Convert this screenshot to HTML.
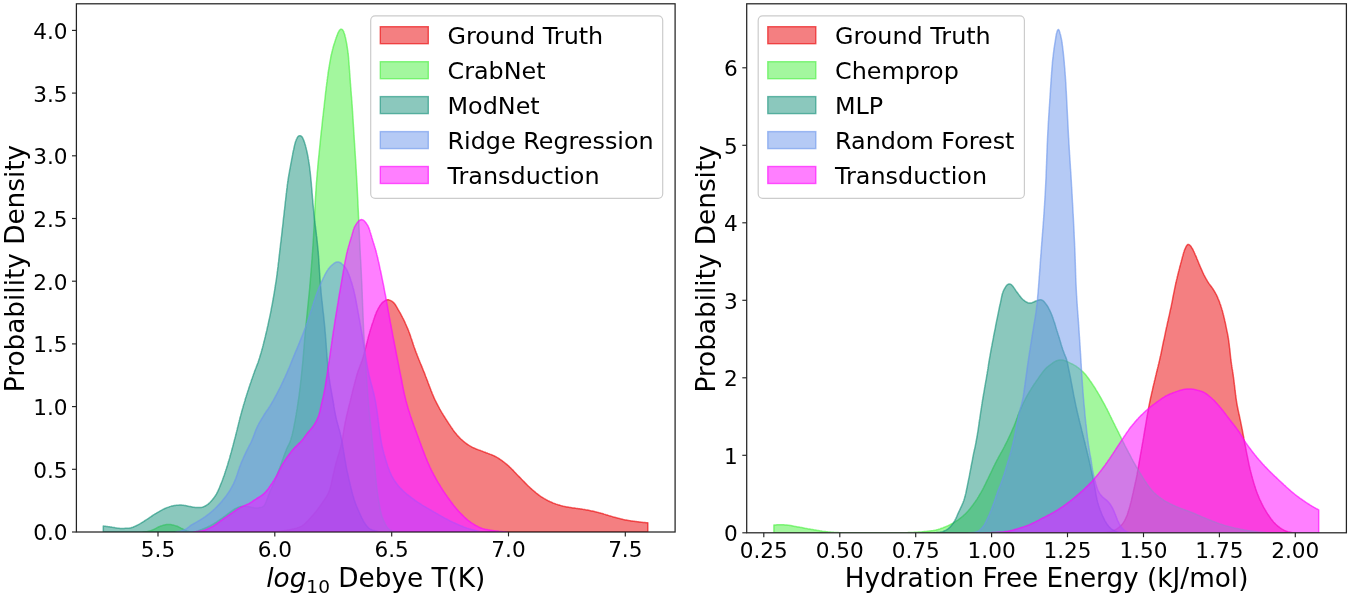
<!DOCTYPE html>
<html><head><meta charset="utf-8"><title>KDE</title>
<style>
html,body{margin:0;padding:0;background:#fff}
svg{display:block;filter:blur(0.45px)}
text{font-family:"DejaVu Sans","Liberation Sans",sans-serif;fill:#000}
.tk{font-size:21.6px}
.lb{font-size:26.3px}
.lg{font-size:23.85px}
</style></head><body>
<svg width="1350" height="596" viewBox="0 0 1350 596">
<rect width="1350" height="596" fill="#fff"/>
<clipPath id="cl"><rect x="76.4" y="3.8" width="598.7" height="528.2"/></clipPath>
<g clip-path="url(#cl)">
<rect x="76.4" y="3.8" width="598.7" height="528.2" fill="#fff"/>
<path d="M272.0 532.0 L272.0 532.0 L273.2 531.9 L274.0 531.8 L275.0 531.8 L276.0 531.7 L277.0 531.6 L278.0 531.5 L279.0 531.3 L280.0 531.2 L281.0 531.1 L281.9 530.9 L282.9 530.8 L283.9 530.7 L284.9 530.5 L285.9 530.4 L286.9 530.2 L287.9 530.0 L288.9 529.9 L289.8 529.7 L290.8 529.5 L291.8 529.3 L292.8 529.1 L293.8 528.9 L294.7 528.6 L295.7 528.4 L296.7 528.1 L297.6 527.8 L298.6 527.5 L299.5 527.1 L300.4 526.8 L301.3 526.3 L302.2 525.8 L303.0 525.2 L303.8 524.6 L304.5 524.0 L305.3 523.3 L306.0 522.6 L306.7 521.9 L307.4 521.2 L308.1 520.5 L308.8 519.7 L309.4 519.0 L310.1 518.3 L310.8 517.5 L311.4 516.8 L312.1 516.0 L312.8 515.3 L313.4 514.5 L314.1 513.8 L314.7 513.0 L315.4 512.2 L316.0 511.5 L316.6 510.7 L317.2 509.9 L317.8 509.1 L318.4 508.3 L319.0 507.5 L319.6 506.7 L320.2 505.8 L320.8 505.0 L321.3 504.2 L321.9 503.4 L322.5 502.6 L323.0 501.7 L323.6 500.9 L324.1 500.1 L324.7 499.3 L325.3 498.4 L325.8 497.6 L326.4 496.8 L326.9 495.9 L327.4 495.0 L327.9 494.2 L328.3 493.3 L328.7 492.4 L329.1 491.4 L329.4 490.5 L329.8 489.5 L330.0 488.6 L330.3 487.6 L330.6 486.7 L330.8 485.7 L331.1 484.7 L331.3 483.7 L331.5 482.8 L331.7 481.8 L332.0 480.8 L332.2 479.8 L332.4 478.9 L332.6 477.9 L332.8 476.9 L333.0 475.9 L333.2 475.0 L333.4 474.0 L333.7 473.0 L333.9 472.0 L334.1 471.0 L334.3 470.1 L334.5 469.1 L334.7 468.1 L335.0 467.1 L335.2 466.2 L335.5 465.2 L335.7 464.2 L336.0 463.3 L336.2 462.3 L336.5 461.3 L336.8 460.4 L337.1 459.4 L337.3 458.5 L337.6 457.5 L337.9 456.6 L338.2 455.6 L338.5 454.6 L338.8 453.7 L339.1 452.7 L339.4 451.8 L339.6 450.8 L339.9 449.8 L340.2 448.9 L340.4 447.9 L340.7 446.9 L340.9 446.0 L341.2 445.0 L341.4 444.0 L341.6 443.1 L341.9 442.1 L342.1 441.1 L342.3 440.1 L342.5 439.1 L342.6 438.2 L342.8 437.2 L342.9 436.2 L343.1 435.2 L343.2 434.2 L343.4 433.2 L343.5 432.2 L343.7 431.2 L343.8 430.3 L344.0 429.3 L344.1 428.3 L344.3 427.3 L344.5 426.3 L344.7 425.3 L344.9 424.3 L345.0 423.4 L345.2 422.4 L345.4 421.4 L345.7 420.4 L345.9 419.4 L346.1 418.5 L346.3 417.5 L346.5 416.5 L346.7 415.5 L346.9 414.6 L347.2 413.6 L347.4 412.6 L347.6 411.6 L347.9 410.7 L348.1 409.7 L348.3 408.7 L348.6 407.8 L348.8 406.8 L349.1 405.8 L349.3 404.8 L349.5 403.9 L349.8 402.9 L350.0 401.9 L350.3 401.0 L350.5 400.0 L350.7 399.0 L351.0 398.0 L351.2 397.1 L351.4 396.1 L351.7 395.1 L351.9 394.2 L352.2 393.2 L352.4 392.2 L352.6 391.2 L352.9 390.3 L353.1 389.3 L353.3 388.3 L353.6 387.4 L353.8 386.4 L354.1 385.4 L354.3 384.5 L354.6 383.5 L354.8 382.5 L355.1 381.5 L355.3 380.6 L355.6 379.6 L355.9 378.7 L356.1 377.7 L356.4 376.7 L356.7 375.8 L356.9 374.8 L357.2 373.8 L357.5 372.9 L357.8 371.9 L358.1 371.0 L358.5 370.0 L358.8 369.1 L359.2 368.2 L359.5 367.2 L359.9 366.3 L360.2 365.4 L360.6 364.4 L361.0 363.5 L361.3 362.6 L361.6 361.6 L362.0 360.7 L362.3 359.7 L362.6 358.8 L362.9 357.8 L363.2 356.9 L363.4 355.9 L363.7 354.9 L364.0 354.0 L364.2 353.0 L364.5 352.0 L364.8 351.1 L365.0 350.1 L365.3 349.1 L365.5 348.2 L365.8 347.2 L366.0 346.2 L366.3 345.3 L366.5 344.3 L366.7 343.3 L367.0 342.4 L367.2 341.4 L367.5 340.4 L367.7 339.5 L368.0 338.5 L368.2 337.5 L368.5 336.5 L368.8 335.6 L369.0 334.6 L369.3 333.7 L369.6 332.7 L369.8 331.7 L370.1 330.8 L370.4 329.8 L370.7 328.9 L371.0 327.9 L371.3 327.0 L371.6 326.0 L371.9 325.1 L372.2 324.1 L372.5 323.2 L372.9 322.2 L373.2 321.3 L373.5 320.3 L373.8 319.4 L374.1 318.4 L374.5 317.5 L374.8 316.5 L375.1 315.6 L375.5 314.6 L375.9 313.7 L376.2 312.8 L376.6 311.9 L377.0 311.0 L377.5 310.1 L377.9 309.2 L378.4 308.3 L378.9 307.4 L379.4 306.6 L379.9 305.7 L380.5 304.9 L381.1 304.1 L381.7 303.3 L382.4 302.6 L383.2 301.9 L384.0 301.3 L384.8 300.8 L385.7 300.3 L386.6 300.0 L387.5 299.8 L388.5 299.8 L389.4 300.1 L390.3 300.4 L391.2 300.9 L392.1 301.4 L392.9 302.0 L393.6 302.6 L394.3 303.4 L394.9 304.1 L395.5 305.0 L396.0 305.8 L396.5 306.7 L397.0 307.5 L397.5 308.4 L398.0 309.3 L398.5 310.1 L399.0 311.0 L399.5 311.9 L400.0 312.7 L400.5 313.6 L401.0 314.5 L401.4 315.4 L401.9 316.3 L402.4 317.2 L402.8 318.0 L403.3 318.9 L403.7 319.8 L404.1 320.7 L404.6 321.6 L405.0 322.5 L405.4 323.5 L405.8 324.4 L406.2 325.3 L406.6 326.2 L407.0 327.1 L407.4 328.0 L407.8 328.9 L408.2 329.9 L408.6 330.8 L408.9 331.7 L409.3 332.7 L409.6 333.6 L409.9 334.6 L410.3 335.5 L410.6 336.4 L410.9 337.4 L411.2 338.3 L411.6 339.3 L411.9 340.2 L412.2 341.2 L412.5 342.1 L412.8 343.1 L413.1 344.0 L413.4 345.0 L413.8 345.9 L414.1 346.9 L414.4 347.8 L414.8 348.8 L415.1 349.7 L415.4 350.6 L415.8 351.6 L416.1 352.5 L416.5 353.4 L416.9 354.4 L417.2 355.3 L417.6 356.2 L418.0 357.2 L418.3 358.1 L418.7 359.0 L419.1 360.0 L419.5 360.9 L419.8 361.8 L420.2 362.7 L420.6 363.7 L421.0 364.6 L421.4 365.5 L421.7 366.4 L422.1 367.4 L422.5 368.3 L422.9 369.2 L423.2 370.1 L423.6 371.1 L424.0 372.0 L424.4 372.9 L424.7 373.9 L425.1 374.8 L425.4 375.7 L425.8 376.7 L426.2 377.6 L426.5 378.5 L426.9 379.5 L427.2 380.4 L427.6 381.3 L427.9 382.3 L428.3 383.2 L428.6 384.1 L429.0 385.1 L429.3 386.0 L429.7 386.9 L430.0 387.9 L430.4 388.8 L430.8 389.7 L431.1 390.7 L431.5 391.6 L431.9 392.5 L432.2 393.5 L432.6 394.4 L433.0 395.3 L433.4 396.2 L433.8 397.1 L434.2 398.1 L434.6 399.0 L435.0 399.9 L435.5 400.8 L435.9 401.7 L436.4 402.6 L436.8 403.5 L437.3 404.3 L437.7 405.2 L438.2 406.1 L438.7 407.0 L439.2 407.9 L439.6 408.8 L440.1 409.6 L440.6 410.5 L441.1 411.4 L441.6 412.2 L442.1 413.1 L442.7 413.9 L443.2 414.8 L443.7 415.6 L444.2 416.5 L444.8 417.3 L445.3 418.2 L445.8 419.0 L446.4 419.9 L446.9 420.7 L447.5 421.5 L448.0 422.4 L448.6 423.2 L449.1 424.1 L449.7 424.9 L450.2 425.7 L450.8 426.6 L451.3 427.4 L451.9 428.2 L452.5 429.0 L453.0 429.8 L453.6 430.7 L454.2 431.5 L454.8 432.3 L455.4 433.0 L456.1 433.8 L456.7 434.6 L457.3 435.4 L458.0 436.1 L458.7 436.8 L459.4 437.6 L460.1 438.3 L460.8 439.0 L461.6 439.6 L462.3 440.3 L463.1 441.0 L463.8 441.6 L464.6 442.2 L465.4 442.9 L466.2 443.5 L467.0 444.0 L467.8 444.6 L468.6 445.2 L469.5 445.7 L470.3 446.2 L471.2 446.7 L472.1 447.2 L473.0 447.6 L473.9 448.0 L474.8 448.4 L475.7 448.8 L476.7 449.2 L477.6 449.5 L478.5 449.9 L479.5 450.2 L480.4 450.5 L481.4 450.9 L482.3 451.2 L483.2 451.6 L484.2 452.0 L485.1 452.3 L486.0 452.7 L487.0 453.0 L487.9 453.4 L488.8 453.7 L489.8 454.1 L490.7 454.4 L491.6 454.8 L492.6 455.2 L493.5 455.6 L494.4 456.0 L495.3 456.5 L496.2 456.9 L497.0 457.4 L497.9 457.9 L498.7 458.5 L499.6 459.0 L500.4 459.6 L501.2 460.1 L502.0 460.7 L502.8 461.3 L503.6 461.9 L504.4 462.5 L505.2 463.2 L506.0 463.8 L506.8 464.4 L507.5 465.1 L508.3 465.7 L509.0 466.4 L509.7 467.1 L510.5 467.8 L511.2 468.5 L511.9 469.2 L512.6 469.9 L513.3 470.6 L514.0 471.4 L514.6 472.1 L515.3 472.8 L516.0 473.5 L516.7 474.3 L517.4 475.0 L518.1 475.7 L518.8 476.4 L519.5 477.1 L520.2 477.8 L520.9 478.5 L521.6 479.3 L522.3 480.0 L523.0 480.7 L523.7 481.4 L524.4 482.1 L525.1 482.9 L525.8 483.6 L526.5 484.3 L527.2 485.0 L527.9 485.7 L528.6 486.4 L529.4 487.0 L530.1 487.7 L530.8 488.4 L531.6 489.1 L532.3 489.7 L533.1 490.4 L533.9 491.0 L534.6 491.7 L535.4 492.3 L536.1 493.0 L536.9 493.6 L537.7 494.2 L538.5 494.8 L539.3 495.4 L540.1 496.0 L540.9 496.6 L541.8 497.1 L542.6 497.6 L543.5 498.2 L544.3 498.7 L545.2 499.2 L546.1 499.7 L547.0 500.1 L547.8 500.6 L548.7 501.0 L549.6 501.5 L550.6 501.9 L551.5 502.3 L552.4 502.7 L553.3 503.1 L554.2 503.4 L555.2 503.8 L556.1 504.1 L557.1 504.4 L558.0 504.7 L559.0 505.0 L559.9 505.3 L560.9 505.6 L561.9 505.9 L562.8 506.1 L563.8 506.4 L564.8 506.6 L565.7 506.8 L566.7 507.0 L567.7 507.1 L568.7 507.3 L569.7 507.5 L570.7 507.6 L571.7 507.7 L572.7 507.9 L573.7 508.0 L574.6 508.1 L575.6 508.3 L576.6 508.4 L577.6 508.5 L578.6 508.7 L579.6 508.8 L580.6 509.0 L581.6 509.1 L582.6 509.3 L583.5 509.4 L584.5 509.6 L585.5 509.8 L586.5 509.9 L587.5 510.1 L588.5 510.3 L589.5 510.5 L590.4 510.7 L591.4 510.9 L592.4 511.1 L593.4 511.3 L594.3 511.5 L595.3 511.8 L596.3 512.0 L597.3 512.3 L598.2 512.5 L599.2 512.8 L600.2 513.0 L601.1 513.3 L602.1 513.5 L603.1 513.8 L604.0 514.1 L605.0 514.4 L605.9 514.7 L606.9 515.0 L607.8 515.3 L608.8 515.6 L609.7 515.9 L610.7 516.1 L611.7 516.4 L612.6 516.7 L613.6 517.0 L614.5 517.2 L615.5 517.5 L616.5 517.8 L617.4 518.0 L618.4 518.3 L619.4 518.5 L620.3 518.8 L621.3 519.0 L622.3 519.2 L623.3 519.5 L624.2 519.7 L625.2 519.9 L626.2 520.0 L627.2 520.2 L628.2 520.4 L629.2 520.6 L630.2 520.7 L631.1 520.9 L632.1 521.0 L633.1 521.2 L634.1 521.3 L635.1 521.5 L636.1 521.6 L637.1 521.7 L638.1 521.8 L639.1 522.0 L640.1 522.1 L641.1 522.2 L642.0 522.3 L643.0 522.4 L644.0 522.5 L645.0 522.6 L646.0 522.7 L646.8 522.7 L647.8 522.8 L647.8 532.0 Z" fill="rgb(234,0,4)" fill-opacity="0.5" stroke="rgb(234,0,4)" stroke-opacity="0.62" stroke-width="1.5" stroke-linejoin="round"/>
<path d="M143.0 532.0 L143.0 532.0 L144.2 531.9 L145.0 531.8 L146.0 531.7 L147.0 531.6 L148.0 531.4 L148.9 531.1 L149.9 530.9 L150.8 530.6 L151.8 530.3 L152.7 529.9 L153.6 529.5 L154.5 529.1 L155.4 528.6 L156.3 528.2 L157.2 527.7 L158.1 527.2 L159.0 526.8 L159.9 526.4 L160.8 526.0 L161.8 525.7 L162.7 525.4 L163.7 525.1 L164.6 524.9 L165.6 524.7 L166.6 524.5 L167.6 524.4 L168.6 524.4 L169.6 524.4 L170.6 524.5 L171.6 524.7 L172.5 524.9 L173.5 525.1 L174.5 525.4 L175.4 525.7 L176.4 526.0 L177.3 526.3 L178.2 526.7 L179.1 527.2 L180.0 527.6 L180.9 528.1 L181.8 528.5 L182.7 529.0 L183.6 529.5 L184.4 529.9 L185.3 530.4 L186.3 530.7 L187.2 531.0 L188.2 531.2 L189.2 531.5 L190.2 531.7 L191.1 531.8 L192.1 531.9 L193.1 531.9 L194.1 531.8 L195.1 531.7 L196.1 531.5 L197.0 531.2 L198.0 530.9 L198.9 530.5 L199.8 530.1 L200.7 529.7 L201.7 529.4 L202.6 529.0 L203.5 528.7 L204.5 528.3 L205.4 527.9 L206.3 527.5 L207.2 527.2 L208.1 526.7 L209.0 526.3 L209.9 525.9 L210.8 525.4 L211.7 524.9 L212.6 524.4 L213.4 523.9 L214.3 523.4 L215.1 522.8 L216.0 522.3 L216.8 521.8 L217.6 521.2 L218.5 520.7 L219.3 520.1 L220.1 519.5 L220.9 519.0 L221.7 518.4 L222.6 517.8 L223.4 517.2 L224.2 516.6 L225.0 516.0 L225.8 515.4 L226.6 514.8 L227.4 514.2 L228.2 513.6 L229.0 513.0 L229.8 512.4 L230.6 511.8 L231.4 511.2 L232.2 510.7 L233.0 510.1 L233.9 509.5 L234.7 509.0 L235.6 508.5 L236.5 508.1 L237.4 507.6 L238.3 507.2 L239.2 506.9 L240.2 506.6 L241.2 506.5 L242.1 506.4 L243.1 506.3 L244.1 506.3 L245.1 506.3 L246.1 506.4 L247.1 506.5 L248.1 506.6 L249.1 506.8 L250.1 507.1 L251.0 507.3 L252.0 507.5 L253.0 507.6 L254.0 507.8 L255.0 507.9 L256.0 507.9 L257.0 507.9 L258.0 507.9 L259.0 507.8 L259.9 507.6 L260.9 507.4 L261.9 507.1 L262.8 506.7 L263.6 506.2 L264.3 505.5 L264.8 504.7 L265.2 503.8 L265.6 502.9 L266.0 502.0 L266.3 501.0 L266.7 500.1 L267.0 499.2 L267.4 498.2 L267.8 497.3 L268.1 496.4 L268.5 495.4 L268.8 494.5 L269.2 493.6 L269.6 492.6 L269.9 491.7 L270.3 490.8 L270.7 489.9 L271.1 489.0 L271.5 488.0 L272.0 487.1 L272.4 486.2 L272.8 485.3 L273.2 484.4 L273.7 483.5 L274.1 482.6 L274.4 481.7 L274.8 480.8 L275.2 479.8 L275.6 478.9 L275.9 478.0 L276.3 477.0 L276.6 476.1 L277.0 475.2 L277.3 474.2 L277.7 473.3 L278.0 472.3 L278.4 471.4 L278.7 470.5 L279.1 469.5 L279.4 468.6 L279.8 467.7 L280.1 466.7 L280.5 465.8 L280.8 464.8 L281.1 463.9 L281.5 463.0 L281.8 462.0 L282.2 461.1 L282.5 460.1 L282.8 459.2 L283.2 458.3 L283.5 457.3 L283.8 456.4 L284.2 455.4 L284.5 454.5 L284.9 453.6 L285.2 452.6 L285.6 451.7 L286.0 450.8 L286.3 449.8 L286.7 448.9 L287.1 448.0 L287.5 447.1 L288.0 446.2 L288.4 445.3 L288.9 444.4 L289.3 443.5 L289.7 442.6 L290.1 441.6 L290.4 440.7 L290.8 439.8 L291.1 438.8 L291.3 437.9 L291.6 436.9 L291.9 435.9 L292.1 435.0 L292.4 434.0 L292.6 433.0 L292.8 432.0 L293.0 431.1 L293.3 430.1 L293.5 429.1 L293.7 428.1 L293.9 427.2 L294.1 426.2 L294.2 425.2 L294.4 424.2 L294.6 423.2 L294.8 422.2 L295.0 421.3 L295.2 420.3 L295.3 419.3 L295.5 418.3 L295.7 417.3 L295.8 416.3 L296.0 415.4 L296.2 414.4 L296.3 413.4 L296.5 412.4 L296.7 411.4 L296.8 410.4 L297.0 409.4 L297.2 408.4 L297.3 407.5 L297.5 406.5 L297.6 405.5 L297.8 404.5 L297.9 403.5 L298.1 402.5 L298.2 401.5 L298.4 400.5 L298.5 399.5 L298.7 398.6 L298.8 397.6 L298.9 396.6 L299.1 395.6 L299.2 394.6 L299.3 393.6 L299.4 392.6 L299.6 391.6 L299.7 390.6 L299.8 389.6 L299.9 388.6 L300.1 387.6 L300.2 386.7 L300.3 385.7 L300.4 384.7 L300.5 383.7 L300.6 382.7 L300.7 381.7 L300.9 380.7 L301.0 379.7 L301.1 378.7 L301.2 377.7 L301.3 376.7 L301.4 375.7 L301.5 374.7 L301.6 373.7 L301.7 372.7 L301.8 371.7 L301.9 370.8 L302.0 369.8 L302.1 368.8 L302.2 367.8 L302.3 366.8 L302.4 365.8 L302.5 364.8 L302.6 363.8 L302.7 362.8 L302.8 361.8 L302.9 360.8 L303.0 359.8 L303.0 358.8 L303.1 357.8 L303.2 356.8 L303.3 355.8 L303.4 354.8 L303.5 353.8 L303.6 352.8 L303.6 351.8 L303.7 350.8 L303.8 349.8 L303.9 348.8 L304.0 347.8 L304.0 346.8 L304.1 345.8 L304.2 344.9 L304.3 343.9 L304.4 342.9 L304.5 341.9 L304.5 340.9 L304.6 339.9 L304.7 338.9 L304.8 337.9 L304.9 336.9 L305.0 335.9 L305.1 334.9 L305.1 333.9 L305.2 332.9 L305.3 331.9 L305.4 330.9 L305.5 329.9 L305.6 328.9 L305.7 327.9 L305.8 326.9 L305.9 325.9 L306.0 324.9 L306.1 323.9 L306.2 322.9 L306.3 321.9 L306.4 321.0 L306.5 320.0 L306.6 319.0 L306.7 318.0 L306.8 317.0 L306.9 316.0 L307.0 315.0 L307.1 314.0 L307.2 313.0 L307.3 312.0 L307.4 311.0 L307.5 310.0 L307.6 309.0 L307.7 308.0 L307.8 307.0 L307.9 306.0 L308.0 305.0 L308.1 304.0 L308.2 303.0 L308.3 302.1 L308.4 301.1 L308.5 300.1 L308.6 299.1 L308.7 298.1 L308.8 297.1 L308.9 296.1 L309.0 295.1 L309.1 294.1 L309.2 293.1 L309.3 292.1 L309.4 291.1 L309.5 290.1 L309.6 289.1 L309.7 288.1 L309.8 287.1 L309.8 286.1 L309.9 285.1 L310.0 284.1 L310.1 283.1 L310.2 282.1 L310.3 281.1 L310.4 280.1 L310.4 279.1 L310.5 278.2 L310.6 277.2 L310.7 276.2 L310.8 275.2 L310.8 274.2 L310.9 273.2 L311.0 272.2 L311.1 271.2 L311.2 270.2 L311.2 269.2 L311.3 268.2 L311.4 267.2 L311.5 266.2 L311.5 265.2 L311.6 264.2 L311.7 263.2 L311.8 262.2 L311.8 261.2 L311.9 260.2 L312.0 259.2 L312.1 258.2 L312.1 257.2 L312.2 256.2 L312.3 255.2 L312.3 254.2 L312.4 253.2 L312.5 252.2 L312.6 251.2 L312.6 250.2 L312.7 249.2 L312.8 248.2 L312.8 247.2 L312.9 246.2 L313.0 245.2 L313.0 244.2 L313.1 243.2 L313.2 242.2 L313.2 241.3 L313.3 240.3 L313.3 239.3 L313.4 238.3 L313.5 237.3 L313.5 236.3 L313.6 235.3 L313.6 234.3 L313.7 233.3 L313.8 232.3 L313.8 231.3 L313.9 230.3 L313.9 229.3 L314.0 228.3 L314.0 227.3 L314.1 226.3 L314.1 225.3 L314.2 224.3 L314.2 223.3 L314.3 222.3 L314.3 221.3 L314.4 220.3 L314.4 219.3 L314.5 218.3 L314.5 217.3 L314.6 216.3 L314.6 215.3 L314.7 214.3 L314.7 213.3 L314.8 212.3 L314.8 211.3 L314.9 210.3 L314.9 209.3 L315.0 208.3 L315.0 207.3 L315.1 206.3 L315.1 205.3 L315.2 204.3 L315.2 203.3 L315.3 202.3 L315.3 201.3 L315.4 200.3 L315.4 199.3 L315.5 198.3 L315.5 197.3 L315.6 196.3 L315.7 195.3 L315.7 194.3 L315.8 193.3 L315.8 192.3 L315.9 191.3 L316.0 190.3 L316.0 189.3 L316.1 188.3 L316.2 187.3 L316.2 186.3 L316.3 185.3 L316.4 184.3 L316.4 183.3 L316.5 182.3 L316.6 181.3 L316.7 180.4 L316.8 179.4 L316.8 178.4 L316.9 177.4 L317.0 176.4 L317.1 175.4 L317.2 174.4 L317.2 173.4 L317.3 172.4 L317.4 171.4 L317.5 170.4 L317.6 169.4 L317.7 168.4 L317.8 167.4 L317.8 166.4 L317.9 165.4 L318.0 164.4 L318.1 163.4 L318.2 162.4 L318.3 161.4 L318.4 160.4 L318.5 159.4 L318.6 158.4 L318.7 157.4 L318.8 156.4 L318.9 155.4 L319.0 154.5 L319.1 153.5 L319.2 152.5 L319.3 151.5 L319.4 150.5 L319.5 149.5 L319.6 148.5 L319.7 147.5 L319.8 146.5 L319.9 145.5 L320.0 144.5 L320.1 143.5 L320.2 142.5 L320.3 141.5 L320.4 140.5 L320.5 139.5 L320.6 138.5 L320.7 137.5 L320.8 136.5 L320.9 135.6 L321.0 134.6 L321.1 133.6 L321.2 132.6 L321.3 131.6 L321.4 130.6 L321.6 129.6 L321.7 128.6 L321.8 127.6 L321.9 126.6 L322.0 125.6 L322.1 124.6 L322.2 123.6 L322.3 122.6 L322.4 121.6 L322.5 120.6 L322.6 119.6 L322.7 118.7 L322.8 117.7 L323.0 116.7 L323.1 115.7 L323.2 114.7 L323.3 113.7 L323.4 112.7 L323.5 111.7 L323.6 110.7 L323.7 109.7 L323.9 108.7 L324.0 107.7 L324.1 106.7 L324.2 105.7 L324.3 104.7 L324.4 103.7 L324.5 102.8 L324.6 101.8 L324.7 100.8 L324.9 99.8 L325.0 98.8 L325.1 97.8 L325.2 96.8 L325.3 95.8 L325.4 94.8 L325.5 93.8 L325.6 92.8 L325.7 91.8 L325.9 90.8 L326.0 89.8 L326.1 88.8 L326.2 87.8 L326.3 86.9 L326.5 85.9 L326.6 84.9 L326.7 83.9 L326.8 82.9 L327.0 81.9 L327.1 80.9 L327.2 79.9 L327.4 78.9 L327.5 77.9 L327.6 76.9 L327.8 75.9 L327.9 75.0 L328.0 74.0 L328.2 73.0 L328.3 72.0 L328.5 71.0 L328.6 70.0 L328.8 69.0 L329.0 68.0 L329.1 67.1 L329.3 66.1 L329.4 65.1 L329.6 64.1 L329.8 63.1 L329.9 62.1 L330.1 61.1 L330.3 60.1 L330.5 59.2 L330.7 58.2 L330.8 57.2 L331.0 56.2 L331.2 55.2 L331.5 54.3 L331.7 53.3 L331.9 52.3 L332.1 51.3 L332.4 50.4 L332.6 49.4 L332.9 48.4 L333.1 47.5 L333.4 46.5 L333.7 45.5 L334.0 44.6 L334.3 43.6 L334.6 42.7 L334.9 41.7 L335.2 40.8 L335.5 39.8 L335.8 38.9 L336.1 37.9 L336.5 37.0 L336.8 36.1 L337.2 35.1 L337.5 34.2 L337.9 33.3 L338.3 32.4 L338.8 31.5 L339.3 30.6 L339.9 29.9 L340.6 29.3 L341.3 29.2 L342.1 29.4 L342.7 30.1 L343.2 30.9 L343.7 31.7 L344.0 32.7 L344.3 33.6 L344.6 34.6 L344.9 35.5 L345.1 36.5 L345.4 37.5 L345.6 38.4 L345.8 39.4 L346.0 40.4 L346.2 41.4 L346.4 42.4 L346.6 43.3 L346.8 44.3 L346.9 45.3 L347.1 46.3 L347.2 47.3 L347.4 48.3 L347.5 49.3 L347.7 50.3 L347.8 51.3 L347.9 52.2 L348.0 53.2 L348.2 54.2 L348.3 55.2 L348.4 56.2 L348.5 57.2 L348.6 58.2 L348.6 59.2 L348.7 60.2 L348.8 61.2 L348.9 62.2 L349.0 63.2 L349.0 64.2 L349.1 65.2 L349.2 66.2 L349.3 67.2 L349.3 68.2 L349.4 69.2 L349.5 70.2 L349.6 71.2 L349.6 72.2 L349.7 73.2 L349.8 74.2 L349.9 75.2 L349.9 76.2 L350.0 77.2 L350.1 78.2 L350.1 79.2 L350.2 80.1 L350.3 81.1 L350.3 82.1 L350.4 83.1 L350.5 84.1 L350.6 85.1 L350.6 86.1 L350.7 87.1 L350.8 88.1 L350.9 89.1 L350.9 90.1 L351.0 91.1 L351.1 92.1 L351.2 93.1 L351.2 94.1 L351.3 95.1 L351.4 96.1 L351.5 97.1 L351.6 98.1 L351.6 99.1 L351.7 100.1 L351.8 101.1 L351.9 102.1 L351.9 103.1 L352.0 104.1 L352.1 105.1 L352.2 106.1 L352.2 107.1 L352.3 108.1 L352.4 109.1 L352.4 110.1 L352.5 111.1 L352.6 112.1 L352.6 113.1 L352.7 114.1 L352.7 115.1 L352.8 116.1 L352.9 117.1 L352.9 118.0 L353.0 119.0 L353.1 120.0 L353.1 121.0 L353.2 122.0 L353.2 123.0 L353.3 124.0 L353.4 125.0 L353.4 126.0 L353.5 127.0 L353.6 128.0 L353.6 129.0 L353.7 130.0 L353.7 131.0 L353.8 132.0 L353.9 133.0 L353.9 134.0 L354.0 135.0 L354.1 136.0 L354.1 137.0 L354.2 138.0 L354.2 139.0 L354.3 140.0 L354.4 141.0 L354.4 142.0 L354.5 143.0 L354.6 144.0 L354.6 145.0 L354.7 146.0 L354.7 147.0 L354.8 148.0 L354.9 149.0 L354.9 150.0 L355.0 151.0 L355.1 152.0 L355.1 153.0 L355.2 154.0 L355.2 155.0 L355.3 156.0 L355.4 157.0 L355.4 158.0 L355.5 159.0 L355.6 160.0 L355.6 161.0 L355.7 162.0 L355.7 163.0 L355.8 164.0 L355.9 165.0 L355.9 166.0 L356.0 167.0 L356.0 168.0 L356.1 169.0 L356.2 169.9 L356.2 170.9 L356.3 171.9 L356.3 172.9 L356.4 173.9 L356.4 174.9 L356.5 175.9 L356.6 176.9 L356.6 177.9 L356.7 178.9 L356.7 179.9 L356.8 180.9 L356.8 181.9 L356.9 182.9 L357.0 183.9 L357.0 184.9 L357.1 185.9 L357.1 186.9 L357.2 187.9 L357.2 188.9 L357.3 189.9 L357.3 190.9 L357.4 191.9 L357.4 192.9 L357.5 193.9 L357.5 194.9 L357.6 195.9 L357.6 196.9 L357.7 197.9 L357.7 198.9 L357.8 199.9 L357.8 200.9 L357.9 201.9 L357.9 202.9 L357.9 203.9 L358.0 204.9 L358.0 205.9 L358.1 206.9 L358.1 207.9 L358.2 208.9 L358.2 209.9 L358.3 210.9 L358.3 211.9 L358.4 212.9 L358.4 213.9 L358.4 214.9 L358.5 215.9 L358.5 216.9 L358.6 217.9 L358.6 218.9 L358.7 219.9 L358.7 220.9 L358.8 221.9 L358.8 222.9 L358.9 223.9 L358.9 224.9 L358.9 225.9 L359.0 226.9 L359.0 227.9 L359.1 228.9 L359.1 229.9 L359.2 230.9 L359.2 231.9 L359.3 232.9 L359.3 233.9 L359.4 234.9 L359.4 235.9 L359.5 236.9 L359.5 237.9 L359.5 238.9 L359.6 239.9 L359.6 240.9 L359.7 241.9 L359.7 242.9 L359.8 243.9 L359.8 244.9 L359.9 245.9 L359.9 246.9 L360.0 247.9 L360.0 248.9 L360.1 249.9 L360.1 250.9 L360.2 251.8 L360.2 252.8 L360.3 253.8 L360.3 254.8 L360.4 255.8 L360.4 256.8 L360.5 257.8 L360.5 258.8 L360.6 259.8 L360.7 260.8 L360.7 261.8 L360.8 262.8 L360.8 263.8 L360.9 264.8 L360.9 265.8 L361.0 266.8 L361.0 267.8 L361.1 268.8 L361.1 269.8 L361.2 270.8 L361.2 271.8 L361.3 272.8 L361.3 273.8 L361.4 274.8 L361.4 275.8 L361.4 276.8 L361.5 277.8 L361.5 278.8 L361.6 279.8 L361.6 280.8 L361.7 281.8 L361.7 282.8 L361.8 283.8 L361.8 284.8 L361.9 285.8 L361.9 286.8 L361.9 287.8 L362.0 288.8 L362.0 289.8 L362.1 290.8 L362.1 291.8 L362.2 292.8 L362.2 293.8 L362.2 294.8 L362.3 295.8 L362.3 296.8 L362.3 297.8 L362.4 298.8 L362.4 299.8 L362.5 300.8 L362.5 301.8 L362.5 302.8 L362.6 303.8 L362.6 304.8 L362.6 305.8 L362.7 306.8 L362.7 307.8 L362.8 308.8 L362.8 309.8 L362.8 310.8 L362.9 311.8 L362.9 312.8 L363.0 313.8 L363.0 314.8 L363.0 315.8 L363.1 316.8 L363.1 317.8 L363.2 318.8 L363.2 319.8 L363.2 320.8 L363.3 321.8 L363.3 322.8 L363.4 323.8 L363.4 324.8 L363.5 325.8 L363.5 326.8 L363.5 327.8 L363.6 328.8 L363.6 329.8 L363.7 330.8 L363.7 331.8 L363.8 332.8 L363.8 333.8 L363.9 334.8 L364.0 335.8 L364.0 336.8 L364.1 337.8 L364.1 338.8 L364.2 339.8 L364.2 340.8 L364.3 341.8 L364.3 342.8 L364.4 343.8 L364.5 344.7 L364.5 345.7 L364.6 346.7 L364.6 347.7 L364.7 348.7 L364.8 349.7 L364.8 350.7 L364.9 351.7 L364.9 352.7 L365.0 353.7 L365.1 354.7 L365.1 355.7 L365.2 356.7 L365.3 357.7 L365.3 358.7 L365.4 359.7 L365.5 360.7 L365.5 361.7 L365.6 362.7 L365.7 363.7 L365.7 364.7 L365.8 365.7 L365.8 366.7 L365.9 367.7 L366.0 368.7 L366.0 369.7 L366.1 370.7 L366.2 371.7 L366.2 372.7 L366.3 373.7 L366.4 374.7 L366.4 375.7 L366.5 376.7 L366.6 377.7 L366.6 378.7 L366.7 379.7 L366.8 380.7 L366.8 381.7 L366.9 382.7 L367.0 383.7 L367.1 384.7 L367.1 385.7 L367.2 386.7 L367.3 387.7 L367.3 388.7 L367.4 389.7 L367.5 390.7 L367.5 391.6 L367.6 392.6 L367.7 393.6 L367.8 394.6 L367.9 395.6 L367.9 396.6 L368.0 397.6 L368.1 398.6 L368.2 399.6 L368.3 400.6 L368.3 401.6 L368.4 402.6 L368.5 403.6 L368.6 404.6 L368.7 405.6 L368.8 406.6 L368.9 407.6 L369.0 408.6 L369.0 409.6 L369.1 410.6 L369.2 411.6 L369.3 412.6 L369.4 413.6 L369.5 414.6 L369.6 415.6 L369.7 416.6 L369.8 417.5 L369.9 418.5 L370.0 419.5 L370.1 420.5 L370.2 421.5 L370.3 422.5 L370.4 423.5 L370.5 424.5 L370.6 425.5 L370.7 426.5 L370.9 427.5 L371.0 428.5 L371.1 429.5 L371.2 430.5 L371.3 431.5 L371.4 432.5 L371.5 433.5 L371.6 434.5 L371.7 435.4 L371.8 436.4 L371.9 437.4 L372.0 438.4 L372.1 439.4 L372.2 440.4 L372.3 441.4 L372.4 442.4 L372.5 443.4 L372.6 444.4 L372.7 445.4 L372.8 446.4 L372.9 447.4 L373.0 448.4 L373.1 449.4 L373.2 450.4 L373.3 451.4 L373.4 452.4 L373.5 453.4 L373.6 454.4 L373.7 455.3 L373.8 456.3 L373.9 457.3 L374.0 458.3 L374.1 459.3 L374.2 460.3 L374.2 461.3 L374.3 462.3 L374.4 463.3 L374.5 464.3 L374.6 465.3 L374.7 466.3 L374.8 467.3 L374.9 468.3 L375.0 469.3 L375.1 470.3 L375.1 471.3 L375.2 472.3 L375.3 473.3 L375.4 474.3 L375.5 475.3 L375.6 476.3 L375.7 477.3 L375.8 478.3 L375.9 479.2 L376.0 480.2 L376.1 481.2 L376.2 482.2 L376.3 483.2 L376.4 484.2 L376.5 485.2 L376.6 486.2 L376.7 487.2 L376.8 488.2 L377.0 489.2 L377.1 490.2 L377.2 491.2 L377.3 492.2 L377.5 493.2 L377.6 494.1 L377.8 495.1 L377.9 496.1 L378.1 497.1 L378.2 498.1 L378.4 499.1 L378.5 500.1 L378.7 501.1 L378.9 502.0 L379.0 503.0 L379.2 504.0 L379.4 505.0 L379.5 506.0 L379.7 507.0 L379.9 508.0 L380.1 508.9 L380.3 509.9 L380.5 510.9 L380.7 511.9 L380.9 512.8 L381.2 513.8 L381.4 514.8 L381.7 515.7 L382.0 516.7 L382.4 517.6 L382.7 518.6 L383.1 519.5 L383.5 520.4 L383.9 521.3 L384.3 522.2 L384.8 523.1 L385.2 524.0 L385.7 524.9 L386.2 525.8 L386.7 526.6 L387.3 527.4 L387.9 528.2 L388.6 528.9 L389.3 529.6 L390.2 530.1 L391.1 530.5 L392.0 530.9 L392.9 531.2 L393.9 531.4 L394.9 531.6 L395.8 531.8 L396.7 531.9 L397.4 532.0 L398.0 532.0 L398.0 532.0 Z" fill="rgb(71,239,61)" fill-opacity="0.5" stroke="rgb(71,239,61)" stroke-opacity="0.62" stroke-width="1.5" stroke-linejoin="round"/>
<path d="M103.3 532.0 L103.3 526.1 L104.5 526.2 L105.3 526.3 L106.3 526.5 L107.3 526.6 L108.3 526.7 L109.3 526.8 L110.2 527.0 L111.2 527.1 L112.2 527.3 L113.2 527.4 L114.2 527.6 L115.2 527.8 L116.2 527.9 L117.2 528.1 L118.1 528.2 L119.1 528.3 L120.1 528.4 L121.1 528.4 L122.1 528.4 L123.1 528.4 L124.1 528.4 L125.1 528.3 L126.1 528.3 L127.1 528.3 L128.1 528.2 L129.1 528.2 L130.1 528.0 L131.1 527.8 L132.0 527.5 L133.0 527.2 L133.9 526.8 L134.8 526.4 L135.7 526.0 L136.6 525.5 L137.5 525.1 L138.4 524.6 L139.3 524.2 L140.2 523.7 L141.0 523.2 L141.9 522.6 L142.7 522.1 L143.6 521.6 L144.4 521.0 L145.2 520.5 L146.1 519.9 L146.9 519.4 L147.8 518.8 L148.6 518.3 L149.4 517.7 L150.2 517.2 L151.1 516.6 L151.9 516.0 L152.7 515.5 L153.5 514.9 L154.4 514.4 L155.2 513.8 L156.1 513.3 L156.9 512.8 L157.8 512.3 L158.7 511.8 L159.5 511.3 L160.4 510.8 L161.3 510.3 L162.2 509.9 L163.0 509.4 L163.9 509.0 L164.9 508.5 L165.8 508.1 L166.7 507.8 L167.6 507.4 L168.6 507.1 L169.5 506.7 L170.5 506.4 L171.4 506.1 L172.4 505.9 L173.4 505.7 L174.3 505.5 L175.3 505.4 L176.3 505.3 L177.3 505.2 L178.3 505.2 L179.3 505.1 L180.3 505.1 L181.3 505.1 L182.3 505.2 L183.3 505.3 L184.3 505.4 L185.3 505.6 L186.3 505.8 L187.3 506.0 L188.2 506.2 L189.2 506.4 L190.2 506.6 L191.2 506.8 L192.2 507.0 L193.1 507.2 L194.1 507.3 L195.1 507.4 L196.1 507.5 L197.1 507.6 L198.1 507.6 L199.1 507.6 L200.1 507.6 L201.1 507.5 L202.0 507.3 L203.0 507.0 L203.9 506.6 L204.8 506.2 L205.7 505.8 L206.6 505.2 L207.4 504.7 L208.2 504.1 L208.9 503.4 L209.7 502.7 L210.4 502.0 L211.1 501.3 L211.7 500.5 L212.4 499.8 L213.0 499.0 L213.6 498.2 L214.2 497.4 L214.8 496.6 L215.4 495.8 L215.9 494.9 L216.4 494.1 L216.9 493.2 L217.3 492.3 L217.8 491.4 L218.2 490.5 L218.6 489.6 L219.0 488.7 L219.4 487.8 L219.8 486.8 L220.2 485.9 L220.5 485.0 L220.9 484.0 L221.3 483.1 L221.6 482.2 L222.0 481.3 L222.4 480.3 L222.7 479.4 L223.0 478.4 L223.4 477.5 L223.7 476.6 L224.1 475.6 L224.4 474.7 L224.7 473.7 L225.0 472.8 L225.3 471.8 L225.6 470.9 L225.9 469.9 L226.3 469.0 L226.6 468.0 L226.9 467.1 L227.2 466.1 L227.5 465.2 L227.8 464.2 L228.0 463.2 L228.3 462.3 L228.6 461.3 L228.9 460.4 L229.2 459.4 L229.5 458.5 L229.8 457.5 L230.0 456.5 L230.3 455.6 L230.6 454.6 L230.8 453.6 L231.1 452.7 L231.4 451.7 L231.6 450.8 L231.9 449.8 L232.2 448.8 L232.4 447.9 L232.7 446.9 L232.9 445.9 L233.2 445.0 L233.4 444.0 L233.7 443.0 L233.9 442.1 L234.2 441.1 L234.4 440.1 L234.7 439.1 L235.0 438.2 L235.2 437.2 L235.5 436.2 L235.7 435.3 L236.0 434.3 L236.2 433.3 L236.4 432.4 L236.7 431.4 L236.9 430.4 L237.2 429.5 L237.4 428.5 L237.6 427.5 L237.9 426.5 L238.1 425.6 L238.4 424.6 L238.6 423.6 L238.8 422.7 L239.1 421.7 L239.3 420.7 L239.6 419.7 L239.8 418.8 L240.1 417.8 L240.3 416.8 L240.6 415.9 L240.8 414.9 L241.1 413.9 L241.4 413.0 L241.6 412.0 L241.9 411.1 L242.2 410.1 L242.4 409.1 L242.7 408.2 L243.0 407.2 L243.2 406.2 L243.5 405.3 L243.8 404.3 L244.1 403.4 L244.4 402.4 L244.7 401.4 L245.0 400.5 L245.2 399.5 L245.5 398.6 L245.8 397.6 L246.1 396.7 L246.4 395.7 L246.7 394.8 L247.0 393.8 L247.3 392.9 L247.6 391.9 L247.9 391.0 L248.3 390.0 L248.6 389.0 L248.9 388.1 L249.2 387.1 L249.5 386.2 L249.8 385.3 L250.1 384.3 L250.5 383.4 L250.8 382.4 L251.1 381.5 L251.4 380.5 L251.7 379.6 L252.1 378.6 L252.4 377.7 L252.7 376.7 L253.1 375.8 L253.4 374.8 L253.7 373.9 L254.1 373.0 L254.4 372.0 L254.7 371.1 L255.1 370.1 L255.4 369.2 L255.8 368.3 L256.2 367.3 L256.5 366.4 L256.9 365.5 L257.3 364.6 L257.6 363.6 L258.0 362.7 L258.3 361.7 L258.6 360.8 L258.9 359.8 L259.3 358.9 L259.6 357.9 L259.8 357.0 L260.1 356.0 L260.4 355.1 L260.7 354.1 L261.0 353.1 L261.3 352.2 L261.5 351.2 L261.8 350.3 L262.1 349.3 L262.3 348.3 L262.6 347.4 L262.8 346.4 L263.1 345.4 L263.3 344.5 L263.6 343.5 L263.8 342.5 L264.1 341.6 L264.3 340.6 L264.6 339.6 L264.8 338.6 L265.0 337.7 L265.3 336.7 L265.5 335.7 L265.7 334.8 L266.0 333.8 L266.2 332.8 L266.4 331.8 L266.7 330.9 L266.9 329.9 L267.1 328.9 L267.3 327.9 L267.5 327.0 L267.8 326.0 L268.0 325.0 L268.2 324.0 L268.4 323.1 L268.6 322.1 L268.8 321.1 L269.0 320.1 L269.2 319.1 L269.5 318.2 L269.7 317.2 L269.9 316.2 L270.1 315.2 L270.3 314.2 L270.5 313.3 L270.7 312.3 L270.9 311.3 L271.1 310.3 L271.2 309.3 L271.4 308.4 L271.6 307.4 L271.8 306.4 L272.0 305.4 L272.2 304.4 L272.4 303.5 L272.6 302.5 L272.7 301.5 L272.9 300.5 L273.1 299.5 L273.3 298.5 L273.4 297.5 L273.6 296.6 L273.8 295.6 L273.9 294.6 L274.1 293.6 L274.3 292.6 L274.4 291.6 L274.6 290.6 L274.8 289.7 L274.9 288.7 L275.1 287.7 L275.2 286.7 L275.4 285.7 L275.5 284.7 L275.7 283.7 L275.8 282.7 L276.0 281.8 L276.1 280.8 L276.3 279.8 L276.4 278.8 L276.6 277.8 L276.7 276.8 L276.8 275.8 L277.0 274.8 L277.1 273.8 L277.2 272.8 L277.3 271.8 L277.5 270.9 L277.6 269.9 L277.7 268.9 L277.8 267.9 L278.0 266.9 L278.1 265.9 L278.2 264.9 L278.3 263.9 L278.4 262.9 L278.6 261.9 L278.7 260.9 L278.8 259.9 L278.9 258.9 L279.0 257.9 L279.1 257.0 L279.2 256.0 L279.4 255.0 L279.5 254.0 L279.6 253.0 L279.7 252.0 L279.8 251.0 L279.9 250.0 L280.1 249.0 L280.2 248.0 L280.3 247.0 L280.4 246.0 L280.5 245.0 L280.6 244.0 L280.7 243.0 L280.9 242.1 L281.0 241.1 L281.1 240.1 L281.2 239.1 L281.3 238.1 L281.4 237.1 L281.6 236.1 L281.7 235.1 L281.8 234.1 L281.9 233.1 L282.0 232.1 L282.1 231.1 L282.2 230.1 L282.3 229.1 L282.4 228.1 L282.6 227.1 L282.7 226.2 L282.8 225.2 L282.9 224.2 L283.0 223.2 L283.1 222.2 L283.2 221.2 L283.3 220.2 L283.4 219.2 L283.5 218.2 L283.7 217.2 L283.8 216.2 L283.9 215.2 L284.0 214.2 L284.1 213.2 L284.2 212.2 L284.3 211.2 L284.4 210.3 L284.6 209.3 L284.7 208.3 L284.8 207.3 L284.9 206.3 L285.0 205.3 L285.1 204.3 L285.2 203.3 L285.3 202.3 L285.4 201.3 L285.6 200.3 L285.7 199.3 L285.8 198.3 L285.9 197.3 L286.0 196.3 L286.1 195.3 L286.2 194.4 L286.3 193.4 L286.5 192.4 L286.6 191.4 L286.7 190.4 L286.8 189.4 L286.9 188.4 L287.1 187.4 L287.2 186.4 L287.3 185.4 L287.4 184.4 L287.6 183.4 L287.7 182.4 L287.9 181.5 L288.0 180.5 L288.1 179.5 L288.3 178.5 L288.5 177.5 L288.6 176.5 L288.8 175.5 L288.9 174.5 L289.1 173.6 L289.3 172.6 L289.5 171.6 L289.6 170.6 L289.8 169.6 L290.0 168.6 L290.2 167.7 L290.4 166.7 L290.6 165.7 L290.7 164.7 L290.9 163.7 L291.1 162.7 L291.3 161.8 L291.5 160.8 L291.6 159.8 L291.8 158.8 L292.0 157.8 L292.2 156.8 L292.4 155.9 L292.6 154.9 L292.7 153.9 L292.9 152.9 L293.1 151.9 L293.3 151.0 L293.6 150.0 L293.8 149.0 L294.0 148.0 L294.2 147.0 L294.4 146.1 L294.6 145.1 L294.9 144.1 L295.1 143.2 L295.4 142.2 L295.7 141.2 L296.1 140.3 L296.4 139.4 L296.9 138.5 L297.3 137.6 L297.9 136.8 L298.6 136.1 L299.3 135.7 L300.2 135.7 L301.0 136.0 L301.7 136.6 L302.3 137.3 L302.8 138.2 L303.2 139.1 L303.6 140.0 L303.9 140.9 L304.3 141.9 L304.6 142.8 L304.9 143.8 L305.2 144.7 L305.5 145.7 L305.7 146.7 L306.0 147.6 L306.2 148.6 L306.4 149.6 L306.7 150.6 L306.9 151.5 L307.1 152.5 L307.3 153.5 L307.5 154.5 L307.7 155.4 L307.9 156.4 L308.1 157.4 L308.2 158.4 L308.4 159.4 L308.6 160.4 L308.7 161.4 L308.9 162.3 L309.0 163.3 L309.2 164.3 L309.3 165.3 L309.5 166.3 L309.6 167.3 L309.7 168.3 L309.8 169.3 L309.9 170.3 L310.1 171.3 L310.2 172.3 L310.3 173.3 L310.4 174.3 L310.5 175.2 L310.6 176.2 L310.7 177.2 L310.8 178.2 L310.9 179.2 L311.0 180.2 L311.1 181.2 L311.2 182.2 L311.3 183.2 L311.4 184.2 L311.4 185.2 L311.5 186.2 L311.6 187.2 L311.7 188.2 L311.8 189.2 L311.9 190.2 L312.0 191.2 L312.0 192.2 L312.1 193.2 L312.2 194.2 L312.3 195.2 L312.4 196.2 L312.4 197.2 L312.5 198.2 L312.6 199.1 L312.7 200.1 L312.8 201.1 L312.8 202.1 L312.9 203.1 L313.0 204.1 L313.1 205.1 L313.2 206.1 L313.3 207.1 L313.4 208.1 L313.5 209.1 L313.6 210.1 L313.7 211.1 L313.8 212.1 L313.9 213.1 L314.0 214.1 L314.1 215.1 L314.2 216.1 L314.3 217.1 L314.4 218.1 L314.5 219.1 L314.6 220.1 L314.7 221.0 L314.8 222.0 L315.0 223.0 L315.1 224.0 L315.2 225.0 L315.3 226.0 L315.5 227.0 L315.6 228.0 L315.7 229.0 L315.8 230.0 L315.9 231.0 L316.1 232.0 L316.2 233.0 L316.3 233.9 L316.4 234.9 L316.5 235.9 L316.7 236.9 L316.8 237.9 L316.9 238.9 L317.0 239.9 L317.1 240.9 L317.2 241.9 L317.3 242.9 L317.4 243.9 L317.5 244.9 L317.6 245.9 L317.7 246.9 L317.8 247.9 L317.9 248.9 L318.0 249.9 L318.1 250.9 L318.2 251.8 L318.3 252.8 L318.3 253.8 L318.4 254.8 L318.5 255.8 L318.6 256.8 L318.6 257.8 L318.7 258.8 L318.8 259.8 L318.8 260.8 L318.9 261.8 L319.0 262.8 L319.0 263.8 L319.1 264.8 L319.2 265.8 L319.2 266.8 L319.3 267.8 L319.3 268.8 L319.4 269.8 L319.5 270.8 L319.5 271.8 L319.6 272.8 L319.7 273.8 L319.7 274.8 L319.8 275.8 L319.9 276.8 L319.9 277.8 L320.0 278.8 L320.1 279.8 L320.1 280.8 L320.2 281.8 L320.3 282.8 L320.4 283.8 L320.4 284.8 L320.5 285.8 L320.6 286.8 L320.7 287.8 L320.8 288.8 L320.9 289.8 L321.0 290.7 L321.0 291.7 L321.1 292.7 L321.2 293.7 L321.3 294.7 L321.4 295.7 L321.5 296.7 L321.6 297.7 L321.7 298.7 L321.8 299.7 L321.9 300.7 L322.0 301.7 L322.2 302.7 L322.3 303.7 L322.4 304.7 L322.5 305.7 L322.6 306.7 L322.7 307.7 L322.8 308.7 L322.9 309.6 L323.0 310.6 L323.1 311.6 L323.2 312.6 L323.4 313.6 L323.5 314.6 L323.6 315.6 L323.7 316.6 L323.8 317.6 L323.9 318.6 L324.0 319.6 L324.1 320.6 L324.2 321.6 L324.3 322.6 L324.4 323.6 L324.5 324.6 L324.6 325.6 L324.7 326.6 L324.8 327.6 L324.9 328.5 L325.0 329.5 L325.0 330.5 L325.1 331.5 L325.2 332.5 L325.3 333.5 L325.4 334.5 L325.5 335.5 L325.5 336.5 L325.6 337.5 L325.7 338.5 L325.8 339.5 L325.8 340.5 L325.9 341.5 L326.0 342.5 L326.1 343.5 L326.1 344.5 L326.2 345.5 L326.3 346.5 L326.3 347.5 L326.4 348.5 L326.5 349.5 L326.6 350.5 L326.6 351.5 L326.7 352.5 L326.8 353.5 L326.9 354.5 L326.9 355.5 L327.0 356.5 L327.1 357.5 L327.2 358.5 L327.2 359.5 L327.3 360.5 L327.4 361.4 L327.5 362.4 L327.6 363.4 L327.7 364.4 L327.7 365.4 L327.8 366.4 L327.9 367.4 L328.0 368.4 L328.1 369.4 L328.2 370.4 L328.3 371.4 L328.5 372.4 L328.6 373.4 L328.7 374.4 L328.8 375.4 L329.0 376.4 L329.1 377.4 L329.2 378.3 L329.4 379.3 L329.5 380.3 L329.7 381.3 L329.8 382.3 L330.0 383.3 L330.1 384.3 L330.3 385.3 L330.5 386.3 L330.6 387.2 L330.8 388.2 L331.0 389.2 L331.2 390.2 L331.3 391.2 L331.5 392.2 L331.7 393.1 L331.9 394.1 L332.0 395.1 L332.2 396.1 L332.4 397.1 L332.6 398.1 L332.7 399.1 L332.9 400.0 L333.1 401.0 L333.2 402.0 L333.4 403.0 L333.6 404.0 L333.7 405.0 L333.9 406.0 L334.0 406.9 L334.2 407.9 L334.4 408.9 L334.5 409.9 L334.7 410.9 L334.9 411.9 L335.1 412.9 L335.3 413.8 L335.4 414.8 L335.6 415.8 L335.9 416.8 L336.1 417.8 L336.3 418.7 L336.5 419.7 L336.8 420.7 L337.0 421.6 L337.3 422.6 L337.6 423.6 L337.8 424.5 L338.1 425.5 L338.4 426.5 L338.6 427.4 L338.9 428.4 L339.2 429.3 L339.4 430.3 L339.7 431.3 L340.0 432.2 L340.2 433.2 L340.4 434.2 L340.7 435.2 L340.9 436.1 L341.1 437.1 L341.3 438.1 L341.5 439.1 L341.7 440.0 L341.9 441.0 L342.1 442.0 L342.3 443.0 L342.4 444.0 L342.6 445.0 L342.8 445.9 L342.9 446.9 L343.1 447.9 L343.3 448.9 L343.4 449.9 L343.6 450.9 L343.7 451.9 L343.9 452.9 L344.1 453.8 L344.2 454.8 L344.4 455.8 L344.5 456.8 L344.7 457.8 L344.9 458.8 L345.0 459.8 L345.2 460.8 L345.4 461.7 L345.5 462.7 L345.7 463.7 L345.9 464.7 L346.1 465.7 L346.2 466.7 L346.4 467.6 L346.6 468.6 L346.8 469.6 L347.0 470.6 L347.2 471.6 L347.4 472.5 L347.7 473.5 L347.9 474.5 L348.1 475.5 L348.3 476.4 L348.5 477.4 L348.7 478.4 L349.0 479.4 L349.2 480.3 L349.4 481.3 L349.6 482.3 L349.9 483.3 L350.1 484.2 L350.3 485.2 L350.6 486.2 L350.8 487.2 L351.0 488.1 L351.3 489.1 L351.5 490.1 L351.8 491.0 L352.0 492.0 L352.3 493.0 L352.5 493.9 L352.8 494.9 L353.1 495.9 L353.4 496.8 L353.6 497.8 L353.9 498.7 L354.2 499.7 L354.5 500.6 L354.8 501.6 L355.2 502.5 L355.5 503.5 L355.9 504.4 L356.2 505.3 L356.6 506.3 L357.0 507.2 L357.4 508.1 L357.8 509.0 L358.2 510.0 L358.6 510.9 L359.0 511.8 L359.4 512.7 L359.8 513.6 L360.2 514.5 L360.6 515.4 L361.1 516.3 L361.5 517.2 L361.9 518.1 L362.4 519.0 L362.9 519.9 L363.3 520.8 L363.8 521.7 L364.3 522.5 L364.9 523.4 L365.4 524.2 L366.0 525.0 L366.6 525.8 L367.2 526.6 L367.9 527.3 L368.6 528.0 L369.4 528.6 L370.3 529.1 L371.2 529.5 L372.1 529.9 L373.0 530.2 L374.0 530.5 L374.9 530.8 L375.9 531.1 L376.9 531.3 L377.8 531.5 L378.8 531.7 L379.8 531.8 L380.7 531.9 L381.4 532.0 L382.0 532.0 L382.0 532.0 Z" fill="rgb(23,145,123)" fill-opacity="0.5" stroke="rgb(23,145,123)" stroke-opacity="0.62" stroke-width="1.5" stroke-linejoin="round"/>
<path d="M176.0 532.0 L176.0 532.0 L177.1 531.8 L178.0 531.6 L178.9 531.4 L179.9 531.2 L180.9 530.9 L181.8 530.6 L182.8 530.3 L183.7 530.0 L184.7 529.7 L185.6 529.3 L186.5 528.8 L187.3 528.2 L188.0 527.6 L188.8 527.0 L189.6 526.3 L190.4 525.7 L191.2 525.1 L192.0 524.6 L192.9 524.1 L193.8 523.6 L194.6 523.1 L195.5 522.7 L196.4 522.2 L197.3 521.7 L198.1 521.2 L199.0 520.7 L199.9 520.2 L200.7 519.6 L201.5 519.1 L202.4 518.6 L203.2 518.0 L204.0 517.4 L204.9 516.9 L205.7 516.3 L206.5 515.7 L207.3 515.1 L208.1 514.5 L208.9 513.9 L209.7 513.3 L210.4 512.6 L211.2 512.0 L212.0 511.3 L212.7 510.7 L213.4 510.0 L214.2 509.3 L214.9 508.7 L215.6 508.0 L216.3 507.3 L217.1 506.6 L217.7 505.8 L218.4 505.1 L219.1 504.4 L219.8 503.6 L220.5 502.9 L221.1 502.1 L221.8 501.4 L222.4 500.6 L223.0 499.8 L223.7 499.1 L224.3 498.3 L224.9 497.5 L225.5 496.7 L226.1 495.9 L226.7 495.1 L227.3 494.3 L227.8 493.4 L228.4 492.6 L229.0 491.8 L229.5 490.9 L230.0 490.1 L230.5 489.2 L231.0 488.4 L231.5 487.5 L232.0 486.6 L232.5 485.7 L232.9 484.9 L233.4 484.0 L233.8 483.1 L234.2 482.2 L234.7 481.2 L235.0 480.3 L235.4 479.4 L235.8 478.5 L236.1 477.5 L236.5 476.6 L236.8 475.6 L237.1 474.7 L237.4 473.7 L237.7 472.8 L238.0 471.8 L238.3 470.9 L238.6 469.9 L239.0 469.0 L239.3 468.0 L239.6 467.1 L240.0 466.1 L240.3 465.2 L240.7 464.3 L241.0 463.4 L241.4 462.4 L241.8 461.5 L242.2 460.6 L242.6 459.7 L243.0 458.8 L243.4 457.8 L243.8 456.9 L244.2 456.0 L244.6 455.1 L245.1 454.2 L245.5 453.3 L245.9 452.4 L246.3 451.5 L246.8 450.6 L247.2 449.7 L247.7 448.8 L248.1 447.9 L248.6 447.0 L249.0 446.1 L249.5 445.2 L250.0 444.4 L250.4 443.5 L250.9 442.6 L251.3 441.7 L251.7 440.8 L252.1 439.9 L252.5 438.9 L252.9 438.0 L253.3 437.1 L253.6 436.1 L253.9 435.2 L254.3 434.3 L254.6 433.3 L255.0 432.4 L255.3 431.4 L255.7 430.5 L256.0 429.6 L256.4 428.7 L256.8 427.7 L257.3 426.8 L257.7 425.9 L258.2 425.0 L258.6 424.2 L259.1 423.3 L259.6 422.4 L260.1 421.5 L260.6 420.7 L261.1 419.8 L261.6 418.9 L262.1 418.1 L262.6 417.2 L263.2 416.4 L263.7 415.5 L264.2 414.7 L264.7 413.8 L265.3 413.0 L265.8 412.2 L266.4 411.3 L267.0 410.5 L267.5 409.7 L268.1 408.9 L268.7 408.0 L269.2 407.2 L269.8 406.4 L270.3 405.5 L270.8 404.7 L271.3 403.8 L271.8 403.0 L272.3 402.1 L272.8 401.2 L273.3 400.4 L273.8 399.5 L274.3 398.6 L274.8 397.7 L275.2 396.8 L275.7 396.0 L276.2 395.1 L276.7 394.2 L277.1 393.3 L277.6 392.4 L278.0 391.5 L278.5 390.6 L278.9 389.7 L279.4 388.8 L279.8 388.0 L280.3 387.1 L280.7 386.2 L281.1 385.3 L281.6 384.4 L282.0 383.5 L282.4 382.6 L282.9 381.7 L283.3 380.7 L283.7 379.8 L284.1 378.9 L284.6 378.0 L285.0 377.1 L285.4 376.2 L285.8 375.3 L286.2 374.4 L286.6 373.5 L287.0 372.6 L287.4 371.6 L287.8 370.7 L288.2 369.8 L288.6 368.9 L289.0 368.0 L289.4 367.0 L289.8 366.1 L290.1 365.2 L290.5 364.3 L290.9 363.3 L291.2 362.4 L291.6 361.5 L292.0 360.5 L292.4 359.6 L292.7 358.7 L293.1 357.8 L293.5 356.8 L293.9 355.9 L294.3 355.0 L294.7 354.1 L295.0 353.1 L295.4 352.2 L295.8 351.3 L296.2 350.4 L296.6 349.5 L297.0 348.5 L297.4 347.6 L297.7 346.7 L298.1 345.8 L298.5 344.8 L298.9 343.9 L299.3 343.0 L299.7 342.1 L300.0 341.1 L300.4 340.2 L300.8 339.3 L301.2 338.4 L301.5 337.4 L301.9 336.5 L302.3 335.6 L302.7 334.7 L303.0 333.7 L303.4 332.8 L303.8 331.9 L304.1 330.9 L304.5 330.0 L304.8 329.1 L305.2 328.1 L305.5 327.2 L305.9 326.3 L306.2 325.3 L306.5 324.4 L306.9 323.4 L307.2 322.5 L307.5 321.5 L307.8 320.6 L308.2 319.6 L308.5 318.7 L308.8 317.7 L309.1 316.8 L309.4 315.8 L309.7 314.9 L310.0 313.9 L310.3 313.0 L310.6 312.0 L310.9 311.1 L311.3 310.1 L311.6 309.2 L311.9 308.2 L312.2 307.3 L312.5 306.3 L312.8 305.4 L313.1 304.4 L313.4 303.5 L313.7 302.5 L314.0 301.6 L314.3 300.6 L314.7 299.7 L315.0 298.7 L315.3 297.8 L315.6 296.8 L315.9 295.9 L316.3 294.9 L316.6 294.0 L316.9 293.0 L317.3 292.1 L317.6 291.2 L318.0 290.2 L318.3 289.3 L318.7 288.4 L319.1 287.4 L319.5 286.5 L319.9 285.6 L320.3 284.7 L320.7 283.8 L321.1 282.9 L321.5 282.0 L321.9 281.1 L322.4 280.1 L322.8 279.2 L323.2 278.3 L323.6 277.4 L324.1 276.5 L324.5 275.6 L325.0 274.7 L325.4 273.8 L325.9 273.0 L326.4 272.1 L326.9 271.2 L327.4 270.4 L328.0 269.6 L328.5 268.7 L329.2 268.0 L329.8 267.2 L330.5 266.5 L331.2 265.8 L332.0 265.1 L332.7 264.5 L333.5 263.8 L334.3 263.2 L335.1 262.7 L336.0 262.3 L337.0 262.1 L337.9 262.0 L338.9 262.1 L339.8 262.5 L340.7 263.0 L341.5 263.5 L342.2 264.2 L343.0 264.9 L343.7 265.6 L344.3 266.3 L345.0 267.1 L345.6 267.8 L346.1 268.7 L346.6 269.5 L347.1 270.4 L347.5 271.3 L347.9 272.2 L348.3 273.2 L348.7 274.1 L349.1 275.0 L349.4 276.0 L349.7 276.9 L350.1 277.8 L350.4 278.8 L350.7 279.7 L351.0 280.7 L351.3 281.6 L351.6 282.6 L351.9 283.5 L352.2 284.5 L352.5 285.5 L352.8 286.4 L353.0 287.4 L353.3 288.4 L353.5 289.3 L353.8 290.3 L354.0 291.3 L354.2 292.2 L354.4 293.2 L354.7 294.2 L354.9 295.2 L355.1 296.2 L355.3 297.1 L355.5 298.1 L355.7 299.1 L355.9 300.1 L356.1 301.1 L356.2 302.0 L356.4 303.0 L356.6 304.0 L356.8 305.0 L357.0 306.0 L357.2 307.0 L357.3 307.9 L357.5 308.9 L357.7 309.9 L357.9 310.9 L358.1 311.9 L358.2 312.9 L358.4 313.8 L358.6 314.8 L358.8 315.8 L358.9 316.8 L359.1 317.8 L359.3 318.8 L359.5 319.7 L359.6 320.7 L359.8 321.7 L360.0 322.7 L360.2 323.7 L360.3 324.7 L360.5 325.7 L360.7 326.6 L360.9 327.6 L361.0 328.6 L361.2 329.6 L361.4 330.6 L361.6 331.6 L361.7 332.5 L361.9 333.5 L362.1 334.5 L362.3 335.5 L362.4 336.5 L362.6 337.5 L362.7 338.5 L362.9 339.4 L363.1 340.4 L363.2 341.4 L363.4 342.4 L363.5 343.4 L363.7 344.4 L363.9 345.4 L364.0 346.4 L364.2 347.3 L364.3 348.3 L364.5 349.3 L364.6 350.3 L364.8 351.3 L365.0 352.3 L365.1 353.3 L365.3 354.3 L365.4 355.2 L365.6 356.2 L365.8 357.2 L365.9 358.2 L366.1 359.2 L366.2 360.2 L366.4 361.2 L366.6 362.2 L366.7 363.1 L366.9 364.1 L367.1 365.1 L367.3 366.1 L367.4 367.1 L367.6 368.1 L367.8 369.0 L368.0 370.0 L368.2 371.0 L368.4 372.0 L368.6 373.0 L368.8 373.9 L369.0 374.9 L369.3 375.9 L369.5 376.9 L369.7 377.8 L370.0 378.8 L370.2 379.8 L370.5 380.7 L370.7 381.7 L371.0 382.7 L371.2 383.6 L371.5 384.6 L371.7 385.6 L372.0 386.5 L372.3 387.5 L372.5 388.5 L372.8 389.4 L373.0 390.4 L373.3 391.4 L373.5 392.4 L373.7 393.3 L374.0 394.3 L374.2 395.3 L374.4 396.2 L374.6 397.2 L374.8 398.2 L375.0 399.2 L375.2 400.2 L375.4 401.1 L375.6 402.1 L375.8 403.1 L375.9 404.1 L376.1 405.1 L376.2 406.1 L376.4 407.1 L376.5 408.1 L376.7 409.0 L376.8 410.0 L377.0 411.0 L377.1 412.0 L377.2 413.0 L377.4 414.0 L377.5 415.0 L377.6 416.0 L377.8 417.0 L377.9 418.0 L378.0 419.0 L378.2 419.9 L378.3 420.9 L378.4 421.9 L378.6 422.9 L378.7 423.9 L378.8 424.9 L378.9 425.9 L379.1 426.9 L379.2 427.9 L379.3 428.9 L379.5 429.9 L379.6 430.8 L379.7 431.8 L379.9 432.8 L380.0 433.8 L380.2 434.8 L380.3 435.8 L380.5 436.8 L380.6 437.8 L380.8 438.8 L380.9 439.8 L381.1 440.7 L381.2 441.7 L381.4 442.7 L381.6 443.7 L381.8 444.7 L382.0 445.7 L382.2 446.6 L382.5 447.6 L382.7 448.6 L382.9 449.5 L383.2 450.5 L383.4 451.5 L383.7 452.4 L383.9 453.4 L384.2 454.4 L384.5 455.3 L384.7 456.3 L385.0 457.3 L385.3 458.2 L385.6 459.2 L385.9 460.1 L386.2 461.1 L386.4 462.1 L386.8 463.0 L387.1 464.0 L387.4 464.9 L387.7 465.9 L388.0 466.8 L388.4 467.7 L388.7 468.7 L389.1 469.6 L389.4 470.5 L389.8 471.5 L390.2 472.4 L390.6 473.3 L391.0 474.2 L391.4 475.1 L391.8 476.0 L392.3 476.9 L392.8 477.8 L393.3 478.7 L393.8 479.5 L394.3 480.4 L394.9 481.2 L395.5 482.0 L396.0 482.8 L396.6 483.6 L397.3 484.4 L397.9 485.2 L398.5 486.0 L399.2 486.7 L399.8 487.5 L400.5 488.2 L401.2 488.9 L401.9 489.6 L402.6 490.3 L403.3 491.0 L404.1 491.7 L404.8 492.4 L405.6 493.0 L406.4 493.7 L407.1 494.3 L407.9 494.9 L408.7 495.5 L409.5 496.2 L410.3 496.8 L411.1 497.4 L411.9 498.0 L412.7 498.6 L413.5 499.2 L414.3 499.8 L415.1 500.4 L415.9 501.0 L416.7 501.5 L417.5 502.1 L418.4 502.6 L419.2 503.2 L420.1 503.7 L420.9 504.2 L421.8 504.8 L422.6 505.3 L423.5 505.8 L424.3 506.3 L425.2 506.8 L426.1 507.3 L426.9 507.8 L427.8 508.3 L428.7 508.8 L429.5 509.3 L430.4 509.8 L431.3 510.3 L432.1 510.8 L433.0 511.3 L433.8 511.8 L434.7 512.3 L435.6 512.8 L436.4 513.3 L437.3 513.8 L438.2 514.4 L439.0 514.9 L439.9 515.4 L440.8 515.9 L441.6 516.4 L442.5 516.8 L443.4 517.3 L444.2 517.8 L445.1 518.3 L446.0 518.8 L446.9 519.2 L447.8 519.7 L448.7 520.2 L449.5 520.6 L450.4 521.1 L451.3 521.5 L452.2 521.9 L453.1 522.4 L454.1 522.8 L455.0 523.2 L455.9 523.6 L456.8 524.0 L457.7 524.4 L458.6 524.8 L459.5 525.2 L460.5 525.6 L461.4 526.0 L462.3 526.3 L463.2 526.7 L464.2 527.1 L465.1 527.4 L466.1 527.8 L467.0 528.1 L468.0 528.4 L468.9 528.7 L469.9 529.0 L470.8 529.3 L471.8 529.6 L472.7 529.8 L473.7 530.1 L474.7 530.3 L475.6 530.6 L476.6 530.8 L477.6 531.1 L478.6 531.3 L479.5 531.5 L480.4 531.7 L481.2 531.8 L482.0 532.0 L482.0 532.0 Z" fill="rgb(108,150,236)" fill-opacity="0.5" stroke="rgb(108,150,236)" stroke-opacity="0.62" stroke-width="1.5" stroke-linejoin="round"/>
<path d="M194.0 532.0 L194.0 532.0 L195.2 531.9 L196.0 531.7 L197.0 531.6 L198.0 531.5 L199.0 531.3 L199.9 531.1 L200.9 531.0 L201.9 530.8 L202.9 530.5 L203.8 530.3 L204.8 530.0 L205.7 529.7 L206.7 529.3 L207.6 528.9 L208.5 528.5 L209.4 528.1 L210.3 527.7 L211.2 527.2 L212.1 526.7 L213.0 526.3 L213.8 525.8 L214.7 525.2 L215.5 524.7 L216.3 524.1 L217.1 523.5 L217.9 522.9 L218.7 522.3 L219.5 521.7 L220.3 521.1 L221.2 520.5 L222.0 520.0 L222.8 519.4 L223.6 518.8 L224.4 518.2 L225.2 517.6 L226.0 517.1 L226.9 516.5 L227.7 515.9 L228.5 515.3 L229.3 514.8 L230.1 514.2 L231.0 513.6 L231.8 513.1 L232.6 512.5 L233.4 511.9 L234.3 511.4 L235.1 510.8 L235.9 510.2 L236.7 509.7 L237.6 509.1 L238.4 508.6 L239.3 508.1 L240.1 507.6 L241.0 507.1 L241.9 506.7 L242.8 506.3 L243.8 505.9 L244.7 505.5 L245.6 505.1 L246.5 504.7 L247.4 504.3 L248.4 503.9 L249.2 503.5 L250.1 503.0 L251.0 502.4 L251.8 501.9 L252.6 501.3 L253.4 500.7 L254.2 500.1 L255.1 499.6 L255.9 499.1 L256.8 498.5 L257.6 498.0 L258.5 497.5 L259.3 497.0 L260.2 496.4 L261.0 495.9 L261.8 495.3 L262.6 494.7 L263.4 494.0 L264.1 493.4 L264.8 492.7 L265.5 492.0 L266.2 491.2 L266.8 490.4 L267.4 489.7 L268.1 488.9 L268.7 488.1 L269.2 487.3 L269.8 486.4 L270.4 485.6 L270.9 484.8 L271.5 484.0 L272.1 483.1 L272.6 482.3 L273.1 481.5 L273.7 480.6 L274.2 479.8 L274.7 478.9 L275.2 478.1 L275.7 477.2 L276.2 476.3 L276.7 475.4 L277.2 474.5 L277.6 473.7 L278.1 472.8 L278.5 471.9 L279.0 471.0 L279.4 470.1 L279.9 469.2 L280.4 468.3 L280.8 467.4 L281.3 466.5 L281.8 465.7 L282.2 464.8 L282.7 463.9 L283.2 463.1 L283.8 462.2 L284.3 461.4 L284.8 460.5 L285.4 459.7 L286.0 458.9 L286.5 458.0 L287.1 457.2 L287.7 456.4 L288.3 455.6 L288.9 454.8 L289.5 454.0 L290.1 453.2 L290.7 452.4 L291.3 451.6 L291.9 450.8 L292.6 450.1 L293.2 449.3 L293.9 448.6 L294.5 447.8 L295.2 447.1 L295.9 446.4 L296.7 445.7 L297.4 445.0 L298.1 444.3 L298.8 443.6 L299.6 442.9 L300.3 442.3 L301.0 441.5 L301.7 440.8 L302.3 440.0 L302.9 439.3 L303.6 438.5 L304.1 437.7 L304.7 436.8 L305.3 436.0 L305.8 435.2 L306.4 434.4 L307.0 433.6 L307.7 432.8 L308.3 432.0 L309.0 431.3 L309.6 430.5 L310.3 429.8 L310.9 429.0 L311.6 428.3 L312.2 427.5 L312.8 426.7 L313.4 425.9 L313.9 425.0 L314.5 424.2 L315.0 423.3 L315.5 422.5 L316.0 421.6 L316.4 420.7 L316.9 419.8 L317.3 418.9 L317.7 418.0 L318.1 417.1 L318.5 416.2 L318.8 415.2 L319.1 414.3 L319.4 413.3 L319.6 412.3 L319.9 411.4 L320.1 410.4 L320.3 409.4 L320.5 408.4 L320.7 407.5 L321.0 406.5 L321.2 405.5 L321.4 404.5 L321.6 403.6 L321.8 402.6 L322.1 401.6 L322.3 400.6 L322.5 399.7 L322.7 398.7 L323.0 397.7 L323.2 396.7 L323.4 395.8 L323.6 394.8 L323.8 393.8 L324.0 392.8 L324.2 391.8 L324.4 390.9 L324.6 389.9 L324.8 388.9 L325.0 387.9 L325.1 386.9 L325.3 385.9 L325.5 385.0 L325.6 384.0 L325.8 383.0 L325.9 382.0 L326.1 381.0 L326.3 380.0 L326.4 379.0 L326.6 378.0 L326.7 377.1 L326.9 376.1 L327.0 375.1 L327.2 374.1 L327.3 373.1 L327.5 372.1 L327.6 371.1 L327.8 370.1 L327.9 369.2 L328.1 368.2 L328.2 367.2 L328.4 366.2 L328.5 365.2 L328.7 364.2 L328.8 363.2 L329.0 362.2 L329.1 361.2 L329.3 360.2 L329.4 359.3 L329.5 358.3 L329.7 357.3 L329.8 356.3 L330.0 355.3 L330.1 354.3 L330.2 353.3 L330.4 352.3 L330.5 351.3 L330.7 350.3 L330.8 349.4 L330.9 348.4 L331.1 347.4 L331.2 346.4 L331.4 345.4 L331.5 344.4 L331.7 343.4 L331.8 342.4 L331.9 341.4 L332.1 340.4 L332.2 339.5 L332.4 338.5 L332.5 337.5 L332.7 336.5 L332.8 335.5 L333.0 334.5 L333.1 333.5 L333.2 332.5 L333.4 331.5 L333.5 330.6 L333.7 329.6 L333.9 328.6 L334.0 327.6 L334.2 326.6 L334.3 325.6 L334.5 324.6 L334.6 323.6 L334.8 322.7 L334.9 321.7 L335.1 320.7 L335.2 319.7 L335.4 318.7 L335.6 317.7 L335.7 316.7 L335.9 315.7 L336.0 314.7 L336.2 313.8 L336.3 312.8 L336.5 311.8 L336.7 310.8 L336.8 309.8 L337.0 308.8 L337.1 307.8 L337.3 306.9 L337.5 305.9 L337.6 304.9 L337.8 303.9 L338.0 302.9 L338.1 301.9 L338.3 300.9 L338.4 299.9 L338.6 299.0 L338.8 298.0 L338.9 297.0 L339.1 296.0 L339.3 295.0 L339.4 294.0 L339.6 293.0 L339.8 292.1 L339.9 291.1 L340.1 290.1 L340.3 289.1 L340.5 288.1 L340.6 287.1 L340.8 286.1 L341.0 285.2 L341.1 284.2 L341.3 283.2 L341.5 282.2 L341.7 281.2 L341.8 280.2 L342.0 279.2 L342.2 278.3 L342.3 277.3 L342.5 276.3 L342.7 275.3 L342.8 274.3 L343.0 273.3 L343.2 272.3 L343.3 271.4 L343.5 270.4 L343.7 269.4 L343.9 268.4 L344.0 267.4 L344.2 266.4 L344.4 265.5 L344.6 264.5 L344.7 263.5 L344.9 262.5 L345.1 261.5 L345.3 260.5 L345.5 259.6 L345.7 258.6 L345.9 257.6 L346.1 256.6 L346.3 255.6 L346.5 254.7 L346.7 253.7 L346.9 252.7 L347.2 251.7 L347.4 250.8 L347.7 249.8 L347.9 248.8 L348.2 247.9 L348.4 246.9 L348.7 245.9 L349.0 245.0 L349.3 244.0 L349.5 243.1 L349.8 242.1 L350.1 241.1 L350.4 240.2 L350.7 239.2 L351.0 238.3 L351.3 237.3 L351.6 236.4 L351.9 235.4 L352.1 234.4 L352.4 233.5 L352.7 232.5 L353.0 231.5 L353.2 230.6 L353.5 229.6 L353.9 228.7 L354.2 227.8 L354.6 226.9 L355.1 226.0 L355.6 225.1 L356.1 224.3 L356.7 223.4 L357.3 222.6 L357.9 221.9 L358.6 221.1 L359.3 220.5 L360.1 220.0 L361.0 219.7 L361.9 219.6 L362.8 219.9 L363.6 220.4 L364.4 221.0 L365.0 221.7 L365.7 222.5 L366.2 223.3 L366.8 224.1 L367.3 225.0 L367.9 225.8 L368.3 226.7 L368.7 227.6 L369.1 228.6 L369.4 229.5 L369.8 230.5 L370.0 231.4 L370.3 232.4 L370.6 233.3 L370.9 234.3 L371.2 235.2 L371.5 236.2 L371.7 237.2 L372.0 238.1 L372.3 239.1 L372.6 240.0 L372.9 241.0 L373.2 241.9 L373.5 242.9 L373.8 243.8 L374.1 244.8 L374.4 245.8 L374.7 246.7 L375.0 247.7 L375.3 248.6 L375.5 249.6 L375.8 250.6 L376.1 251.5 L376.3 252.5 L376.6 253.5 L376.8 254.4 L377.1 255.4 L377.3 256.4 L377.5 257.3 L377.8 258.3 L378.0 259.3 L378.2 260.3 L378.4 261.2 L378.7 262.2 L378.9 263.2 L379.1 264.2 L379.3 265.1 L379.5 266.1 L379.7 267.1 L379.9 268.1 L380.1 269.1 L380.3 270.0 L380.6 271.0 L380.8 272.0 L381.0 273.0 L381.2 274.0 L381.4 274.9 L381.6 275.9 L381.8 276.9 L382.0 277.9 L382.2 278.9 L382.4 279.8 L382.6 280.8 L382.8 281.8 L383.0 282.8 L383.2 283.7 L383.4 284.7 L383.6 285.7 L383.8 286.7 L384.0 287.7 L384.1 288.7 L384.3 289.6 L384.5 290.6 L384.7 291.6 L384.9 292.6 L385.1 293.6 L385.3 294.5 L385.5 295.5 L385.6 296.5 L385.8 297.5 L386.0 298.5 L386.2 299.5 L386.4 300.4 L386.6 301.4 L386.7 302.4 L386.9 303.4 L387.1 304.4 L387.3 305.4 L387.5 306.3 L387.6 307.3 L387.8 308.3 L388.0 309.3 L388.2 310.3 L388.3 311.3 L388.5 312.2 L388.7 313.2 L388.9 314.2 L389.1 315.2 L389.2 316.2 L389.4 317.2 L389.6 318.2 L389.8 319.1 L390.0 320.1 L390.1 321.1 L390.3 322.1 L390.5 323.1 L390.7 324.1 L390.9 325.0 L391.1 326.0 L391.2 327.0 L391.4 328.0 L391.6 329.0 L391.8 329.9 L392.0 330.9 L392.2 331.9 L392.4 332.9 L392.6 333.9 L392.7 334.9 L392.9 335.8 L393.1 336.8 L393.3 337.8 L393.5 338.8 L393.7 339.8 L393.9 340.8 L394.1 341.7 L394.2 342.7 L394.4 343.7 L394.6 344.7 L394.8 345.7 L395.0 346.6 L395.2 347.6 L395.4 348.6 L395.6 349.6 L395.8 350.6 L396.0 351.6 L396.1 352.5 L396.3 353.5 L396.5 354.5 L396.7 355.5 L396.9 356.5 L397.1 357.4 L397.3 358.4 L397.5 359.4 L397.7 360.4 L397.9 361.4 L398.1 362.3 L398.3 363.3 L398.5 364.3 L398.7 365.3 L398.9 366.3 L399.0 367.3 L399.2 368.2 L399.4 369.2 L399.6 370.2 L399.8 371.2 L400.0 372.2 L400.2 373.1 L400.4 374.1 L400.6 375.1 L400.8 376.1 L401.0 377.1 L401.2 378.0 L401.4 379.0 L401.6 380.0 L401.8 381.0 L401.9 382.0 L402.1 383.0 L402.3 383.9 L402.5 384.9 L402.7 385.9 L402.9 386.9 L403.1 387.9 L403.3 388.8 L403.5 389.8 L403.7 390.8 L403.9 391.8 L404.1 392.8 L404.3 393.7 L404.5 394.7 L404.8 395.7 L405.0 396.7 L405.2 397.6 L405.5 398.6 L405.7 399.6 L405.9 400.5 L406.2 401.5 L406.5 402.5 L406.7 403.4 L407.0 404.4 L407.3 405.4 L407.5 406.3 L407.8 407.3 L408.1 408.2 L408.4 409.2 L408.7 410.2 L409.0 411.1 L409.3 412.1 L409.6 413.0 L409.9 414.0 L410.2 414.9 L410.5 415.9 L410.8 416.8 L411.2 417.8 L411.5 418.7 L411.8 419.7 L412.1 420.6 L412.5 421.5 L412.8 422.5 L413.1 423.4 L413.5 424.4 L413.8 425.3 L414.2 426.2 L414.5 427.2 L414.9 428.1 L415.2 429.1 L415.5 430.0 L415.9 430.9 L416.2 431.9 L416.6 432.8 L416.9 433.8 L417.3 434.7 L417.6 435.6 L418.0 436.6 L418.3 437.5 L418.6 438.4 L419.0 439.4 L419.3 440.3 L419.7 441.3 L420.0 442.2 L420.4 443.1 L420.7 444.1 L421.1 445.0 L421.4 446.0 L421.8 446.9 L422.1 447.8 L422.5 448.8 L422.8 449.7 L423.2 450.6 L423.5 451.6 L423.9 452.5 L424.2 453.4 L424.6 454.4 L425.0 455.3 L425.3 456.2 L425.7 457.2 L426.1 458.1 L426.5 459.0 L426.8 459.9 L427.2 460.9 L427.6 461.8 L428.0 462.7 L428.4 463.6 L428.8 464.5 L429.2 465.4 L429.6 466.4 L430.0 467.3 L430.5 468.2 L430.9 469.1 L431.3 470.0 L431.8 470.9 L432.2 471.8 L432.7 472.6 L433.2 473.5 L433.6 474.4 L434.1 475.3 L434.6 476.2 L435.1 477.1 L435.5 477.9 L436.0 478.8 L436.5 479.7 L437.0 480.5 L437.5 481.4 L438.0 482.3 L438.5 483.1 L439.0 484.0 L439.6 484.9 L440.1 485.7 L440.6 486.6 L441.1 487.4 L441.7 488.2 L442.2 489.1 L442.7 489.9 L443.3 490.8 L443.8 491.6 L444.4 492.4 L445.0 493.3 L445.5 494.1 L446.1 494.9 L446.7 495.7 L447.2 496.6 L447.8 497.4 L448.4 498.2 L449.0 499.0 L449.5 499.8 L450.1 500.6 L450.7 501.4 L451.3 502.2 L451.9 503.0 L452.5 503.8 L453.1 504.6 L453.7 505.4 L454.4 506.2 L455.0 507.0 L455.6 507.8 L456.3 508.5 L456.9 509.3 L457.6 510.0 L458.2 510.8 L458.9 511.5 L459.6 512.3 L460.3 513.0 L461.0 513.7 L461.7 514.4 L462.4 515.1 L463.1 515.8 L463.8 516.5 L464.5 517.2 L465.3 517.9 L466.0 518.6 L466.8 519.2 L467.5 519.9 L468.3 520.5 L469.1 521.1 L469.9 521.7 L470.7 522.3 L471.5 522.9 L472.4 523.4 L473.2 523.9 L474.1 524.5 L474.9 525.0 L475.8 525.5 L476.7 525.9 L477.6 526.4 L478.4 526.9 L479.3 527.3 L480.3 527.7 L481.2 528.0 L482.1 528.4 L483.1 528.7 L484.1 528.9 L485.0 529.2 L486.0 529.4 L487.0 529.6 L488.0 529.8 L489.0 529.9 L489.9 530.1 L490.9 530.2 L491.9 530.4 L492.9 530.5 L493.9 530.7 L494.9 530.8 L495.9 530.9 L496.9 531.0 L497.9 531.1 L498.9 531.3 L499.9 531.4 L500.9 531.5 L501.8 531.6 L502.8 531.7 L503.8 531.8 L504.8 531.8 L505.7 531.9 L506.4 532.0 L507.0 532.0 L507.0 532.0 Z" fill="rgb(255,0,255)" fill-opacity="0.5" stroke="rgb(255,0,255)" stroke-opacity="0.62" stroke-width="1.5" stroke-linejoin="round"/>
<path d="M194.0 532.0 L194.0 532.0 L195.2 531.9 L196.0 531.7 L197.0 531.6 L198.0 531.5 L199.0 531.3 L199.9 531.1 L200.9 531.0 L201.9 530.8 L202.9 530.5 L203.8 530.3 L204.8 530.0 L205.7 529.7 L206.7 529.3 L207.6 528.9 L208.5 528.5 L209.4 528.1 L210.3 527.7 L211.2 527.2 L212.1 526.7 L213.0 526.3 L213.8 525.8 L214.7 525.2 L215.5 524.7 L216.3 524.1 L217.1 523.5 L217.9 522.9 L218.7 522.3 L219.5 521.7 L220.3 521.1 L221.2 520.5 L222.0 520.0 L222.8 519.4 L223.6 518.8 L224.4 518.2 L225.2 517.6 L226.0 517.1 L226.9 516.5 L227.7 515.9 L228.5 515.3 L229.3 514.8 L230.1 514.2 L231.0 513.6 L231.8 513.1 L232.6 512.5 L233.4 511.9 L234.3 511.4 L235.1 510.8 L235.9 510.2 L236.7 509.7 L237.6 509.1 L238.4 508.6 L239.3 508.1 L240.1 507.6 L241.0 507.1 L241.9 506.7 L242.8 506.3 L243.8 505.9 L244.7 505.5 L245.6 505.1 L246.5 504.7 L247.4 504.3 L248.4 503.9 L249.2 503.5 L250.1 503.0 L251.0 502.4 L251.8 501.9 L252.6 501.3 L253.4 500.7 L254.2 500.1 L255.1 499.6 L255.9 499.1 L256.8 498.5 L257.6 498.0 L258.5 497.5 L259.3 497.0 L260.2 496.4 L261.0 495.9 L261.8 495.3 L262.6 494.7 L263.4 494.0 L264.1 493.4 L264.8 492.7 L265.5 492.0 L266.2 491.2 L266.8 490.4 L267.4 489.7 L268.1 488.9 L268.7 488.1 L269.2 487.3 L269.8 486.4 L270.4 485.6 L270.9 484.8 L271.5 484.0 L272.1 483.1 L272.6 482.3 L273.1 481.5 L273.7 480.6 L274.2 479.8 L274.7 478.9 L275.2 478.1 L275.7 477.2 L276.2 476.3 L276.7 475.4 L277.2 474.5 L277.6 473.7 L278.1 472.8 L278.5 471.9 L279.0 471.0 L279.4 470.1 L279.9 469.2 L280.4 468.3 L280.8 467.4 L281.3 466.5 L281.8 465.7 L282.2 464.8 L282.7 463.9 L283.2 463.1 L283.8 462.2 L284.3 461.4 L284.8 460.5 L285.4 459.7 L286.0 458.9 L286.5 458.0 L287.1 457.2 L287.7 456.4 L288.3 455.6 L288.9 454.8 L289.5 454.0 L290.1 453.2 L290.7 452.4 L291.3 451.6 L291.9 450.8 L292.6 450.1 L293.2 449.3 L293.9 448.6 L294.5 447.8 L295.2 447.1 L295.9 446.4 L296.7 445.7 L297.4 445.0 L298.1 444.3 L298.8 443.6 L299.6 442.9 L300.3 442.3 L301.0 441.5 L301.7 440.8 L302.3 440.0 L302.9 439.3 L303.6 438.5 L304.1 437.7 L304.7 436.8 L305.3 436.0 L305.8 435.2 L306.4 434.4 L307.0 433.6 L307.7 432.8 L308.3 432.0 L309.0 431.3 L309.6 430.5 L310.3 429.8 L310.9 429.0 L311.6 428.3 L312.2 427.5 L312.8 426.7 L313.4 425.9 L313.9 425.0 L314.5 424.2 L315.0 423.3 L315.5 422.5 L316.0 421.6 L316.4 420.7 L316.9 419.8 L317.3 418.9 L317.7 418.0 L318.1 417.1 L318.5 416.2 L318.8 415.2 L319.1 414.3 L319.4 413.3 L319.6 412.3 L319.9 411.4 L320.1 410.4 L320.3 409.4 L320.5 408.4 L320.7 407.5 L321.0 406.5 L321.2 405.5 L321.4 404.5 L321.6 403.6 L321.8 402.6 L322.1 401.6 L322.3 400.6 L322.5 399.7 L322.7 398.7 L323.0 397.7 L323.2 396.7 L323.4 395.8 L323.6 394.8 L323.8 393.8 L324.0 392.8 L324.2 391.8 L324.4 390.9 L324.6 389.9 L324.8 388.9 L325.0 387.9 L325.1 386.9 L325.3 385.9 L325.5 385.0 L325.6 384.0 L325.8 383.0 L325.9 382.0 L326.1 381.0 L326.3 380.0 L326.4 379.0 L326.6 378.0 L326.7 377.1 L326.9 376.1 L327.0 375.1 L327.2 374.1 L327.3 373.1 L327.5 372.1 L327.6 371.1 L327.8 370.1 L327.9 369.2 L328.1 368.2 L328.2 367.2 L328.4 366.2 L328.5 365.2 L328.7 364.2 L328.8 363.2 L329.0 362.2 L329.1 361.2 L329.3 360.2 L329.4 359.3 L329.5 358.3 L329.7 357.3 L329.8 356.3 L330.0 355.3 L330.1 354.3 L330.2 353.3 L330.4 352.3 L330.5 351.3 L330.7 350.3 L330.8 349.4 L330.9 348.4 L331.1 347.4 L331.2 346.4 L331.4 345.4 L331.5 344.4 L331.7 343.4 L331.8 342.4 L331.9 341.4 L332.1 340.4 L332.2 339.5 L332.4 338.5 L332.5 337.5 L332.7 336.5 L332.8 335.5 L333.0 334.5 L333.1 333.5 L333.2 332.5 L333.4 331.5 L333.5 330.6 L333.7 329.6 L333.9 328.6 L334.0 327.6 L334.2 326.6 L334.3 325.6 L334.5 324.6 L334.6 323.6 L334.8 322.7 L334.9 321.7 L335.1 320.7 L335.2 319.7 L335.4 318.7 L335.6 317.7 L335.7 316.7 L335.9 315.7 L336.0 314.7 L336.2 313.8 L336.3 312.8 L336.5 311.8 L336.7 310.8 L336.8 309.8 L337.0 308.8 L337.1 307.8 L337.3 306.9 L337.5 305.9 L337.6 304.9 L337.8 303.9 L338.0 302.9 L338.1 301.9 L338.3 300.9 L338.4 299.9 L338.6 299.0 L338.8 298.0 L338.9 297.0 L339.1 296.0 L339.3 295.0 L339.4 294.0 L339.6 293.0 L339.8 292.1 L339.9 291.1 L340.1 290.1 L340.3 289.1 L340.5 288.1 L340.6 287.1 L340.8 286.1 L341.0 285.2 L341.1 284.2 L341.3 283.2 L341.5 282.2 L341.7 281.2 L341.8 280.2 L342.0 279.2 L342.2 278.3 L342.3 277.3 L342.5 276.3 L342.7 275.3 L342.8 274.3 L343.0 273.3 L343.2 272.3 L343.3 271.4 L343.5 270.4 L343.7 269.4 L343.9 268.4 L344.0 267.4 L344.2 266.4 L344.4 265.5 L344.6 264.5 L344.7 263.5 L344.9 262.5 L345.1 261.5 L345.3 260.5 L345.5 259.6 L345.7 258.6 L345.9 257.6 L346.1 256.6 L346.3 255.6 L346.5 254.7 L346.7 253.7 L346.9 252.7 L347.2 251.7 L347.4 250.8 L347.7 249.8 L347.9 248.8 L348.2 247.9 L348.4 246.9 L348.7 245.9 L349.0 245.0 L349.3 244.0 L349.5 243.1 L349.8 242.1 L350.1 241.1 L350.4 240.2 L350.7 239.2 L351.0 238.3 L351.3 237.3 L351.6 236.4 L351.9 235.4 L352.1 234.4 L352.4 233.5 L352.7 232.5 L353.0 231.5 L353.2 230.6 L353.5 229.6 L353.9 228.7 L354.2 227.8 L354.6 226.9 L355.1 226.0 L355.6 225.1 L356.1 224.3 L356.7 223.4 L357.3 222.6 L357.9 221.9 L358.6 221.1 L359.3 220.5 L360.1 220.0 L361.0 219.7 L361.9 219.6 L362.8 219.9 L363.6 220.4 L364.4 221.0 L365.0 221.7 L365.7 222.5 L366.2 223.3 L366.8 224.1 L367.3 225.0 L367.9 225.8 L368.3 226.7 L368.7 227.6 L369.1 228.6 L369.4 229.5 L369.8 230.5 L370.0 231.4 L370.3 232.4 L370.6 233.3 L370.9 234.3 L371.2 235.2 L371.5 236.2 L371.7 237.2 L372.0 238.1 L372.3 239.1 L372.6 240.0 L372.9 241.0 L373.2 241.9 L373.5 242.9 L373.8 243.8 L374.1 244.8 L374.4 245.8 L374.7 246.7 L375.0 247.7 L375.3 248.6 L375.5 249.6 L375.8 250.6 L376.1 251.5 L376.3 252.5 L376.6 253.5 L376.8 254.4 L377.1 255.4 L377.3 256.4 L377.5 257.3 L377.8 258.3 L378.0 259.3 L378.2 260.3 L378.4 261.2 L378.7 262.2 L378.9 263.2 L379.1 264.2 L379.3 265.1 L379.5 266.1 L379.7 267.1 L379.9 268.1 L380.1 269.1 L380.3 270.0 L380.6 271.0 L380.8 272.0 L381.0 273.0 L381.2 274.0 L381.4 274.9 L381.6 275.9 L381.8 276.9 L382.0 277.9 L382.2 278.9 L382.4 279.8 L382.6 280.8 L382.8 281.8 L383.0 282.8 L383.2 283.7 L383.4 284.7 L383.6 285.7 L383.8 286.7 L384.0 287.7 L384.1 288.7 L384.3 289.6 L384.5 290.6 L384.7 291.6 L384.9 292.6 L385.1 293.6 L385.3 294.5 L385.5 295.5 L385.6 296.5 L385.8 297.5 L386.0 298.5 L386.2 299.5 L386.4 300.4 L386.6 301.4 L386.7 302.4 L386.9 303.4 L387.1 304.4 L387.3 305.4 L387.5 306.3 L387.6 307.3 L387.8 308.3 L388.0 309.3 L388.2 310.3 L388.3 311.3 L388.5 312.2 L388.7 313.2 L388.9 314.2 L389.1 315.2 L389.2 316.2 L389.4 317.2 L389.6 318.2 L389.8 319.1 L390.0 320.1 L390.1 321.1 L390.3 322.1 L390.5 323.1 L390.7 324.1 L390.9 325.0 L391.1 326.0 L391.2 327.0 L391.4 328.0 L391.6 329.0 L391.8 329.9 L392.0 330.9 L392.2 331.9 L392.4 332.9 L392.6 333.9 L392.7 334.9 L392.9 335.8 L393.1 336.8 L393.3 337.8 L393.5 338.8 L393.7 339.8 L393.9 340.8 L394.1 341.7 L394.2 342.7 L394.4 343.7 L394.6 344.7 L394.8 345.7 L395.0 346.6 L395.2 347.6 L395.4 348.6 L395.6 349.6 L395.8 350.6 L396.0 351.6 L396.1 352.5 L396.3 353.5 L396.5 354.5 L396.7 355.5 L396.9 356.5 L397.1 357.4 L397.3 358.4 L397.5 359.4 L397.7 360.4 L397.9 361.4 L398.1 362.3 L398.3 363.3 L398.5 364.3 L398.7 365.3 L398.9 366.3 L399.0 367.3 L399.2 368.2 L399.4 369.2 L399.6 370.2 L399.8 371.2 L400.0 372.2 L400.2 373.1 L400.4 374.1 L400.6 375.1 L400.8 376.1 L401.0 377.1 L401.2 378.0 L401.4 379.0 L401.6 380.0 L401.8 381.0 L401.9 382.0 L402.1 383.0 L402.3 383.9 L402.5 384.9 L402.7 385.9 L402.9 386.9 L403.1 387.9 L403.3 388.8 L403.5 389.8 L403.7 390.8 L403.9 391.8 L404.1 392.8 L404.3 393.7 L404.5 394.7 L404.8 395.7 L405.0 396.7 L405.2 397.6 L405.5 398.6 L405.7 399.6 L405.9 400.5 L406.2 401.5 L406.5 402.5 L406.7 403.4 L407.0 404.4 L407.3 405.4 L407.5 406.3 L407.8 407.3 L408.1 408.2 L408.4 409.2 L408.7 410.2 L409.0 411.1 L409.3 412.1 L409.6 413.0 L409.9 414.0 L410.2 414.9 L410.5 415.9 L410.8 416.8 L411.2 417.8 L411.5 418.7 L411.8 419.7 L412.1 420.6 L412.5 421.5 L412.8 422.5 L413.1 423.4 L413.5 424.4 L413.8 425.3 L414.2 426.2 L414.5 427.2 L414.9 428.1 L415.2 429.1 L415.5 430.0 L415.9 430.9 L416.2 431.9 L416.6 432.8 L416.9 433.8 L417.3 434.7 L417.6 435.6 L418.0 436.6 L418.3 437.5 L418.6 438.4 L419.0 439.4 L419.3 440.3 L419.7 441.3 L420.0 442.2 L420.4 443.1 L420.7 444.1 L421.1 445.0 L421.4 446.0 L421.8 446.9 L422.1 447.8 L422.5 448.8 L422.8 449.7 L423.2 450.6 L423.5 451.6 L423.9 452.5 L424.2 453.4 L424.6 454.4 L425.0 455.3 L425.3 456.2 L425.7 457.2 L426.1 458.1 L426.5 459.0 L426.8 459.9 L427.2 460.9 L427.6 461.8 L428.0 462.7 L428.4 463.6 L428.8 464.5 L429.2 465.4 L429.6 466.4 L430.0 467.3 L430.5 468.2 L430.9 469.1 L431.3 470.0 L431.8 470.9 L432.2 471.8 L432.7 472.6 L433.2 473.5 L433.6 474.4 L434.1 475.3 L434.6 476.2 L435.1 477.1 L435.5 477.9 L436.0 478.8 L436.5 479.7 L437.0 480.5 L437.5 481.4 L438.0 482.3 L438.5 483.1 L439.0 484.0 L439.6 484.9 L440.1 485.7 L440.6 486.6 L441.1 487.4 L441.7 488.2 L442.2 489.1 L442.7 489.9 L443.3 490.8 L443.8 491.6 L444.4 492.4 L445.0 493.3 L445.5 494.1 L446.1 494.9 L446.7 495.7 L447.2 496.6 L447.8 497.4 L448.4 498.2 L449.0 499.0 L449.5 499.8 L450.1 500.6 L450.7 501.4 L451.3 502.2 L451.9 503.0 L452.5 503.8 L453.1 504.6 L453.7 505.4 L454.4 506.2 L455.0 507.0 L455.6 507.8 L456.3 508.5 L456.9 509.3 L457.6 510.0 L458.2 510.8 L458.9 511.5 L459.6 512.3 L460.3 513.0 L461.0 513.7 L461.7 514.4 L462.4 515.1 L463.1 515.8 L463.8 516.5 L464.5 517.2 L465.3 517.9 L466.0 518.6 L466.8 519.2 L467.5 519.9 L468.3 520.5 L469.1 521.1 L469.9 521.7 L470.7 522.3 L471.5 522.9 L472.4 523.4 L473.2 523.9 L474.1 524.5 L474.9 525.0 L475.8 525.5 L476.7 525.9 L477.6 526.4 L478.4 526.9 L479.3 527.3 L480.3 527.7 L481.2 528.0 L482.1 528.4 L483.1 528.7 L484.1 528.9 L485.0 529.2 L486.0 529.4 L487.0 529.6 L488.0 529.8 L489.0 529.9 L489.9 530.1 L490.9 530.2 L491.9 530.4 L492.9 530.5 L493.9 530.7 L494.9 530.8 L495.9 530.9 L496.9 531.0 L497.9 531.1 L498.9 531.3 L499.9 531.4 L500.9 531.5 L501.8 531.6 L502.8 531.7 L503.8 531.8 L504.8 531.8 L505.7 531.9 L506.4 532.0 L507.0 532.0 L507.0 532.0 Z" fill="rgb(0,0,255)" fill-opacity="0.5" style="mix-blend-mode:lighten"/>
</g>
<line x1="158.0" x2="158.0" y1="532.0" y2="536.4" stroke="#242424" stroke-width="1.15"/>
<text class="tk" x="158.0" y="557.0" text-anchor="middle">5.5</text>
<line x1="274.8" x2="274.8" y1="532.0" y2="536.4" stroke="#242424" stroke-width="1.15"/>
<text class="tk" x="274.8" y="557.0" text-anchor="middle">6.0</text>
<line x1="391.7" x2="391.7" y1="532.0" y2="536.4" stroke="#242424" stroke-width="1.15"/>
<text class="tk" x="391.7" y="557.0" text-anchor="middle">6.5</text>
<line x1="508.5" x2="508.5" y1="532.0" y2="536.4" stroke="#242424" stroke-width="1.15"/>
<text class="tk" x="508.5" y="557.0" text-anchor="middle">7.0</text>
<line x1="625.3" x2="625.3" y1="532.0" y2="536.4" stroke="#242424" stroke-width="1.15"/>
<text class="tk" x="625.3" y="557.0" text-anchor="middle">7.5</text>
<line x1="72.0" x2="76.4" y1="532.0" y2="532.0" stroke="#242424" stroke-width="1.15"/>
<text class="tk" x="67.5" y="540.4" text-anchor="end">0.0</text>
<line x1="72.0" x2="76.4" y1="469.3" y2="469.3" stroke="#242424" stroke-width="1.15"/>
<text class="tk" x="67.5" y="477.7" text-anchor="end">0.5</text>
<line x1="72.0" x2="76.4" y1="406.6" y2="406.6" stroke="#242424" stroke-width="1.15"/>
<text class="tk" x="67.5" y="415.0" text-anchor="end">1.0</text>
<line x1="72.0" x2="76.4" y1="343.9" y2="343.9" stroke="#242424" stroke-width="1.15"/>
<text class="tk" x="67.5" y="352.3" text-anchor="end">1.5</text>
<line x1="72.0" x2="76.4" y1="281.2" y2="281.2" stroke="#242424" stroke-width="1.15"/>
<text class="tk" x="67.5" y="289.6" text-anchor="end">2.0</text>
<line x1="72.0" x2="76.4" y1="218.5" y2="218.5" stroke="#242424" stroke-width="1.15"/>
<text class="tk" x="67.5" y="226.9" text-anchor="end">2.5</text>
<line x1="72.0" x2="76.4" y1="155.8" y2="155.8" stroke="#242424" stroke-width="1.15"/>
<text class="tk" x="67.5" y="164.2" text-anchor="end">3.0</text>
<line x1="72.0" x2="76.4" y1="93.1" y2="93.1" stroke="#242424" stroke-width="1.15"/>
<text class="tk" x="67.5" y="101.5" text-anchor="end">3.5</text>
<line x1="72.0" x2="76.4" y1="30.4" y2="30.4" stroke="#242424" stroke-width="1.15"/>
<text class="tk" x="67.5" y="38.8" text-anchor="end">4.0</text>
<rect x="76.4" y="3.8" width="598.7" height="528.2" fill="none" stroke="#242424" stroke-width="1.25"/>
<text class="lb" x="375.8" y="586.6" text-anchor="middle"><tspan font-style="italic">log</tspan><tspan font-size="18.5px" dy="6.4">10</tspan><tspan dy="-6.4"> Debye T(K)</tspan></text>
<text class="lb" transform="translate(23.5,268.5) rotate(-90)" text-anchor="middle">Probability Density</text>
<rect x="370.7" y="15.9" width="292.00000000000006" height="182.4" rx="4.5" ry="4.5" fill="#fff" fill-opacity="0.8" stroke="#cccccc" stroke-width="1.2"/>
<rect x="380.3" y="26.7" width="48" height="17.0" fill="rgb(234,0,4)" fill-opacity="0.5" stroke="rgb(234,0,4)" stroke-opacity="0.62" stroke-width="1.4"/>
<text class="lg" x="447.5" y="44.0">Ground Truth</text>
<rect x="380.3" y="61.7" width="48" height="17.0" fill="rgb(71,239,61)" fill-opacity="0.5" stroke="rgb(71,239,61)" stroke-opacity="0.62" stroke-width="1.4"/>
<text class="lg" x="447.5" y="79.0">CrabNet</text>
<rect x="380.3" y="96.6" width="48" height="17.0" fill="rgb(23,145,123)" fill-opacity="0.5" stroke="rgb(23,145,123)" stroke-opacity="0.62" stroke-width="1.4"/>
<text class="lg" x="447.5" y="113.9">ModNet</text>
<rect x="380.3" y="131.6" width="48" height="17.0" fill="rgb(108,150,236)" fill-opacity="0.5" stroke="rgb(108,150,236)" stroke-opacity="0.62" stroke-width="1.4"/>
<text class="lg" x="447.5" y="148.9">Ridge Regression</text>
<rect x="380.3" y="166.5" width="48" height="17.0" fill="rgb(255,0,255)" fill-opacity="0.5" stroke="rgb(255,0,255)" stroke-opacity="0.62" stroke-width="1.4"/>
<text class="lg" x="447.5" y="183.8">Transduction</text>
<clipPath id="cr"><rect x="746.7" y="3.8" width="599.7" height="529.0"/></clipPath>
<g clip-path="url(#cr)">
<rect x="746.7" y="3.8" width="599.7" height="529.0" fill="#fff"/>
<path d="M1100.0 532.8 L1100.0 532.8 L1101.2 532.8 L1102.0 532.7 L1103.0 532.7 L1104.0 532.6 L1105.0 532.5 L1106.0 532.4 L1107.0 532.3 L1108.0 532.1 L1108.9 531.9 L1109.9 531.7 L1110.9 531.4 L1111.8 531.1 L1112.8 530.8 L1113.7 530.5 L1114.6 530.1 L1115.5 529.6 L1116.4 529.1 L1117.2 528.6 L1118.0 528.0 L1118.8 527.4 L1119.6 526.8 L1120.3 526.1 L1121.1 525.4 L1121.7 524.7 L1122.4 523.9 L1123.0 523.1 L1123.5 522.3 L1124.1 521.4 L1124.6 520.6 L1125.1 519.7 L1125.5 518.8 L1125.9 517.9 L1126.3 517.0 L1126.7 516.1 L1127.1 515.1 L1127.4 514.2 L1127.7 513.2 L1128.0 512.3 L1128.3 511.3 L1128.6 510.4 L1128.9 509.4 L1129.2 508.5 L1129.5 507.5 L1129.8 506.5 L1130.0 505.6 L1130.3 504.6 L1130.5 503.6 L1130.8 502.7 L1131.0 501.7 L1131.3 500.7 L1131.5 499.8 L1131.7 498.8 L1132.0 497.8 L1132.2 496.8 L1132.4 495.9 L1132.6 494.9 L1132.8 493.9 L1133.1 492.9 L1133.3 492.0 L1133.5 491.0 L1133.7 490.0 L1133.9 489.0 L1134.2 488.1 L1134.4 487.1 L1134.6 486.1 L1134.8 485.1 L1135.0 484.1 L1135.2 483.2 L1135.4 482.2 L1135.7 481.2 L1135.9 480.2 L1136.1 479.3 L1136.3 478.3 L1136.5 477.3 L1136.7 476.3 L1136.9 475.3 L1137.1 474.4 L1137.2 473.4 L1137.4 472.4 L1137.6 471.4 L1137.8 470.4 L1138.0 469.4 L1138.1 468.5 L1138.3 467.5 L1138.5 466.5 L1138.7 465.5 L1138.8 464.5 L1139.0 463.5 L1139.2 462.5 L1139.3 461.6 L1139.5 460.6 L1139.7 459.6 L1139.8 458.6 L1140.0 457.6 L1140.2 456.6 L1140.3 455.6 L1140.5 454.7 L1140.7 453.7 L1140.9 452.7 L1141.0 451.7 L1141.2 450.7 L1141.4 449.7 L1141.6 448.7 L1141.7 447.8 L1141.9 446.8 L1142.1 445.8 L1142.2 444.8 L1142.4 443.8 L1142.6 442.8 L1142.8 441.9 L1142.9 440.9 L1143.1 439.9 L1143.3 438.9 L1143.5 437.9 L1143.6 436.9 L1143.8 435.9 L1144.0 435.0 L1144.1 434.0 L1144.3 433.0 L1144.5 432.0 L1144.6 431.0 L1144.8 430.0 L1145.0 429.0 L1145.1 428.1 L1145.3 427.1 L1145.5 426.1 L1145.6 425.1 L1145.8 424.1 L1146.0 423.1 L1146.1 422.1 L1146.3 421.2 L1146.5 420.2 L1146.6 419.2 L1146.8 418.2 L1147.0 417.2 L1147.1 416.2 L1147.3 415.2 L1147.5 414.3 L1147.6 413.3 L1147.8 412.3 L1148.0 411.3 L1148.2 410.3 L1148.4 409.3 L1148.5 408.3 L1148.7 407.4 L1148.9 406.4 L1149.1 405.4 L1149.3 404.4 L1149.5 403.4 L1149.7 402.5 L1149.9 401.5 L1150.1 400.5 L1150.3 399.5 L1150.5 398.5 L1150.7 397.6 L1150.9 396.6 L1151.2 395.6 L1151.4 394.6 L1151.6 393.7 L1151.8 392.7 L1152.0 391.7 L1152.3 390.7 L1152.5 389.8 L1152.7 388.8 L1152.9 387.8 L1153.2 386.8 L1153.4 385.9 L1153.6 384.9 L1153.8 383.9 L1154.1 383.0 L1154.3 382.0 L1154.5 381.0 L1154.8 380.0 L1155.0 379.1 L1155.2 378.1 L1155.5 377.1 L1155.7 376.1 L1155.9 375.2 L1156.2 374.2 L1156.4 373.2 L1156.6 372.3 L1156.9 371.3 L1157.1 370.3 L1157.3 369.3 L1157.6 368.4 L1157.8 367.4 L1158.1 366.4 L1158.3 365.5 L1158.5 364.5 L1158.8 363.5 L1159.0 362.5 L1159.2 361.6 L1159.5 360.6 L1159.7 359.6 L1159.9 358.6 L1160.1 357.7 L1160.3 356.7 L1160.6 355.7 L1160.8 354.7 L1161.0 353.8 L1161.2 352.8 L1161.4 351.8 L1161.6 350.8 L1161.8 349.8 L1162.0 348.9 L1162.2 347.9 L1162.4 346.9 L1162.6 345.9 L1162.8 344.9 L1163.0 344.0 L1163.2 343.0 L1163.4 342.0 L1163.6 341.0 L1163.9 340.1 L1164.1 339.1 L1164.3 338.1 L1164.5 337.1 L1164.7 336.1 L1164.9 335.2 L1165.1 334.2 L1165.3 333.2 L1165.5 332.2 L1165.7 331.2 L1165.9 330.3 L1166.1 329.3 L1166.3 328.3 L1166.5 327.3 L1166.8 326.4 L1167.0 325.4 L1167.2 324.4 L1167.4 323.4 L1167.6 322.5 L1167.8 321.5 L1168.1 320.5 L1168.3 319.5 L1168.5 318.5 L1168.7 317.6 L1168.9 316.6 L1169.2 315.6 L1169.4 314.6 L1169.6 313.7 L1169.8 312.7 L1170.0 311.7 L1170.2 310.7 L1170.4 309.8 L1170.7 308.8 L1170.9 307.8 L1171.1 306.8 L1171.3 305.9 L1171.5 304.9 L1171.7 303.9 L1171.9 302.9 L1172.1 301.9 L1172.3 300.9 L1172.5 300.0 L1172.7 299.0 L1172.8 298.0 L1173.0 297.0 L1173.2 296.0 L1173.4 295.1 L1173.6 294.1 L1173.8 293.1 L1174.0 292.1 L1174.2 291.1 L1174.4 290.2 L1174.6 289.2 L1174.8 288.2 L1175.0 287.2 L1175.2 286.2 L1175.4 285.3 L1175.6 284.3 L1175.8 283.3 L1176.1 282.3 L1176.3 281.4 L1176.5 280.4 L1176.7 279.4 L1177.0 278.4 L1177.2 277.5 L1177.4 276.5 L1177.7 275.5 L1177.9 274.5 L1178.1 273.6 L1178.4 272.6 L1178.6 271.6 L1178.9 270.7 L1179.1 269.7 L1179.4 268.7 L1179.6 267.8 L1179.9 266.8 L1180.1 265.8 L1180.4 264.9 L1180.6 263.9 L1180.9 262.9 L1181.2 262.0 L1181.4 261.0 L1181.7 260.0 L1181.9 259.1 L1182.2 258.1 L1182.4 257.1 L1182.7 256.2 L1183.0 255.2 L1183.2 254.2 L1183.5 253.3 L1183.8 252.3 L1184.1 251.4 L1184.4 250.4 L1184.8 249.5 L1185.2 248.6 L1185.6 247.7 L1186.0 246.8 L1186.5 245.9 L1187.1 245.1 L1187.7 244.6 L1188.5 244.4 L1189.2 244.7 L1189.9 245.3 L1190.6 246.0 L1191.2 246.8 L1191.7 247.6 L1192.3 248.5 L1192.8 249.3 L1193.2 250.2 L1193.6 251.1 L1194.1 252.0 L1194.5 253.0 L1194.9 253.9 L1195.2 254.8 L1195.7 255.7 L1196.1 256.6 L1196.5 257.5 L1196.8 258.5 L1197.2 259.4 L1197.6 260.3 L1198.0 261.2 L1198.4 262.2 L1198.8 263.1 L1199.1 264.0 L1199.5 264.9 L1199.9 265.9 L1200.3 266.8 L1200.7 267.7 L1201.1 268.6 L1201.5 269.5 L1201.9 270.4 L1202.3 271.3 L1202.7 272.3 L1203.2 273.2 L1203.6 274.1 L1204.0 275.0 L1204.5 275.9 L1204.9 276.7 L1205.4 277.6 L1205.9 278.5 L1206.4 279.4 L1206.9 280.2 L1207.4 281.1 L1207.9 281.9 L1208.5 282.8 L1209.0 283.6 L1209.6 284.4 L1210.2 285.2 L1210.8 286.0 L1211.4 286.8 L1212.0 287.6 L1212.6 288.4 L1213.1 289.3 L1213.7 290.1 L1214.2 291.0 L1214.7 291.8 L1215.2 292.7 L1215.7 293.6 L1216.2 294.4 L1216.6 295.3 L1217.0 296.2 L1217.5 297.2 L1217.9 298.1 L1218.2 299.0 L1218.6 299.9 L1219.0 300.8 L1219.4 301.8 L1219.7 302.7 L1220.0 303.7 L1220.4 304.6 L1220.7 305.5 L1221.0 306.5 L1221.3 307.4 L1221.6 308.4 L1221.9 309.4 L1222.2 310.3 L1222.5 311.3 L1222.7 312.2 L1223.0 313.2 L1223.2 314.2 L1223.5 315.2 L1223.7 316.1 L1223.9 317.1 L1224.2 318.1 L1224.4 319.0 L1224.6 320.0 L1224.8 321.0 L1225.1 322.0 L1225.3 322.9 L1225.5 323.9 L1225.7 324.9 L1225.9 325.9 L1226.1 326.9 L1226.3 327.8 L1226.5 328.8 L1226.7 329.8 L1226.9 330.8 L1227.1 331.8 L1227.3 332.7 L1227.5 333.7 L1227.7 334.7 L1227.9 335.7 L1228.0 336.7 L1228.2 337.7 L1228.4 338.6 L1228.5 339.6 L1228.7 340.6 L1228.8 341.6 L1228.9 342.6 L1229.1 343.6 L1229.2 344.6 L1229.3 345.6 L1229.4 346.6 L1229.5 347.6 L1229.7 348.6 L1229.8 349.6 L1229.9 350.5 L1230.0 351.5 L1230.1 352.5 L1230.2 353.5 L1230.3 354.5 L1230.4 355.5 L1230.5 356.5 L1230.6 357.5 L1230.7 358.5 L1230.8 359.5 L1231.0 360.5 L1231.1 361.5 L1231.2 362.5 L1231.4 363.5 L1231.5 364.4 L1231.7 365.4 L1231.8 366.4 L1232.0 367.4 L1232.1 368.4 L1232.3 369.4 L1232.5 370.4 L1232.6 371.4 L1232.8 372.3 L1232.9 373.3 L1233.1 374.3 L1233.2 375.3 L1233.3 376.3 L1233.5 377.3 L1233.6 378.3 L1233.7 379.3 L1233.9 380.3 L1234.0 381.3 L1234.1 382.3 L1234.2 383.3 L1234.3 384.2 L1234.5 385.2 L1234.6 386.2 L1234.7 387.2 L1234.8 388.2 L1234.9 389.2 L1235.0 390.2 L1235.2 391.2 L1235.3 392.2 L1235.4 393.2 L1235.5 394.2 L1235.6 395.2 L1235.8 396.2 L1235.9 397.1 L1236.0 398.1 L1236.2 399.1 L1236.3 400.1 L1236.5 401.1 L1236.6 402.1 L1236.8 403.1 L1237.0 404.1 L1237.1 405.1 L1237.3 406.0 L1237.5 407.0 L1237.7 408.0 L1237.9 409.0 L1238.1 410.0 L1238.3 410.9 L1238.5 411.9 L1238.7 412.9 L1238.9 413.9 L1239.1 414.8 L1239.4 415.8 L1239.6 416.8 L1239.8 417.8 L1240.0 418.8 L1240.2 419.7 L1240.4 420.7 L1240.6 421.7 L1240.8 422.7 L1241.0 423.6 L1241.2 424.6 L1241.4 425.6 L1241.6 426.6 L1241.8 427.6 L1242.0 428.6 L1242.2 429.5 L1242.4 430.5 L1242.5 431.5 L1242.7 432.5 L1242.9 433.5 L1243.1 434.5 L1243.3 435.4 L1243.5 436.4 L1243.7 437.4 L1243.8 438.4 L1244.0 439.4 L1244.2 440.3 L1244.4 441.3 L1244.6 442.3 L1244.8 443.3 L1245.0 444.3 L1245.2 445.3 L1245.4 446.2 L1245.6 447.2 L1245.8 448.2 L1245.9 449.2 L1246.1 450.2 L1246.3 451.1 L1246.5 452.1 L1246.7 453.1 L1246.9 454.1 L1247.1 455.1 L1247.3 456.0 L1247.5 457.0 L1247.7 458.0 L1247.9 459.0 L1248.1 460.0 L1248.3 460.9 L1248.5 461.9 L1248.7 462.9 L1248.9 463.9 L1249.1 464.9 L1249.3 465.8 L1249.5 466.8 L1249.8 467.8 L1250.0 468.8 L1250.2 469.7 L1250.5 470.7 L1250.7 471.7 L1251.0 472.6 L1251.2 473.6 L1251.5 474.6 L1251.7 475.5 L1252.0 476.5 L1252.3 477.5 L1252.5 478.4 L1252.8 479.4 L1253.1 480.4 L1253.3 481.3 L1253.6 482.3 L1253.9 483.2 L1254.2 484.2 L1254.5 485.2 L1254.8 486.1 L1255.1 487.1 L1255.4 488.0 L1255.7 489.0 L1256.0 489.9 L1256.4 490.9 L1256.7 491.8 L1257.1 492.7 L1257.4 493.7 L1257.8 494.6 L1258.2 495.5 L1258.5 496.4 L1258.9 497.4 L1259.3 498.3 L1259.7 499.2 L1260.1 500.1 L1260.6 501.0 L1261.0 501.9 L1261.4 502.8 L1261.9 503.7 L1262.3 504.6 L1262.8 505.5 L1263.2 506.4 L1263.7 507.3 L1264.2 508.1 L1264.7 509.0 L1265.2 509.9 L1265.7 510.7 L1266.2 511.6 L1266.7 512.4 L1267.3 513.3 L1267.8 514.1 L1268.4 515.0 L1268.9 515.8 L1269.5 516.6 L1270.1 517.4 L1270.6 518.3 L1271.2 519.1 L1271.8 519.9 L1272.5 520.6 L1273.1 521.4 L1273.7 522.2 L1274.4 522.9 L1275.1 523.6 L1275.8 524.3 L1276.6 525.0 L1277.3 525.7 L1278.1 526.3 L1278.9 526.9 L1279.6 527.5 L1280.5 528.1 L1281.3 528.7 L1282.1 529.2 L1283.0 529.7 L1283.9 530.2 L1284.8 530.6 L1285.7 531.0 L1286.7 531.3 L1287.6 531.6 L1288.6 531.9 L1289.5 532.1 L1290.5 532.3 L1291.5 532.5 L1292.4 532.7 L1293.2 532.7 L1294.0 532.8 L1294.0 532.8 Z" fill="rgb(234,0,4)" fill-opacity="0.5" stroke="rgb(234,0,4)" stroke-opacity="0.62" stroke-width="1.5" stroke-linejoin="round"/>
<path d="M773.9 532.8 L773.9 524.9 L775.1 524.9 L775.9 524.9 L776.9 524.8 L777.9 524.8 L778.9 524.8 L779.9 524.8 L780.9 524.8 L781.9 524.8 L782.9 524.8 L783.9 524.8 L784.9 524.9 L785.9 524.9 L786.9 525.0 L787.9 525.2 L788.9 525.3 L789.9 525.5 L790.8 525.6 L791.8 525.8 L792.8 526.0 L793.8 526.2 L794.8 526.4 L795.8 526.5 L796.7 526.7 L797.7 526.9 L798.7 527.0 L799.7 527.2 L800.7 527.4 L801.7 527.6 L802.6 527.8 L803.6 528.0 L804.6 528.2 L805.6 528.4 L806.6 528.6 L807.6 528.8 L808.5 528.9 L809.5 529.1 L810.5 529.3 L811.5 529.5 L812.5 529.6 L813.5 529.8 L814.4 530.0 L815.4 530.1 L816.4 530.3 L817.4 530.5 L818.4 530.6 L819.4 530.8 L820.4 531.0 L821.4 531.1 L822.3 531.3 L823.3 531.4 L824.3 531.5 L825.3 531.6 L826.3 531.7 L827.3 531.8 L828.3 531.9 L829.3 532.0 L830.3 532.1 L831.3 532.2 L832.3 532.3 L833.3 532.3 L834.3 532.4 L835.3 532.5 L836.3 532.5 L837.3 532.6 L838.3 532.6 L839.3 532.7 L840.3 532.7 L841.3 532.7 L842.3 532.7 L843.3 532.7 L844.3 532.7 L845.3 532.7 L846.3 532.7 L847.3 532.8 L848.3 532.8 L849.3 532.8 L850.3 532.8 L851.3 532.8 L852.3 532.8 L853.3 532.8 L854.3 532.8 L855.3 532.8 L856.3 532.8 L857.3 532.8 L858.3 532.8 L859.3 532.8 L860.3 532.8 L861.3 532.8 L862.3 532.8 L863.3 532.8 L864.3 532.8 L865.3 532.8 L866.3 532.8 L867.3 532.8 L868.3 532.8 L869.3 532.8 L870.3 532.8 L871.3 532.8 L872.3 532.8 L873.3 532.8 L874.3 532.8 L875.3 532.8 L876.3 532.8 L877.3 532.8 L878.3 532.8 L879.3 532.8 L880.3 532.8 L881.3 532.8 L882.3 532.8 L883.3 532.8 L884.3 532.8 L885.3 532.8 L886.3 532.8 L887.3 532.8 L888.3 532.8 L889.3 532.8 L890.3 532.8 L891.3 532.8 L892.3 532.8 L893.3 532.8 L894.3 532.8 L895.3 532.8 L896.3 532.8 L897.3 532.8 L898.3 532.8 L899.3 532.7 L900.3 532.7 L901.3 532.7 L902.3 532.7 L903.3 532.7 L904.3 532.7 L905.3 532.7 L906.3 532.7 L907.3 532.7 L908.3 532.6 L909.3 532.6 L910.3 532.5 L911.3 532.5 L912.3 532.5 L913.3 532.4 L914.3 532.3 L915.3 532.3 L916.3 532.2 L917.3 532.2 L918.3 532.1 L919.3 532.0 L920.3 532.0 L921.3 531.9 L922.2 531.8 L923.2 531.7 L924.2 531.6 L925.2 531.5 L926.2 531.4 L927.2 531.3 L928.2 531.2 L929.2 531.1 L930.2 531.0 L931.2 530.8 L932.2 530.7 L933.2 530.6 L934.2 530.4 L935.1 530.2 L936.1 530.0 L937.1 529.7 L938.0 529.5 L939.0 529.2 L940.0 528.9 L940.9 528.5 L941.8 528.2 L942.8 527.9 L943.7 527.5 L944.6 527.1 L945.6 526.8 L946.5 526.4 L947.4 526.0 L948.3 525.6 L949.2 525.1 L950.1 524.7 L951.0 524.2 L951.9 523.8 L952.8 523.3 L953.6 522.8 L954.5 522.3 L955.3 521.7 L956.2 521.2 L957.0 520.6 L957.8 520.1 L958.6 519.5 L959.4 518.9 L960.2 518.3 L961.0 517.7 L961.8 517.0 L962.6 516.4 L963.3 515.7 L964.0 515.0 L964.8 514.4 L965.5 513.7 L966.2 513.0 L966.9 512.3 L967.6 511.5 L968.3 510.8 L968.9 510.0 L969.6 509.3 L970.2 508.5 L970.8 507.7 L971.4 506.9 L972.1 506.1 L972.7 505.3 L973.3 504.5 L973.8 503.7 L974.4 502.9 L975.0 502.1 L975.6 501.3 L976.1 500.4 L976.7 499.6 L977.2 498.8 L977.7 497.9 L978.3 497.1 L978.8 496.2 L979.3 495.3 L979.8 494.5 L980.3 493.6 L980.8 492.8 L981.3 491.9 L981.8 491.0 L982.3 490.1 L982.8 489.3 L983.2 488.4 L983.7 487.5 L984.1 486.6 L984.6 485.7 L985.0 484.8 L985.5 483.9 L985.9 483.0 L986.3 482.1 L986.8 481.2 L987.2 480.3 L987.6 479.4 L988.1 478.5 L988.5 477.6 L989.0 476.7 L989.4 475.8 L989.8 474.9 L990.2 474.0 L990.7 473.1 L991.1 472.2 L991.5 471.3 L992.0 470.4 L992.4 469.5 L992.8 468.6 L993.3 467.7 L993.7 466.8 L994.1 465.9 L994.6 465.0 L995.0 464.1 L995.5 463.2 L995.9 462.3 L996.4 461.4 L996.8 460.5 L997.3 459.6 L997.8 458.8 L998.2 457.9 L998.7 457.0 L999.2 456.1 L999.7 455.2 L1000.2 454.4 L1000.6 453.5 L1001.1 452.6 L1001.6 451.8 L1002.1 450.9 L1002.6 450.0 L1003.1 449.1 L1003.5 448.2 L1004.0 447.4 L1004.5 446.5 L1004.9 445.6 L1005.4 444.7 L1005.8 443.8 L1006.3 442.9 L1006.7 442.0 L1007.2 441.1 L1007.6 440.2 L1008.0 439.3 L1008.5 438.4 L1008.9 437.5 L1009.3 436.6 L1009.8 435.7 L1010.2 434.8 L1010.6 433.9 L1011.0 433.0 L1011.4 432.1 L1011.8 431.1 L1012.2 430.2 L1012.6 429.3 L1013.0 428.4 L1013.4 427.5 L1013.8 426.6 L1014.2 425.6 L1014.5 424.7 L1014.9 423.8 L1015.3 422.8 L1015.6 421.9 L1016.0 421.0 L1016.3 420.0 L1016.7 419.1 L1017.0 418.1 L1017.4 417.2 L1017.7 416.3 L1018.0 415.3 L1018.4 414.4 L1018.8 413.5 L1019.1 412.5 L1019.5 411.6 L1019.9 410.7 L1020.3 409.8 L1020.7 408.8 L1021.1 407.9 L1021.5 407.0 L1021.9 406.1 L1022.3 405.2 L1022.7 404.3 L1023.2 403.4 L1023.6 402.5 L1024.1 401.6 L1024.5 400.7 L1025.0 399.8 L1025.4 398.9 L1025.9 398.0 L1026.4 397.2 L1026.8 396.3 L1027.3 395.4 L1027.8 394.5 L1028.3 393.7 L1028.8 392.8 L1029.3 391.9 L1029.8 391.1 L1030.4 390.2 L1030.9 389.4 L1031.4 388.5 L1031.9 387.7 L1032.5 386.8 L1033.0 386.0 L1033.6 385.2 L1034.1 384.3 L1034.7 383.5 L1035.3 382.7 L1035.8 381.9 L1036.4 381.0 L1037.0 380.2 L1037.5 379.4 L1038.1 378.6 L1038.7 377.7 L1039.2 376.9 L1039.8 376.1 L1040.4 375.3 L1041.0 374.5 L1041.6 373.7 L1042.1 372.9 L1042.8 372.1 L1043.4 371.3 L1044.0 370.5 L1044.7 369.7 L1045.3 369.0 L1046.0 368.3 L1046.7 367.6 L1047.5 366.9 L1048.3 366.3 L1049.1 365.7 L1049.9 365.1 L1050.7 364.5 L1051.5 363.9 L1052.3 363.3 L1053.1 362.7 L1053.9 362.2 L1054.8 361.7 L1055.7 361.2 L1056.6 360.8 L1057.5 360.4 L1058.4 360.2 L1059.4 360.0 L1060.4 359.9 L1061.4 359.9 L1062.4 360.0 L1063.4 360.2 L1064.3 360.5 L1065.3 360.8 L1066.2 361.2 L1067.1 361.6 L1068.0 362.0 L1068.9 362.4 L1069.8 362.9 L1070.7 363.3 L1071.6 363.8 L1072.5 364.2 L1073.4 364.7 L1074.2 365.2 L1075.1 365.7 L1076.0 366.2 L1076.8 366.8 L1077.6 367.4 L1078.4 367.9 L1079.2 368.6 L1080.0 369.2 L1080.7 369.8 L1081.5 370.5 L1082.2 371.2 L1083.0 371.9 L1083.6 372.6 L1084.3 373.3 L1085.0 374.1 L1085.6 374.8 L1086.3 375.6 L1086.9 376.4 L1087.5 377.2 L1088.1 378.0 L1088.7 378.8 L1089.3 379.6 L1089.8 380.4 L1090.4 381.2 L1091.0 382.0 L1091.6 382.9 L1092.1 383.7 L1092.7 384.5 L1093.2 385.4 L1093.8 386.2 L1094.3 387.0 L1094.9 387.9 L1095.4 388.7 L1095.9 389.6 L1096.4 390.4 L1097.0 391.3 L1097.5 392.1 L1098.0 393.0 L1098.5 393.9 L1099.0 394.7 L1099.5 395.6 L1100.0 396.5 L1100.5 397.3 L1101.0 398.2 L1101.5 399.1 L1101.9 400.0 L1102.4 400.8 L1102.9 401.7 L1103.4 402.6 L1103.9 403.5 L1104.4 404.3 L1104.8 405.2 L1105.3 406.1 L1105.8 407.0 L1106.2 407.9 L1106.7 408.7 L1107.2 409.6 L1107.6 410.5 L1108.1 411.4 L1108.5 412.3 L1109.0 413.2 L1109.4 414.1 L1109.8 415.0 L1110.3 415.9 L1110.7 416.8 L1111.2 417.7 L1111.6 418.6 L1112.0 419.5 L1112.5 420.4 L1112.9 421.3 L1113.4 422.2 L1113.8 423.1 L1114.3 424.0 L1114.7 424.9 L1115.1 425.8 L1115.6 426.7 L1116.0 427.6 L1116.5 428.5 L1116.9 429.4 L1117.4 430.2 L1117.8 431.1 L1118.3 432.0 L1118.7 432.9 L1119.1 433.8 L1119.6 434.7 L1120.0 435.6 L1120.5 436.5 L1120.9 437.4 L1121.3 438.3 L1121.8 439.2 L1122.2 440.1 L1122.7 441.0 L1123.1 441.9 L1123.6 442.8 L1124.0 443.7 L1124.5 444.6 L1124.9 445.5 L1125.4 446.4 L1125.8 447.3 L1126.3 448.1 L1126.8 449.0 L1127.2 449.9 L1127.7 450.8 L1128.2 451.7 L1128.6 452.6 L1129.1 453.5 L1129.6 454.3 L1130.0 455.2 L1130.5 456.1 L1131.0 457.0 L1131.4 457.9 L1131.9 458.8 L1132.4 459.6 L1132.8 460.5 L1133.3 461.4 L1133.8 462.3 L1134.3 463.1 L1134.8 464.0 L1135.3 464.9 L1135.8 465.8 L1136.2 466.6 L1136.8 467.5 L1137.3 468.4 L1137.8 469.2 L1138.3 470.1 L1138.8 470.9 L1139.3 471.8 L1139.8 472.6 L1140.4 473.5 L1140.9 474.3 L1141.4 475.2 L1141.9 476.0 L1142.5 476.9 L1143.0 477.8 L1143.5 478.6 L1144.0 479.4 L1144.6 480.3 L1145.1 481.1 L1145.7 482.0 L1146.2 482.8 L1146.8 483.6 L1147.3 484.5 L1147.9 485.3 L1148.5 486.1 L1149.1 486.9 L1149.7 487.7 L1150.3 488.5 L1150.9 489.3 L1151.5 490.1 L1152.2 490.8 L1152.9 491.5 L1153.6 492.3 L1154.3 493.0 L1155.0 493.6 L1155.8 494.3 L1156.5 495.0 L1157.3 495.6 L1158.1 496.2 L1158.8 496.9 L1159.6 497.5 L1160.5 498.0 L1161.3 498.6 L1162.1 499.2 L1162.9 499.7 L1163.8 500.3 L1164.6 500.8 L1165.5 501.3 L1166.4 501.8 L1167.2 502.3 L1168.1 502.7 L1169.0 503.2 L1169.9 503.7 L1170.8 504.1 L1171.7 504.5 L1172.6 505.0 L1173.5 505.4 L1174.4 505.8 L1175.3 506.2 L1176.2 506.6 L1177.2 507.0 L1178.1 507.4 L1179.0 507.8 L1179.9 508.1 L1180.9 508.5 L1181.8 508.8 L1182.8 509.2 L1183.7 509.5 L1184.6 509.8 L1185.6 510.2 L1186.5 510.5 L1187.5 510.8 L1188.4 511.2 L1189.4 511.5 L1190.3 511.9 L1191.2 512.2 L1192.1 512.6 L1193.1 513.0 L1194.0 513.4 L1194.9 513.8 L1195.8 514.2 L1196.7 514.6 L1197.6 515.0 L1198.6 515.4 L1199.5 515.8 L1200.4 516.2 L1201.3 516.6 L1202.2 517.0 L1203.2 517.4 L1204.1 517.7 L1205.0 518.1 L1205.9 518.5 L1206.9 518.9 L1207.8 519.2 L1208.7 519.6 L1209.7 520.0 L1210.6 520.3 L1211.5 520.7 L1212.4 521.1 L1213.4 521.5 L1214.3 521.8 L1215.2 522.2 L1216.2 522.5 L1217.1 522.9 L1218.0 523.2 L1219.0 523.6 L1219.9 523.9 L1220.9 524.2 L1221.8 524.5 L1222.8 524.8 L1223.7 525.1 L1224.7 525.4 L1225.6 525.7 L1226.6 526.0 L1227.6 526.2 L1228.5 526.5 L1229.5 526.8 L1230.5 527.0 L1231.4 527.2 L1232.4 527.5 L1233.4 527.7 L1234.4 528.0 L1235.3 528.2 L1236.3 528.4 L1237.3 528.6 L1238.3 528.8 L1239.2 529.0 L1240.2 529.2 L1241.2 529.4 L1242.2 529.6 L1243.2 529.8 L1244.1 530.0 L1245.1 530.2 L1246.1 530.3 L1247.1 530.5 L1248.1 530.7 L1249.1 530.8 L1250.1 531.0 L1251.1 531.1 L1252.1 531.2 L1253.0 531.3 L1254.0 531.5 L1255.0 531.6 L1256.0 531.7 L1257.0 531.8 L1258.0 531.9 L1259.0 532.0 L1260.0 532.2 L1261.0 532.3 L1262.0 532.3 L1263.0 532.4 L1264.0 532.5 L1265.0 532.6 L1265.9 532.7 L1266.8 532.7 L1267.5 532.8 L1268.0 532.8 L1268.0 532.8 Z" fill="rgb(71,239,61)" fill-opacity="0.5" stroke="rgb(71,239,61)" stroke-opacity="0.62" stroke-width="1.5" stroke-linejoin="round"/>
<path d="M934.0 532.8 L934.0 532.8 L935.2 532.8 L936.0 532.7 L937.0 532.6 L938.0 532.6 L939.0 532.4 L940.0 532.3 L941.0 532.1 L941.9 531.9 L942.9 531.6 L943.8 531.2 L944.7 530.8 L945.6 530.4 L946.5 529.9 L947.3 529.3 L948.1 528.8 L948.9 528.1 L949.6 527.5 L950.3 526.7 L951.0 526.0 L951.6 525.2 L952.3 524.4 L952.9 523.6 L953.4 522.8 L954.0 522.0 L954.5 521.1 L955.0 520.3 L955.4 519.4 L955.9 518.5 L956.3 517.6 L956.7 516.7 L957.1 515.7 L957.5 514.8 L957.9 513.9 L958.3 513.0 L958.7 512.1 L959.1 511.2 L959.6 510.3 L960.0 509.4 L960.4 508.5 L960.8 507.6 L961.3 506.7 L961.7 505.7 L962.1 504.8 L962.5 503.9 L962.9 503.0 L963.2 502.1 L963.6 501.1 L963.9 500.2 L964.2 499.2 L964.5 498.3 L964.8 497.3 L965.1 496.3 L965.3 495.4 L965.5 494.4 L965.8 493.4 L966.0 492.5 L966.2 491.5 L966.4 490.5 L966.6 489.5 L966.8 488.5 L967.0 487.6 L967.2 486.6 L967.4 485.6 L967.6 484.6 L967.8 483.6 L968.0 482.7 L968.2 481.7 L968.4 480.7 L968.6 479.7 L968.8 478.7 L969.0 477.8 L969.2 476.8 L969.4 475.8 L969.6 474.8 L969.7 473.8 L969.9 472.9 L970.1 471.9 L970.3 470.9 L970.5 469.9 L970.7 468.9 L970.9 467.9 L971.1 467.0 L971.2 466.0 L971.4 465.0 L971.6 464.0 L971.8 463.0 L972.0 462.0 L972.2 461.1 L972.4 460.1 L972.6 459.1 L972.7 458.1 L972.9 457.1 L973.1 456.2 L973.3 455.2 L973.5 454.2 L973.7 453.2 L973.9 452.2 L974.1 451.3 L974.3 450.3 L974.6 449.3 L974.8 448.3 L975.0 447.3 L975.2 446.4 L975.4 445.4 L975.6 444.4 L975.8 443.4 L976.0 442.4 L976.2 441.5 L976.3 440.5 L976.5 439.5 L976.7 438.5 L976.9 437.5 L977.1 436.5 L977.2 435.6 L977.4 434.6 L977.5 433.6 L977.7 432.6 L977.9 431.6 L978.0 430.6 L978.2 429.6 L978.3 428.6 L978.5 427.7 L978.6 426.7 L978.8 425.7 L978.9 424.7 L979.0 423.7 L979.2 422.7 L979.3 421.7 L979.5 420.7 L979.6 419.7 L979.8 418.7 L979.9 417.8 L980.0 416.8 L980.2 415.8 L980.3 414.8 L980.5 413.8 L980.6 412.8 L980.8 411.8 L980.9 410.8 L981.1 409.8 L981.2 408.9 L981.4 407.9 L981.5 406.9 L981.7 405.9 L981.8 404.9 L982.0 403.9 L982.1 402.9 L982.3 401.9 L982.5 401.0 L982.6 400.0 L982.8 399.0 L983.0 398.0 L983.1 397.0 L983.3 396.0 L983.5 395.0 L983.6 394.1 L983.8 393.1 L984.0 392.1 L984.1 391.1 L984.3 390.1 L984.5 389.1 L984.6 388.1 L984.8 387.2 L985.0 386.2 L985.2 385.2 L985.3 384.2 L985.5 383.2 L985.7 382.2 L985.8 381.2 L986.0 380.3 L986.2 379.3 L986.4 378.3 L986.5 377.3 L986.7 376.3 L986.8 375.3 L987.0 374.3 L987.2 373.4 L987.3 372.4 L987.5 371.4 L987.7 370.4 L987.8 369.4 L988.0 368.4 L988.1 367.4 L988.3 366.4 L988.4 365.5 L988.6 364.5 L988.7 363.5 L988.9 362.5 L989.1 361.5 L989.2 360.5 L989.4 359.5 L989.6 358.5 L989.7 357.6 L989.9 356.6 L990.1 355.6 L990.2 354.6 L990.4 353.6 L990.6 352.6 L990.8 351.6 L990.9 350.7 L991.1 349.7 L991.3 348.7 L991.5 347.7 L991.7 346.7 L991.9 345.7 L992.0 344.8 L992.2 343.8 L992.4 342.8 L992.6 341.8 L992.8 340.8 L993.0 339.9 L993.2 338.9 L993.4 337.9 L993.5 336.9 L993.7 335.9 L993.9 334.9 L994.1 334.0 L994.3 333.0 L994.5 332.0 L994.7 331.0 L994.9 330.0 L995.1 329.1 L995.3 328.1 L995.5 327.1 L995.6 326.1 L995.8 325.1 L996.0 324.1 L996.2 323.2 L996.4 322.2 L996.6 321.2 L996.8 320.2 L997.0 319.2 L997.2 318.3 L997.4 317.3 L997.6 316.3 L997.8 315.3 L998.0 314.3 L998.2 313.4 L998.4 312.4 L998.6 311.4 L998.8 310.4 L999.0 309.4 L999.2 308.5 L999.4 307.5 L999.6 306.5 L999.8 305.5 L1000.1 304.6 L1000.3 303.6 L1000.5 302.6 L1000.7 301.6 L1000.9 300.6 L1001.1 299.7 L1001.3 298.7 L1001.5 297.7 L1001.7 296.7 L1001.9 295.8 L1002.1 294.8 L1002.4 293.8 L1002.7 292.9 L1003.0 291.9 L1003.4 291.0 L1003.8 290.1 L1004.3 289.2 L1004.8 288.3 L1005.3 287.5 L1005.8 286.6 L1006.4 285.8 L1007.0 285.1 L1007.8 284.5 L1008.6 284.1 L1009.5 283.9 L1010.4 284.2 L1011.2 284.6 L1011.9 285.3 L1012.6 286.0 L1013.2 286.8 L1013.8 287.6 L1014.4 288.4 L1014.9 289.2 L1015.5 290.1 L1016.0 290.9 L1016.6 291.7 L1017.2 292.5 L1017.8 293.3 L1018.4 294.1 L1019.0 294.9 L1019.6 295.7 L1020.2 296.5 L1020.8 297.3 L1021.4 298.1 L1022.1 298.8 L1022.8 299.5 L1023.6 300.1 L1024.4 300.7 L1025.2 301.3 L1026.1 301.8 L1026.9 302.3 L1027.8 302.7 L1028.8 303.0 L1029.7 303.1 L1030.7 303.1 L1031.7 302.9 L1032.6 302.5 L1033.5 302.1 L1034.4 301.7 L1035.3 301.3 L1036.2 300.9 L1037.2 300.6 L1038.1 300.3 L1039.1 300.0 L1040.1 299.8 L1041.0 299.8 L1041.9 300.1 L1042.8 300.5 L1043.5 301.1 L1044.2 301.8 L1044.8 302.6 L1045.5 303.4 L1046.1 304.2 L1046.7 305.0 L1047.2 305.8 L1047.8 306.6 L1048.3 307.5 L1048.7 308.4 L1049.2 309.3 L1049.6 310.2 L1050.1 311.1 L1050.5 312.0 L1050.9 312.9 L1051.3 313.8 L1051.7 314.7 L1052.1 315.7 L1052.4 316.6 L1052.8 317.5 L1053.1 318.5 L1053.4 319.4 L1053.7 320.4 L1054.0 321.3 L1054.4 322.3 L1054.7 323.2 L1055.0 324.2 L1055.3 325.1 L1055.6 326.1 L1055.8 327.0 L1056.1 328.0 L1056.4 329.0 L1056.7 329.9 L1057.0 330.9 L1057.3 331.8 L1057.6 332.8 L1057.9 333.7 L1058.2 334.7 L1058.5 335.6 L1058.8 336.6 L1059.1 337.6 L1059.4 338.5 L1059.7 339.5 L1060.0 340.4 L1060.3 341.4 L1060.5 342.3 L1060.8 343.3 L1061.1 344.3 L1061.4 345.2 L1061.7 346.2 L1062.0 347.1 L1062.3 348.1 L1062.6 349.0 L1062.9 350.0 L1063.3 350.9 L1063.6 351.9 L1064.0 352.8 L1064.3 353.7 L1064.7 354.6 L1065.1 355.6 L1065.5 356.5 L1065.8 357.4 L1066.2 358.4 L1066.5 359.3 L1066.8 360.3 L1067.0 361.2 L1067.3 362.2 L1067.5 363.2 L1067.7 364.2 L1067.9 365.1 L1068.1 366.1 L1068.3 367.1 L1068.5 368.1 L1068.7 369.1 L1068.9 370.0 L1069.1 371.0 L1069.3 372.0 L1069.5 373.0 L1069.7 374.0 L1069.9 374.9 L1070.1 375.9 L1070.3 376.9 L1070.5 377.9 L1070.7 378.9 L1070.9 379.9 L1071.0 380.8 L1071.2 381.8 L1071.4 382.8 L1071.6 383.8 L1071.8 384.8 L1072.0 385.7 L1072.1 386.7 L1072.3 387.7 L1072.5 388.7 L1072.7 389.7 L1072.9 390.7 L1073.1 391.6 L1073.3 392.6 L1073.4 393.6 L1073.6 394.6 L1073.8 395.6 L1074.0 396.6 L1074.2 397.5 L1074.4 398.5 L1074.6 399.5 L1074.8 400.5 L1075.0 401.5 L1075.2 402.4 L1075.4 403.4 L1075.6 404.4 L1075.8 405.4 L1076.0 406.4 L1076.2 407.3 L1076.5 408.3 L1076.7 409.3 L1076.9 410.3 L1077.1 411.2 L1077.3 412.2 L1077.6 413.2 L1077.8 414.2 L1078.0 415.1 L1078.3 416.1 L1078.5 417.1 L1078.7 418.0 L1079.0 419.0 L1079.2 420.0 L1079.4 421.0 L1079.7 421.9 L1079.9 422.9 L1080.2 423.9 L1080.4 424.8 L1080.6 425.8 L1080.9 426.8 L1081.1 427.8 L1081.4 428.7 L1081.6 429.7 L1081.8 430.7 L1082.1 431.6 L1082.3 432.6 L1082.6 433.6 L1082.8 434.5 L1083.1 435.5 L1083.3 436.5 L1083.5 437.5 L1083.8 438.4 L1084.0 439.4 L1084.3 440.4 L1084.5 441.3 L1084.7 442.3 L1085.0 443.3 L1085.2 444.3 L1085.4 445.2 L1085.7 446.2 L1085.9 447.2 L1086.2 448.1 L1086.4 449.1 L1086.6 450.1 L1086.9 451.1 L1087.1 452.0 L1087.3 453.0 L1087.6 454.0 L1087.8 454.9 L1088.0 455.9 L1088.3 456.9 L1088.5 457.9 L1088.7 458.8 L1089.0 459.8 L1089.2 460.8 L1089.4 461.8 L1089.6 462.7 L1089.8 463.7 L1090.1 464.7 L1090.3 465.7 L1090.5 466.6 L1090.7 467.6 L1090.9 468.6 L1091.1 469.6 L1091.3 470.5 L1091.6 471.5 L1091.8 472.5 L1092.0 473.5 L1092.2 474.5 L1092.4 475.4 L1092.6 476.4 L1092.8 477.4 L1093.0 478.4 L1093.2 479.3 L1093.4 480.3 L1093.7 481.3 L1093.9 482.3 L1094.1 483.3 L1094.2 484.2 L1094.4 485.2 L1094.6 486.2 L1094.8 487.2 L1094.9 488.2 L1095.1 489.2 L1095.3 490.2 L1095.4 491.1 L1095.6 492.1 L1095.8 493.1 L1095.9 494.1 L1096.1 495.1 L1096.3 496.1 L1096.5 497.1 L1096.7 498.0 L1096.9 499.0 L1097.1 500.0 L1097.4 500.9 L1097.6 501.9 L1097.9 502.9 L1098.2 503.8 L1098.4 504.8 L1098.7 505.8 L1099.1 506.7 L1099.4 507.7 L1099.7 508.6 L1100.0 509.5 L1100.4 510.5 L1100.7 511.4 L1101.1 512.3 L1101.5 513.3 L1101.9 514.2 L1102.2 515.1 L1102.6 516.0 L1103.1 516.9 L1103.5 517.8 L1103.9 518.7 L1104.4 519.6 L1104.8 520.5 L1105.3 521.4 L1105.9 522.2 L1106.4 523.1 L1106.9 523.9 L1107.5 524.7 L1108.1 525.5 L1108.7 526.3 L1109.4 527.1 L1110.1 527.8 L1110.8 528.5 L1111.6 529.1 L1112.4 529.6 L1113.3 530.2 L1114.1 530.6 L1115.0 531.1 L1116.0 531.4 L1116.9 531.7 L1117.9 532.0 L1118.9 532.2 L1119.8 532.4 L1120.8 532.6 L1121.7 532.7 L1122.4 532.8 L1123.0 532.8 L1123.0 532.8 Z" fill="rgb(23,145,123)" fill-opacity="0.5" stroke="rgb(23,145,123)" stroke-opacity="0.62" stroke-width="1.5" stroke-linejoin="round"/>
<path d="M969.0 532.8 L969.0 532.8 L970.2 532.8 L971.0 532.7 L972.0 532.7 L973.0 532.6 L974.0 532.5 L975.0 532.3 L975.9 532.1 L976.9 531.8 L977.8 531.4 L978.6 530.9 L979.4 530.3 L980.2 529.6 L980.9 529.0 L981.7 528.3 L982.3 527.6 L983.0 526.8 L983.5 526.0 L984.1 525.1 L984.6 524.3 L985.1 523.4 L985.5 522.5 L986.0 521.6 L986.4 520.7 L986.8 519.8 L987.3 518.9 L987.7 518.0 L988.1 517.1 L988.6 516.2 L989.0 515.3 L989.4 514.4 L989.8 513.4 L990.1 512.5 L990.5 511.6 L990.9 510.7 L991.3 509.7 L991.6 508.8 L992.0 507.9 L992.4 506.9 L992.7 506.0 L993.1 505.1 L993.4 504.1 L993.7 503.2 L994.1 502.2 L994.4 501.3 L994.7 500.4 L995.0 499.4 L995.4 498.5 L995.7 497.5 L996.0 496.6 L996.3 495.6 L996.7 494.7 L997.0 493.7 L997.3 492.8 L997.6 491.8 L998.0 490.9 L998.3 490.0 L998.7 489.0 L999.0 488.1 L999.4 487.2 L999.8 486.2 L1000.2 485.3 L1000.5 484.4 L1000.9 483.5 L1001.3 482.5 L1001.6 481.6 L1002.0 480.6 L1002.3 479.7 L1002.6 478.8 L1002.9 477.8 L1003.3 476.9 L1003.6 475.9 L1003.9 475.0 L1004.2 474.0 L1004.5 473.1 L1004.8 472.1 L1005.1 471.1 L1005.4 470.2 L1005.6 469.2 L1005.9 468.3 L1006.2 467.3 L1006.5 466.4 L1006.8 465.4 L1007.1 464.5 L1007.4 463.5 L1007.7 462.5 L1008.0 461.6 L1008.3 460.6 L1008.6 459.7 L1008.9 458.7 L1009.1 457.8 L1009.4 456.8 L1009.7 455.8 L1010.0 454.9 L1010.2 453.9 L1010.5 452.9 L1010.8 452.0 L1011.0 451.0 L1011.3 450.0 L1011.5 449.1 L1011.8 448.1 L1012.0 447.1 L1012.3 446.2 L1012.5 445.2 L1012.8 444.2 L1013.0 443.3 L1013.2 442.3 L1013.5 441.3 L1013.7 440.3 L1013.9 439.4 L1014.1 438.4 L1014.3 437.4 L1014.5 436.4 L1014.7 435.4 L1014.9 434.5 L1015.1 433.5 L1015.3 432.5 L1015.5 431.5 L1015.7 430.5 L1015.9 429.6 L1016.1 428.6 L1016.2 427.6 L1016.4 426.6 L1016.6 425.6 L1016.8 424.7 L1017.0 423.7 L1017.2 422.7 L1017.4 421.7 L1017.6 420.7 L1017.8 419.7 L1018.0 418.8 L1018.2 417.8 L1018.4 416.8 L1018.6 415.8 L1018.8 414.8 L1019.0 413.9 L1019.2 412.9 L1019.5 411.9 L1019.7 411.0 L1020.0 410.0 L1020.2 409.0 L1020.5 408.1 L1020.8 407.1 L1021.1 406.1 L1021.3 405.2 L1021.6 404.2 L1021.8 403.2 L1022.1 402.3 L1022.3 401.3 L1022.5 400.3 L1022.7 399.3 L1022.9 398.4 L1023.1 397.4 L1023.3 396.4 L1023.4 395.4 L1023.6 394.4 L1023.7 393.4 L1023.9 392.4 L1024.0 391.5 L1024.2 390.5 L1024.3 389.5 L1024.5 388.5 L1024.6 387.5 L1024.7 386.5 L1024.9 385.5 L1025.0 384.5 L1025.1 383.5 L1025.3 382.5 L1025.4 381.5 L1025.5 380.6 L1025.7 379.6 L1025.8 378.6 L1025.9 377.6 L1026.1 376.6 L1026.2 375.6 L1026.3 374.6 L1026.5 373.6 L1026.6 372.6 L1026.8 371.6 L1026.9 370.6 L1027.0 369.7 L1027.2 368.7 L1027.3 367.7 L1027.4 366.7 L1027.6 365.7 L1027.7 364.7 L1027.9 363.7 L1028.0 362.7 L1028.1 361.7 L1028.3 360.7 L1028.4 359.8 L1028.6 358.8 L1028.7 357.8 L1028.9 356.8 L1029.0 355.8 L1029.2 354.8 L1029.3 353.8 L1029.5 352.8 L1029.6 351.8 L1029.8 350.9 L1030.0 349.9 L1030.1 348.9 L1030.3 347.9 L1030.4 346.9 L1030.6 345.9 L1030.7 344.9 L1030.9 343.9 L1031.1 343.0 L1031.2 342.0 L1031.4 341.0 L1031.5 340.0 L1031.7 339.0 L1031.9 338.0 L1032.0 337.0 L1032.2 336.0 L1032.3 335.1 L1032.5 334.1 L1032.6 333.1 L1032.8 332.1 L1033.0 331.1 L1033.1 330.1 L1033.3 329.1 L1033.4 328.1 L1033.6 327.2 L1033.7 326.2 L1033.9 325.2 L1034.1 324.2 L1034.2 323.2 L1034.4 322.2 L1034.6 321.2 L1034.7 320.3 L1034.9 319.3 L1035.1 318.3 L1035.2 317.3 L1035.4 316.3 L1035.5 315.3 L1035.7 314.3 L1035.8 313.3 L1036.0 312.4 L1036.1 311.4 L1036.2 310.4 L1036.4 309.4 L1036.5 308.4 L1036.6 307.4 L1036.7 306.4 L1036.8 305.4 L1037.0 304.4 L1037.1 303.4 L1037.2 302.4 L1037.3 301.4 L1037.4 300.4 L1037.5 299.4 L1037.6 298.4 L1037.6 297.4 L1037.7 296.5 L1037.8 295.5 L1037.9 294.5 L1038.0 293.5 L1038.1 292.5 L1038.2 291.5 L1038.2 290.5 L1038.3 289.5 L1038.4 288.5 L1038.5 287.5 L1038.6 286.5 L1038.6 285.5 L1038.7 284.5 L1038.8 283.5 L1038.9 282.5 L1038.9 281.5 L1039.0 280.5 L1039.1 279.5 L1039.2 278.5 L1039.2 277.5 L1039.3 276.5 L1039.4 275.5 L1039.5 274.5 L1039.5 273.5 L1039.6 272.5 L1039.7 271.5 L1039.8 270.5 L1039.8 269.5 L1039.9 268.5 L1040.0 267.5 L1040.0 266.5 L1040.1 265.5 L1040.2 264.5 L1040.3 263.5 L1040.3 262.6 L1040.4 261.6 L1040.5 260.6 L1040.5 259.6 L1040.6 258.6 L1040.7 257.6 L1040.8 256.6 L1040.8 255.6 L1040.9 254.6 L1041.0 253.6 L1041.1 252.6 L1041.1 251.6 L1041.2 250.6 L1041.3 249.6 L1041.4 248.6 L1041.4 247.6 L1041.5 246.6 L1041.6 245.6 L1041.7 244.6 L1041.7 243.6 L1041.8 242.6 L1041.9 241.6 L1042.0 240.6 L1042.0 239.6 L1042.1 238.6 L1042.2 237.6 L1042.3 236.6 L1042.4 235.6 L1042.4 234.6 L1042.5 233.6 L1042.6 232.6 L1042.7 231.6 L1042.7 230.6 L1042.8 229.6 L1042.9 228.6 L1043.0 227.7 L1043.0 226.7 L1043.1 225.7 L1043.2 224.7 L1043.3 223.7 L1043.3 222.7 L1043.4 221.7 L1043.5 220.7 L1043.6 219.7 L1043.6 218.7 L1043.7 217.7 L1043.8 216.7 L1043.8 215.7 L1043.9 214.7 L1044.0 213.7 L1044.0 212.7 L1044.1 211.7 L1044.2 210.7 L1044.2 209.7 L1044.3 208.7 L1044.4 207.7 L1044.4 206.7 L1044.5 205.7 L1044.6 204.7 L1044.6 203.7 L1044.7 202.7 L1044.7 201.7 L1044.8 200.7 L1044.9 199.7 L1044.9 198.7 L1045.0 197.7 L1045.0 196.7 L1045.1 195.7 L1045.2 194.7 L1045.2 193.7 L1045.3 192.7 L1045.3 191.7 L1045.4 190.7 L1045.4 189.7 L1045.5 188.7 L1045.5 187.7 L1045.6 186.7 L1045.6 185.7 L1045.7 184.7 L1045.7 183.7 L1045.8 182.7 L1045.8 181.7 L1045.9 180.7 L1045.9 179.7 L1046.0 178.7 L1046.0 177.7 L1046.1 176.7 L1046.1 175.7 L1046.1 174.7 L1046.2 173.7 L1046.2 172.8 L1046.2 171.8 L1046.3 170.8 L1046.3 169.8 L1046.4 168.8 L1046.4 167.8 L1046.4 166.8 L1046.5 165.8 L1046.5 164.8 L1046.6 163.8 L1046.6 162.8 L1046.6 161.8 L1046.7 160.8 L1046.7 159.8 L1046.7 158.8 L1046.8 157.8 L1046.8 156.8 L1046.8 155.8 L1046.9 154.8 L1046.9 153.8 L1047.0 152.8 L1047.0 151.8 L1047.0 150.8 L1047.1 149.8 L1047.1 148.8 L1047.2 147.8 L1047.2 146.8 L1047.2 145.8 L1047.3 144.8 L1047.3 143.8 L1047.4 142.8 L1047.4 141.8 L1047.5 140.8 L1047.5 139.8 L1047.5 138.8 L1047.6 137.8 L1047.6 136.8 L1047.7 135.8 L1047.7 134.8 L1047.8 133.8 L1047.8 132.8 L1047.9 131.8 L1047.9 130.8 L1048.0 129.8 L1048.1 128.8 L1048.1 127.8 L1048.2 126.8 L1048.2 125.8 L1048.3 124.8 L1048.3 123.8 L1048.4 122.8 L1048.4 121.8 L1048.5 120.8 L1048.6 119.8 L1048.6 118.8 L1048.7 117.8 L1048.7 116.8 L1048.8 115.8 L1048.9 114.8 L1048.9 113.8 L1049.0 112.8 L1049.1 111.8 L1049.1 110.8 L1049.2 109.8 L1049.3 108.8 L1049.3 107.8 L1049.4 106.8 L1049.5 105.8 L1049.5 104.8 L1049.6 103.8 L1049.7 102.8 L1049.7 101.8 L1049.8 100.8 L1049.8 99.8 L1049.9 98.8 L1050.0 97.8 L1050.0 96.9 L1050.1 95.9 L1050.2 94.9 L1050.2 93.9 L1050.3 92.9 L1050.4 91.9 L1050.4 90.9 L1050.5 89.9 L1050.5 88.9 L1050.6 87.9 L1050.7 86.9 L1050.7 85.9 L1050.8 84.9 L1050.9 83.9 L1050.9 82.9 L1051.0 81.9 L1051.1 80.9 L1051.1 79.9 L1051.2 78.9 L1051.3 77.9 L1051.4 76.9 L1051.4 75.9 L1051.5 74.9 L1051.6 73.9 L1051.6 72.9 L1051.7 71.9 L1051.8 70.9 L1051.9 69.9 L1051.9 68.9 L1052.0 67.9 L1052.1 66.9 L1052.2 65.9 L1052.3 64.9 L1052.4 63.9 L1052.4 62.9 L1052.5 61.9 L1052.6 60.9 L1052.7 60.0 L1052.8 59.0 L1053.0 58.0 L1053.1 57.0 L1053.2 56.0 L1053.3 55.0 L1053.4 54.0 L1053.5 53.0 L1053.7 52.0 L1053.8 51.0 L1053.9 50.0 L1054.1 49.0 L1054.2 48.0 L1054.3 47.1 L1054.5 46.1 L1054.6 45.1 L1054.8 44.1 L1054.9 43.1 L1055.1 42.1 L1055.3 41.1 L1055.4 40.1 L1055.6 39.1 L1055.7 38.2 L1055.9 37.2 L1056.1 36.2 L1056.2 35.2 L1056.4 34.2 L1056.6 33.2 L1056.9 32.3 L1057.2 31.3 L1057.5 30.4 L1057.9 29.8 L1058.3 29.5 L1058.8 29.8 L1059.2 30.6 L1059.5 31.5 L1059.8 32.4 L1060.0 33.4 L1060.3 34.3 L1060.6 35.3 L1060.8 36.3 L1061.0 37.3 L1061.2 38.2 L1061.4 39.2 L1061.6 40.2 L1061.8 41.2 L1061.9 42.2 L1062.1 43.2 L1062.2 44.2 L1062.3 45.1 L1062.5 46.1 L1062.6 47.1 L1062.7 48.1 L1062.8 49.1 L1062.9 50.1 L1063.1 51.1 L1063.2 52.1 L1063.3 53.1 L1063.4 54.1 L1063.5 55.1 L1063.6 56.1 L1063.7 57.1 L1063.8 58.1 L1063.9 59.1 L1064.0 60.1 L1064.1 61.0 L1064.2 62.0 L1064.3 63.0 L1064.3 64.0 L1064.4 65.0 L1064.5 66.0 L1064.6 67.0 L1064.7 68.0 L1064.8 69.0 L1064.8 70.0 L1064.9 71.0 L1065.0 72.0 L1065.1 73.0 L1065.1 74.0 L1065.2 75.0 L1065.3 76.0 L1065.4 77.0 L1065.4 78.0 L1065.5 79.0 L1065.6 80.0 L1065.6 81.0 L1065.7 82.0 L1065.8 83.0 L1065.8 84.0 L1065.9 85.0 L1065.9 86.0 L1066.0 87.0 L1066.0 88.0 L1066.1 89.0 L1066.1 90.0 L1066.2 91.0 L1066.3 92.0 L1066.3 93.0 L1066.4 94.0 L1066.4 95.0 L1066.5 96.0 L1066.5 97.0 L1066.6 98.0 L1066.6 99.0 L1066.7 100.0 L1066.7 101.0 L1066.8 102.0 L1066.8 103.0 L1066.9 104.0 L1066.9 105.0 L1067.0 105.9 L1067.0 106.9 L1067.1 107.9 L1067.1 108.9 L1067.2 109.9 L1067.2 110.9 L1067.3 111.9 L1067.3 112.9 L1067.4 113.9 L1067.4 114.9 L1067.5 115.9 L1067.5 116.9 L1067.6 117.9 L1067.6 118.9 L1067.7 119.9 L1067.7 120.9 L1067.8 121.9 L1067.8 122.9 L1067.9 123.9 L1067.9 124.9 L1068.0 125.9 L1068.0 126.9 L1068.1 127.9 L1068.1 128.9 L1068.2 129.9 L1068.2 130.9 L1068.3 131.9 L1068.3 132.9 L1068.4 133.9 L1068.4 134.9 L1068.5 135.9 L1068.5 136.9 L1068.6 137.9 L1068.7 138.9 L1068.7 139.9 L1068.8 140.9 L1068.8 141.9 L1068.9 142.9 L1068.9 143.9 L1069.0 144.9 L1069.1 145.9 L1069.1 146.9 L1069.2 147.9 L1069.2 148.9 L1069.3 149.9 L1069.4 150.9 L1069.4 151.9 L1069.5 152.9 L1069.5 153.9 L1069.6 154.9 L1069.7 155.9 L1069.7 156.9 L1069.8 157.9 L1069.9 158.9 L1069.9 159.9 L1070.0 160.9 L1070.1 161.9 L1070.1 162.9 L1070.2 163.9 L1070.3 164.9 L1070.3 165.9 L1070.4 166.9 L1070.4 167.9 L1070.5 168.8 L1070.6 169.8 L1070.6 170.8 L1070.7 171.8 L1070.8 172.8 L1070.8 173.8 L1070.9 174.8 L1071.0 175.8 L1071.0 176.8 L1071.1 177.8 L1071.1 178.8 L1071.2 179.8 L1071.3 180.8 L1071.3 181.8 L1071.4 182.8 L1071.4 183.8 L1071.5 184.8 L1071.5 185.8 L1071.6 186.8 L1071.7 187.8 L1071.7 188.8 L1071.8 189.8 L1071.8 190.8 L1071.9 191.8 L1071.9 192.8 L1072.0 193.8 L1072.1 194.8 L1072.1 195.8 L1072.2 196.8 L1072.2 197.8 L1072.3 198.8 L1072.3 199.8 L1072.4 200.8 L1072.4 201.8 L1072.5 202.8 L1072.6 203.8 L1072.6 204.8 L1072.7 205.8 L1072.7 206.8 L1072.8 207.8 L1072.8 208.8 L1072.9 209.8 L1072.9 210.8 L1073.0 211.8 L1073.0 212.8 L1073.1 213.8 L1073.2 214.8 L1073.2 215.8 L1073.3 216.8 L1073.3 217.8 L1073.4 218.8 L1073.4 219.8 L1073.5 220.8 L1073.5 221.8 L1073.6 222.8 L1073.6 223.8 L1073.7 224.8 L1073.7 225.8 L1073.8 226.8 L1073.8 227.8 L1073.9 228.8 L1073.9 229.8 L1074.0 230.8 L1074.0 231.8 L1074.1 232.7 L1074.1 233.7 L1074.1 234.7 L1074.2 235.7 L1074.2 236.7 L1074.3 237.7 L1074.3 238.7 L1074.4 239.7 L1074.4 240.7 L1074.5 241.7 L1074.5 242.7 L1074.6 243.7 L1074.6 244.7 L1074.6 245.7 L1074.7 246.7 L1074.7 247.7 L1074.8 248.7 L1074.8 249.7 L1074.8 250.7 L1074.9 251.7 L1074.9 252.7 L1075.0 253.7 L1075.0 254.7 L1075.0 255.7 L1075.1 256.7 L1075.1 257.7 L1075.1 258.7 L1075.2 259.7 L1075.2 260.7 L1075.2 261.7 L1075.3 262.7 L1075.3 263.7 L1075.3 264.7 L1075.4 265.7 L1075.4 266.7 L1075.4 267.7 L1075.5 268.7 L1075.5 269.7 L1075.5 270.7 L1075.5 271.7 L1075.6 272.7 L1075.6 273.7 L1075.6 274.7 L1075.7 275.7 L1075.7 276.7 L1075.7 277.7 L1075.8 278.7 L1075.8 279.7 L1075.8 280.7 L1075.9 281.7 L1075.9 282.7 L1076.0 283.7 L1076.0 284.7 L1076.1 285.7 L1076.1 286.7 L1076.2 287.7 L1076.2 288.7 L1076.3 289.7 L1076.3 290.7 L1076.4 291.7 L1076.4 292.7 L1076.5 293.7 L1076.5 294.7 L1076.6 295.7 L1076.7 296.7 L1076.7 297.7 L1076.8 298.7 L1076.8 299.7 L1076.9 300.7 L1077.0 301.7 L1077.0 302.7 L1077.1 303.7 L1077.2 304.7 L1077.2 305.7 L1077.3 306.7 L1077.4 307.7 L1077.4 308.7 L1077.5 309.7 L1077.6 310.7 L1077.7 311.7 L1077.7 312.7 L1077.8 313.7 L1077.9 314.7 L1078.0 315.6 L1078.0 316.6 L1078.1 317.6 L1078.2 318.6 L1078.3 319.6 L1078.3 320.6 L1078.4 321.6 L1078.5 322.6 L1078.5 323.6 L1078.6 324.6 L1078.7 325.6 L1078.7 326.6 L1078.8 327.6 L1078.9 328.6 L1078.9 329.6 L1079.0 330.6 L1079.1 331.6 L1079.1 332.6 L1079.2 333.6 L1079.3 334.6 L1079.3 335.6 L1079.4 336.6 L1079.5 337.6 L1079.5 338.6 L1079.6 339.6 L1079.7 340.6 L1079.7 341.6 L1079.8 342.6 L1079.9 343.6 L1079.9 344.6 L1080.0 345.6 L1080.1 346.6 L1080.1 347.6 L1080.2 348.6 L1080.2 349.6 L1080.3 350.6 L1080.4 351.6 L1080.4 352.6 L1080.5 353.6 L1080.6 354.6 L1080.6 355.6 L1080.7 356.6 L1080.7 357.6 L1080.8 358.6 L1080.9 359.6 L1080.9 360.6 L1081.0 361.5 L1081.0 362.5 L1081.1 363.5 L1081.2 364.5 L1081.2 365.5 L1081.3 366.5 L1081.3 367.5 L1081.4 368.5 L1081.4 369.5 L1081.5 370.5 L1081.6 371.5 L1081.6 372.5 L1081.7 373.5 L1081.8 374.5 L1081.8 375.5 L1081.9 376.5 L1082.0 377.5 L1082.0 378.5 L1082.1 379.5 L1082.2 380.5 L1082.2 381.5 L1082.3 382.5 L1082.4 383.5 L1082.4 384.5 L1082.5 385.5 L1082.6 386.5 L1082.7 387.5 L1082.7 388.5 L1082.8 389.5 L1082.9 390.5 L1082.9 391.5 L1083.0 392.5 L1083.1 393.5 L1083.2 394.5 L1083.3 395.5 L1083.3 396.5 L1083.4 397.5 L1083.5 398.5 L1083.6 399.5 L1083.7 400.5 L1083.7 401.5 L1083.8 402.4 L1083.9 403.4 L1084.0 404.4 L1084.1 405.4 L1084.2 406.4 L1084.3 407.4 L1084.4 408.4 L1084.5 409.4 L1084.6 410.4 L1084.7 411.4 L1084.7 412.4 L1084.8 413.4 L1084.9 414.4 L1085.0 415.4 L1085.1 416.4 L1085.2 417.4 L1085.3 418.4 L1085.4 419.4 L1085.5 420.4 L1085.6 421.4 L1085.7 422.4 L1085.8 423.4 L1086.0 424.3 L1086.1 425.3 L1086.2 426.3 L1086.3 427.3 L1086.4 428.3 L1086.5 429.3 L1086.6 430.3 L1086.7 431.3 L1086.8 432.3 L1087.0 433.3 L1087.1 434.3 L1087.2 435.3 L1087.3 436.3 L1087.4 437.3 L1087.6 438.3 L1087.7 439.2 L1087.8 440.2 L1087.9 441.2 L1088.1 442.2 L1088.2 443.2 L1088.3 444.2 L1088.5 445.2 L1088.6 446.2 L1088.8 447.2 L1088.9 448.2 L1089.1 449.1 L1089.3 450.1 L1089.4 451.1 L1089.6 452.1 L1089.8 453.1 L1089.9 454.1 L1090.1 455.1 L1090.3 456.0 L1090.5 457.0 L1090.7 458.0 L1090.8 459.0 L1091.0 460.0 L1091.2 461.0 L1091.3 462.0 L1091.5 462.9 L1091.6 463.9 L1091.8 464.9 L1091.9 465.9 L1092.1 466.9 L1092.2 467.9 L1092.4 468.9 L1092.5 469.9 L1092.7 470.8 L1092.9 471.8 L1093.1 472.8 L1093.3 473.8 L1093.5 474.8 L1093.7 475.7 L1093.9 476.7 L1094.1 477.7 L1094.4 478.7 L1094.6 479.6 L1094.9 480.6 L1095.2 481.6 L1095.5 482.5 L1095.7 483.5 L1096.0 484.4 L1096.3 485.4 L1096.6 486.4 L1096.9 487.3 L1097.2 488.3 L1097.5 489.2 L1097.9 490.1 L1098.3 491.0 L1098.8 491.9 L1099.3 492.8 L1099.8 493.6 L1100.4 494.4 L1101.1 495.2 L1101.7 495.9 L1102.4 496.7 L1103.1 497.4 L1103.9 498.0 L1104.6 498.7 L1105.4 499.3 L1106.2 499.9 L1107.0 500.6 L1107.7 501.2 L1108.4 502.0 L1109.0 502.7 L1109.6 503.5 L1110.2 504.3 L1110.8 505.1 L1111.3 506.0 L1111.8 506.8 L1112.3 507.7 L1112.8 508.6 L1113.2 509.5 L1113.6 510.4 L1114.0 511.3 L1114.4 512.2 L1114.8 513.2 L1115.2 514.1 L1115.6 515.0 L1115.9 516.0 L1116.3 516.9 L1116.6 517.8 L1117.0 518.8 L1117.3 519.7 L1117.7 520.6 L1118.2 521.5 L1118.6 522.4 L1119.0 523.3 L1119.5 524.2 L1120.0 525.1 L1120.5 525.9 L1121.1 526.8 L1121.7 527.6 L1122.3 528.3 L1123.0 529.1 L1123.7 529.7 L1124.5 530.4 L1125.3 530.9 L1126.2 531.4 L1127.1 531.8 L1128.0 532.1 L1128.9 532.4 L1129.8 532.6 L1130.4 532.7 L1131.0 532.8 L1131.0 532.8 Z" fill="rgb(108,150,236)" fill-opacity="0.5" stroke="rgb(108,150,236)" stroke-opacity="0.62" stroke-width="1.5" stroke-linejoin="round"/>
<path d="M985.0 532.8 L985.0 532.8 L986.2 532.8 L987.0 532.8 L988.0 532.8 L989.0 532.7 L990.0 532.7 L991.0 532.7 L992.0 532.6 L993.0 532.6 L994.0 532.5 L995.0 532.5 L996.0 532.4 L997.0 532.3 L998.0 532.3 L999.0 532.2 L1000.0 532.1 L1001.0 532.1 L1002.0 532.0 L1003.0 531.9 L1004.0 531.8 L1005.0 531.6 L1005.9 531.5 L1006.9 531.4 L1007.9 531.2 L1008.9 531.0 L1009.9 530.8 L1010.9 530.6 L1011.8 530.4 L1012.8 530.1 L1013.8 529.8 L1014.7 529.5 L1015.7 529.2 L1016.6 528.9 L1017.6 528.7 L1018.5 528.4 L1019.5 528.1 L1020.5 527.8 L1021.4 527.5 L1022.4 527.2 L1023.3 526.9 L1024.3 526.6 L1025.2 526.3 L1026.2 526.0 L1027.1 525.6 L1028.0 525.2 L1029.0 524.9 L1029.9 524.5 L1030.8 524.1 L1031.7 523.7 L1032.6 523.2 L1033.5 522.8 L1034.4 522.4 L1035.3 521.9 L1036.2 521.5 L1037.1 521.0 L1038.0 520.6 L1038.9 520.1 L1039.7 519.6 L1040.6 519.1 L1041.5 518.7 L1042.4 518.2 L1043.3 517.8 L1044.2 517.3 L1045.1 516.9 L1046.0 516.4 L1046.9 516.0 L1047.7 515.5 L1048.6 515.0 L1049.5 514.6 L1050.4 514.1 L1051.3 513.6 L1052.2 513.1 L1053.0 512.7 L1053.9 512.2 L1054.8 511.7 L1055.6 511.1 L1056.5 510.6 L1057.3 510.1 L1058.2 509.6 L1059.0 509.0 L1059.9 508.5 L1060.7 507.9 L1061.5 507.4 L1062.3 506.8 L1063.2 506.3 L1064.0 505.7 L1064.8 505.1 L1065.6 504.5 L1066.4 503.9 L1067.2 503.3 L1068.0 502.7 L1068.8 502.1 L1069.6 501.5 L1070.4 500.9 L1071.2 500.3 L1072.0 499.7 L1072.8 499.0 L1073.5 498.4 L1074.3 497.8 L1075.1 497.1 L1075.8 496.5 L1076.6 495.8 L1077.4 495.2 L1078.1 494.5 L1078.9 493.9 L1079.6 493.2 L1080.4 492.6 L1081.1 491.9 L1081.9 491.2 L1082.6 490.6 L1083.3 489.9 L1084.1 489.2 L1084.8 488.5 L1085.5 487.8 L1086.2 487.1 L1087.0 486.4 L1087.7 485.7 L1088.4 485.0 L1089.1 484.3 L1089.8 483.6 L1090.5 482.9 L1091.2 482.2 L1091.9 481.4 L1092.5 480.7 L1093.2 480.0 L1093.9 479.2 L1094.5 478.5 L1095.2 477.7 L1095.8 476.9 L1096.5 476.2 L1097.1 475.4 L1097.8 474.6 L1098.4 473.9 L1099.0 473.1 L1099.6 472.3 L1100.3 471.5 L1100.9 470.7 L1101.5 469.9 L1102.1 469.1 L1102.7 468.3 L1103.3 467.5 L1103.9 466.7 L1104.5 465.9 L1105.1 465.1 L1105.6 464.3 L1106.2 463.5 L1106.8 462.7 L1107.4 461.9 L1107.9 461.0 L1108.5 460.2 L1109.1 459.4 L1109.7 458.6 L1110.2 457.7 L1110.8 456.9 L1111.3 456.1 L1111.9 455.2 L1112.4 454.4 L1113.0 453.6 L1113.5 452.7 L1114.1 451.9 L1114.6 451.1 L1115.2 450.2 L1115.7 449.4 L1116.2 448.5 L1116.8 447.7 L1117.3 446.9 L1117.9 446.0 L1118.4 445.2 L1119.0 444.3 L1119.5 443.5 L1120.1 442.7 L1120.6 441.9 L1121.2 441.0 L1121.7 440.2 L1122.3 439.4 L1122.8 438.5 L1123.4 437.7 L1123.9 436.9 L1124.5 436.0 L1125.1 435.2 L1125.6 434.4 L1126.2 433.5 L1126.7 432.7 L1127.3 431.9 L1127.9 431.1 L1128.5 430.2 L1129.0 429.4 L1129.6 428.6 L1130.2 427.8 L1130.8 427.0 L1131.5 426.2 L1132.1 425.5 L1132.7 424.7 L1133.4 423.9 L1134.0 423.2 L1134.6 422.4 L1135.3 421.6 L1136.0 420.9 L1136.6 420.1 L1137.3 419.4 L1138.0 418.7 L1138.6 417.9 L1139.3 417.2 L1140.0 416.5 L1140.7 415.8 L1141.4 415.1 L1142.2 414.4 L1142.9 413.7 L1143.6 413.0 L1144.3 412.3 L1145.1 411.6 L1145.8 410.9 L1146.6 410.3 L1147.3 409.6 L1148.1 409.0 L1148.8 408.3 L1149.6 407.7 L1150.4 407.0 L1151.1 406.4 L1151.9 405.8 L1152.7 405.2 L1153.5 404.6 L1154.3 404.0 L1155.1 403.4 L1155.9 402.8 L1156.7 402.2 L1157.5 401.6 L1158.3 401.0 L1159.2 400.4 L1160.0 399.9 L1160.8 399.3 L1161.6 398.7 L1162.4 398.2 L1163.3 397.6 L1164.1 397.1 L1165.0 396.5 L1165.8 396.0 L1166.7 395.6 L1167.6 395.1 L1168.5 394.7 L1169.4 394.3 L1170.3 393.9 L1171.3 393.5 L1172.2 393.2 L1173.1 392.8 L1174.1 392.4 L1175.0 392.1 L1175.9 391.7 L1176.9 391.4 L1177.8 391.1 L1178.8 390.8 L1179.7 390.5 L1180.7 390.2 L1181.7 389.9 L1182.6 389.7 L1183.6 389.5 L1184.6 389.3 L1185.6 389.2 L1186.6 389.0 L1187.6 389.0 L1188.6 388.9 L1189.6 388.9 L1190.6 389.0 L1191.6 389.1 L1192.5 389.2 L1193.5 389.3 L1194.5 389.5 L1195.5 389.7 L1196.5 389.9 L1197.4 390.2 L1198.4 390.4 L1199.4 390.7 L1200.3 391.0 L1201.3 391.3 L1202.2 391.6 L1203.1 392.0 L1204.0 392.4 L1204.9 392.9 L1205.7 393.5 L1206.6 394.0 L1207.4 394.6 L1208.2 395.3 L1208.9 395.9 L1209.7 396.5 L1210.5 397.2 L1211.2 397.8 L1212.0 398.5 L1212.7 399.2 L1213.4 399.8 L1214.2 400.5 L1214.9 401.2 L1215.5 402.0 L1216.2 402.7 L1216.9 403.5 L1217.5 404.2 L1218.2 405.0 L1218.9 405.7 L1219.5 406.5 L1220.1 407.3 L1220.8 408.0 L1221.4 408.8 L1222.0 409.6 L1222.7 410.3 L1223.3 411.1 L1223.9 411.9 L1224.5 412.7 L1225.1 413.5 L1225.7 414.3 L1226.3 415.1 L1226.9 415.9 L1227.5 416.7 L1228.1 417.5 L1228.7 418.3 L1229.3 419.1 L1230.0 419.9 L1230.6 420.7 L1231.2 421.5 L1231.8 422.3 L1232.4 423.0 L1233.0 423.8 L1233.7 424.6 L1234.3 425.4 L1234.9 426.2 L1235.5 427.0 L1236.1 427.8 L1236.7 428.6 L1237.3 429.4 L1237.9 430.2 L1238.4 431.0 L1239.0 431.8 L1239.6 432.7 L1240.1 433.5 L1240.6 434.4 L1241.2 435.2 L1241.7 436.1 L1242.2 436.9 L1242.7 437.8 L1243.2 438.7 L1243.7 439.5 L1244.2 440.4 L1244.8 441.2 L1245.3 442.0 L1245.9 442.9 L1246.5 443.7 L1247.0 444.5 L1247.6 445.3 L1248.2 446.1 L1248.8 446.9 L1249.4 447.7 L1250.0 448.6 L1250.6 449.3 L1251.2 450.1 L1251.8 450.9 L1252.4 451.7 L1253.0 452.5 L1253.6 453.3 L1254.3 454.1 L1254.9 454.9 L1255.5 455.6 L1256.2 456.4 L1256.8 457.2 L1257.4 457.9 L1258.1 458.7 L1258.7 459.5 L1259.4 460.2 L1260.1 461.0 L1260.7 461.7 L1261.4 462.5 L1262.0 463.2 L1262.7 464.0 L1263.4 464.7 L1264.1 465.4 L1264.7 466.2 L1265.4 466.9 L1266.1 467.6 L1266.8 468.3 L1267.5 469.1 L1268.2 469.8 L1268.9 470.5 L1269.6 471.2 L1270.3 471.9 L1271.0 472.6 L1271.8 473.3 L1272.5 474.0 L1273.2 474.7 L1273.9 475.4 L1274.6 476.1 L1275.4 476.8 L1276.1 477.4 L1276.8 478.1 L1277.5 478.8 L1278.3 479.5 L1279.0 480.2 L1279.7 480.9 L1280.5 481.5 L1281.2 482.2 L1281.9 482.9 L1282.7 483.6 L1283.4 484.3 L1284.1 485.0 L1284.9 485.6 L1285.6 486.3 L1286.3 487.0 L1287.1 487.7 L1287.8 488.3 L1288.6 489.0 L1289.3 489.7 L1290.1 490.3 L1290.8 491.0 L1291.6 491.6 L1292.3 492.3 L1293.1 492.9 L1293.9 493.5 L1294.7 494.2 L1295.4 494.8 L1296.2 495.4 L1297.0 496.0 L1297.8 496.6 L1298.6 497.2 L1299.4 497.8 L1300.2 498.4 L1301.1 499.0 L1301.9 499.5 L1302.7 500.1 L1303.5 500.7 L1304.3 501.2 L1305.2 501.8 L1306.0 502.4 L1306.8 502.9 L1307.7 503.5 L1308.5 504.0 L1309.4 504.5 L1310.2 505.1 L1311.1 505.6 L1311.9 506.1 L1312.8 506.6 L1313.6 507.1 L1314.5 507.6 L1315.4 508.1 L1316.2 508.6 L1317.1 509.0 L1317.8 509.4 L1318.7 509.9 L1318.7 532.8 Z" fill="rgb(255,0,255)" fill-opacity="0.5" stroke="rgb(255,0,255)" stroke-opacity="0.62" stroke-width="1.5" stroke-linejoin="round"/>
<path d="M985.0 532.8 L985.0 532.8 L986.2 532.8 L987.0 532.8 L988.0 532.8 L989.0 532.7 L990.0 532.7 L991.0 532.7 L992.0 532.6 L993.0 532.6 L994.0 532.5 L995.0 532.5 L996.0 532.4 L997.0 532.3 L998.0 532.3 L999.0 532.2 L1000.0 532.1 L1001.0 532.1 L1002.0 532.0 L1003.0 531.9 L1004.0 531.8 L1005.0 531.6 L1005.9 531.5 L1006.9 531.4 L1007.9 531.2 L1008.9 531.0 L1009.9 530.8 L1010.9 530.6 L1011.8 530.4 L1012.8 530.1 L1013.8 529.8 L1014.7 529.5 L1015.7 529.2 L1016.6 528.9 L1017.6 528.7 L1018.5 528.4 L1019.5 528.1 L1020.5 527.8 L1021.4 527.5 L1022.4 527.2 L1023.3 526.9 L1024.3 526.6 L1025.2 526.3 L1026.2 526.0 L1027.1 525.6 L1028.0 525.2 L1029.0 524.9 L1029.9 524.5 L1030.8 524.1 L1031.7 523.7 L1032.6 523.2 L1033.5 522.8 L1034.4 522.4 L1035.3 521.9 L1036.2 521.5 L1037.1 521.0 L1038.0 520.6 L1038.9 520.1 L1039.7 519.6 L1040.6 519.1 L1041.5 518.7 L1042.4 518.2 L1043.3 517.8 L1044.2 517.3 L1045.1 516.9 L1046.0 516.4 L1046.9 516.0 L1047.7 515.5 L1048.6 515.0 L1049.5 514.6 L1050.4 514.1 L1051.3 513.6 L1052.2 513.1 L1053.0 512.7 L1053.9 512.2 L1054.8 511.7 L1055.6 511.1 L1056.5 510.6 L1057.3 510.1 L1058.2 509.6 L1059.0 509.0 L1059.9 508.5 L1060.7 507.9 L1061.5 507.4 L1062.3 506.8 L1063.2 506.3 L1064.0 505.7 L1064.8 505.1 L1065.6 504.5 L1066.4 503.9 L1067.2 503.3 L1068.0 502.7 L1068.8 502.1 L1069.6 501.5 L1070.4 500.9 L1071.2 500.3 L1072.0 499.7 L1072.8 499.0 L1073.5 498.4 L1074.3 497.8 L1075.1 497.1 L1075.8 496.5 L1076.6 495.8 L1077.4 495.2 L1078.1 494.5 L1078.9 493.9 L1079.6 493.2 L1080.4 492.6 L1081.1 491.9 L1081.9 491.2 L1082.6 490.6 L1083.3 489.9 L1084.1 489.2 L1084.8 488.5 L1085.5 487.8 L1086.2 487.1 L1087.0 486.4 L1087.7 485.7 L1088.4 485.0 L1089.1 484.3 L1089.8 483.6 L1090.5 482.9 L1091.2 482.2 L1091.9 481.4 L1092.5 480.7 L1093.2 480.0 L1093.9 479.2 L1094.5 478.5 L1095.2 477.7 L1095.8 476.9 L1096.5 476.2 L1097.1 475.4 L1097.8 474.6 L1098.4 473.9 L1099.0 473.1 L1099.6 472.3 L1100.3 471.5 L1100.9 470.7 L1101.5 469.9 L1102.1 469.1 L1102.7 468.3 L1103.3 467.5 L1103.9 466.7 L1104.5 465.9 L1105.1 465.1 L1105.6 464.3 L1106.2 463.5 L1106.8 462.7 L1107.4 461.9 L1107.9 461.0 L1108.5 460.2 L1109.1 459.4 L1109.7 458.6 L1110.2 457.7 L1110.8 456.9 L1111.3 456.1 L1111.9 455.2 L1112.4 454.4 L1113.0 453.6 L1113.5 452.7 L1114.1 451.9 L1114.6 451.1 L1115.2 450.2 L1115.7 449.4 L1116.2 448.5 L1116.8 447.7 L1117.3 446.9 L1117.9 446.0 L1118.4 445.2 L1119.0 444.3 L1119.5 443.5 L1120.1 442.7 L1120.6 441.9 L1121.2 441.0 L1121.7 440.2 L1122.3 439.4 L1122.8 438.5 L1123.4 437.7 L1123.9 436.9 L1124.5 436.0 L1125.1 435.2 L1125.6 434.4 L1126.2 433.5 L1126.7 432.7 L1127.3 431.9 L1127.9 431.1 L1128.5 430.2 L1129.0 429.4 L1129.6 428.6 L1130.2 427.8 L1130.8 427.0 L1131.5 426.2 L1132.1 425.5 L1132.7 424.7 L1133.4 423.9 L1134.0 423.2 L1134.6 422.4 L1135.3 421.6 L1136.0 420.9 L1136.6 420.1 L1137.3 419.4 L1138.0 418.7 L1138.6 417.9 L1139.3 417.2 L1140.0 416.5 L1140.7 415.8 L1141.4 415.1 L1142.2 414.4 L1142.9 413.7 L1143.6 413.0 L1144.3 412.3 L1145.1 411.6 L1145.8 410.9 L1146.6 410.3 L1147.3 409.6 L1148.1 409.0 L1148.8 408.3 L1149.6 407.7 L1150.4 407.0 L1151.1 406.4 L1151.9 405.8 L1152.7 405.2 L1153.5 404.6 L1154.3 404.0 L1155.1 403.4 L1155.9 402.8 L1156.7 402.2 L1157.5 401.6 L1158.3 401.0 L1159.2 400.4 L1160.0 399.9 L1160.8 399.3 L1161.6 398.7 L1162.4 398.2 L1163.3 397.6 L1164.1 397.1 L1165.0 396.5 L1165.8 396.0 L1166.7 395.6 L1167.6 395.1 L1168.5 394.7 L1169.4 394.3 L1170.3 393.9 L1171.3 393.5 L1172.2 393.2 L1173.1 392.8 L1174.1 392.4 L1175.0 392.1 L1175.9 391.7 L1176.9 391.4 L1177.8 391.1 L1178.8 390.8 L1179.7 390.5 L1180.7 390.2 L1181.7 389.9 L1182.6 389.7 L1183.6 389.5 L1184.6 389.3 L1185.6 389.2 L1186.6 389.0 L1187.6 389.0 L1188.6 388.9 L1189.6 388.9 L1190.6 389.0 L1191.6 389.1 L1192.5 389.2 L1193.5 389.3 L1194.5 389.5 L1195.5 389.7 L1196.5 389.9 L1197.4 390.2 L1198.4 390.4 L1199.4 390.7 L1200.3 391.0 L1201.3 391.3 L1202.2 391.6 L1203.1 392.0 L1204.0 392.4 L1204.9 392.9 L1205.7 393.5 L1206.6 394.0 L1207.4 394.6 L1208.2 395.3 L1208.9 395.9 L1209.7 396.5 L1210.5 397.2 L1211.2 397.8 L1212.0 398.5 L1212.7 399.2 L1213.4 399.8 L1214.2 400.5 L1214.9 401.2 L1215.5 402.0 L1216.2 402.7 L1216.9 403.5 L1217.5 404.2 L1218.2 405.0 L1218.9 405.7 L1219.5 406.5 L1220.1 407.3 L1220.8 408.0 L1221.4 408.8 L1222.0 409.6 L1222.7 410.3 L1223.3 411.1 L1223.9 411.9 L1224.5 412.7 L1225.1 413.5 L1225.7 414.3 L1226.3 415.1 L1226.9 415.9 L1227.5 416.7 L1228.1 417.5 L1228.7 418.3 L1229.3 419.1 L1230.0 419.9 L1230.6 420.7 L1231.2 421.5 L1231.8 422.3 L1232.4 423.0 L1233.0 423.8 L1233.7 424.6 L1234.3 425.4 L1234.9 426.2 L1235.5 427.0 L1236.1 427.8 L1236.7 428.6 L1237.3 429.4 L1237.9 430.2 L1238.4 431.0 L1239.0 431.8 L1239.6 432.7 L1240.1 433.5 L1240.6 434.4 L1241.2 435.2 L1241.7 436.1 L1242.2 436.9 L1242.7 437.8 L1243.2 438.7 L1243.7 439.5 L1244.2 440.4 L1244.8 441.2 L1245.3 442.0 L1245.9 442.9 L1246.5 443.7 L1247.0 444.5 L1247.6 445.3 L1248.2 446.1 L1248.8 446.9 L1249.4 447.7 L1250.0 448.6 L1250.6 449.3 L1251.2 450.1 L1251.8 450.9 L1252.4 451.7 L1253.0 452.5 L1253.6 453.3 L1254.3 454.1 L1254.9 454.9 L1255.5 455.6 L1256.2 456.4 L1256.8 457.2 L1257.4 457.9 L1258.1 458.7 L1258.7 459.5 L1259.4 460.2 L1260.1 461.0 L1260.7 461.7 L1261.4 462.5 L1262.0 463.2 L1262.7 464.0 L1263.4 464.7 L1264.1 465.4 L1264.7 466.2 L1265.4 466.9 L1266.1 467.6 L1266.8 468.3 L1267.5 469.1 L1268.2 469.8 L1268.9 470.5 L1269.6 471.2 L1270.3 471.9 L1271.0 472.6 L1271.8 473.3 L1272.5 474.0 L1273.2 474.7 L1273.9 475.4 L1274.6 476.1 L1275.4 476.8 L1276.1 477.4 L1276.8 478.1 L1277.5 478.8 L1278.3 479.5 L1279.0 480.2 L1279.7 480.9 L1280.5 481.5 L1281.2 482.2 L1281.9 482.9 L1282.7 483.6 L1283.4 484.3 L1284.1 485.0 L1284.9 485.6 L1285.6 486.3 L1286.3 487.0 L1287.1 487.7 L1287.8 488.3 L1288.6 489.0 L1289.3 489.7 L1290.1 490.3 L1290.8 491.0 L1291.6 491.6 L1292.3 492.3 L1293.1 492.9 L1293.9 493.5 L1294.7 494.2 L1295.4 494.8 L1296.2 495.4 L1297.0 496.0 L1297.8 496.6 L1298.6 497.2 L1299.4 497.8 L1300.2 498.4 L1301.1 499.0 L1301.9 499.5 L1302.7 500.1 L1303.5 500.7 L1304.3 501.2 L1305.2 501.8 L1306.0 502.4 L1306.8 502.9 L1307.7 503.5 L1308.5 504.0 L1309.4 504.5 L1310.2 505.1 L1311.1 505.6 L1311.9 506.1 L1312.8 506.6 L1313.6 507.1 L1314.5 507.6 L1315.4 508.1 L1316.2 508.6 L1317.1 509.0 L1317.8 509.4 L1318.7 509.9 L1318.7 532.8 Z" fill="rgb(0,0,255)" fill-opacity="0.5" style="mix-blend-mode:lighten"/>
</g>
<line x1="763.8" x2="763.8" y1="532.8" y2="537.1999999999999" stroke="#242424" stroke-width="1.15"/>
<text class="tk" x="763.8" y="557.8" text-anchor="middle">0.25</text>
<line x1="839.8" x2="839.8" y1="532.8" y2="537.1999999999999" stroke="#242424" stroke-width="1.15"/>
<text class="tk" x="839.8" y="557.8" text-anchor="middle">0.50</text>
<line x1="915.7" x2="915.7" y1="532.8" y2="537.1999999999999" stroke="#242424" stroke-width="1.15"/>
<text class="tk" x="915.7" y="557.8" text-anchor="middle">0.75</text>
<line x1="991.6" x2="991.6" y1="532.8" y2="537.1999999999999" stroke="#242424" stroke-width="1.15"/>
<text class="tk" x="991.6" y="557.8" text-anchor="middle">1.00</text>
<line x1="1067.5" x2="1067.5" y1="532.8" y2="537.1999999999999" stroke="#242424" stroke-width="1.15"/>
<text class="tk" x="1067.5" y="557.8" text-anchor="middle">1.25</text>
<line x1="1143.5" x2="1143.5" y1="532.8" y2="537.1999999999999" stroke="#242424" stroke-width="1.15"/>
<text class="tk" x="1143.5" y="557.8" text-anchor="middle">1.50</text>
<line x1="1219.4" x2="1219.4" y1="532.8" y2="537.1999999999999" stroke="#242424" stroke-width="1.15"/>
<text class="tk" x="1219.4" y="557.8" text-anchor="middle">1.75</text>
<line x1="1295.3" x2="1295.3" y1="532.8" y2="537.1999999999999" stroke="#242424" stroke-width="1.15"/>
<text class="tk" x="1295.3" y="557.8" text-anchor="middle">2.00</text>
<line x1="742.3000000000001" x2="746.7" y1="532.8" y2="532.8" stroke="#242424" stroke-width="1.15"/>
<text class="tk" x="737.8" y="541.2" text-anchor="end">0</text>
<line x1="742.3000000000001" x2="746.7" y1="455.3" y2="455.3" stroke="#242424" stroke-width="1.15"/>
<text class="tk" x="737.8" y="463.7" text-anchor="end">1</text>
<line x1="742.3000000000001" x2="746.7" y1="377.8" y2="377.8" stroke="#242424" stroke-width="1.15"/>
<text class="tk" x="737.8" y="386.2" text-anchor="end">2</text>
<line x1="742.3000000000001" x2="746.7" y1="300.3" y2="300.3" stroke="#242424" stroke-width="1.15"/>
<text class="tk" x="737.8" y="308.7" text-anchor="end">3</text>
<line x1="742.3000000000001" x2="746.7" y1="222.8" y2="222.8" stroke="#242424" stroke-width="1.15"/>
<text class="tk" x="737.8" y="231.2" text-anchor="end">4</text>
<line x1="742.3000000000001" x2="746.7" y1="145.3" y2="145.3" stroke="#242424" stroke-width="1.15"/>
<text class="tk" x="737.8" y="153.7" text-anchor="end">5</text>
<line x1="742.3000000000001" x2="746.7" y1="67.8" y2="67.8" stroke="#242424" stroke-width="1.15"/>
<text class="tk" x="737.8" y="76.2" text-anchor="end">6</text>
<rect x="746.7" y="3.8" width="599.7" height="529.0" fill="none" stroke="#242424" stroke-width="1.25"/>
<text class="lb" x="1046.6" y="587" text-anchor="middle">Hydration Free Energy (kJ/mol)</text>
<text class="lb" transform="translate(714.7,268.9) rotate(-90)" text-anchor="middle">Probability Density</text>
<rect x="758.2" y="15.9" width="266.20000000000005" height="182.4" rx="4.5" ry="4.5" fill="#fff" fill-opacity="0.8" stroke="#cccccc" stroke-width="1.2"/>
<rect x="767.8" y="26.7" width="48" height="17.0" fill="rgb(234,0,4)" fill-opacity="0.5" stroke="rgb(234,0,4)" stroke-opacity="0.62" stroke-width="1.4"/>
<text class="lg" x="835.0" y="44.0">Ground Truth</text>
<rect x="767.8" y="61.7" width="48" height="17.0" fill="rgb(71,239,61)" fill-opacity="0.5" stroke="rgb(71,239,61)" stroke-opacity="0.62" stroke-width="1.4"/>
<text class="lg" x="835.0" y="79.0">Chemprop</text>
<rect x="767.8" y="96.6" width="48" height="17.0" fill="rgb(23,145,123)" fill-opacity="0.5" stroke="rgb(23,145,123)" stroke-opacity="0.62" stroke-width="1.4"/>
<text class="lg" x="835.0" y="113.9">MLP</text>
<rect x="767.8" y="131.6" width="48" height="17.0" fill="rgb(108,150,236)" fill-opacity="0.5" stroke="rgb(108,150,236)" stroke-opacity="0.62" stroke-width="1.4"/>
<text class="lg" x="835.0" y="148.9">Random Forest</text>
<rect x="767.8" y="166.5" width="48" height="17.0" fill="rgb(255,0,255)" fill-opacity="0.5" stroke="rgb(255,0,255)" stroke-opacity="0.62" stroke-width="1.4"/>
<text class="lg" x="835.0" y="183.8">Transduction</text>
</svg></body></html>
